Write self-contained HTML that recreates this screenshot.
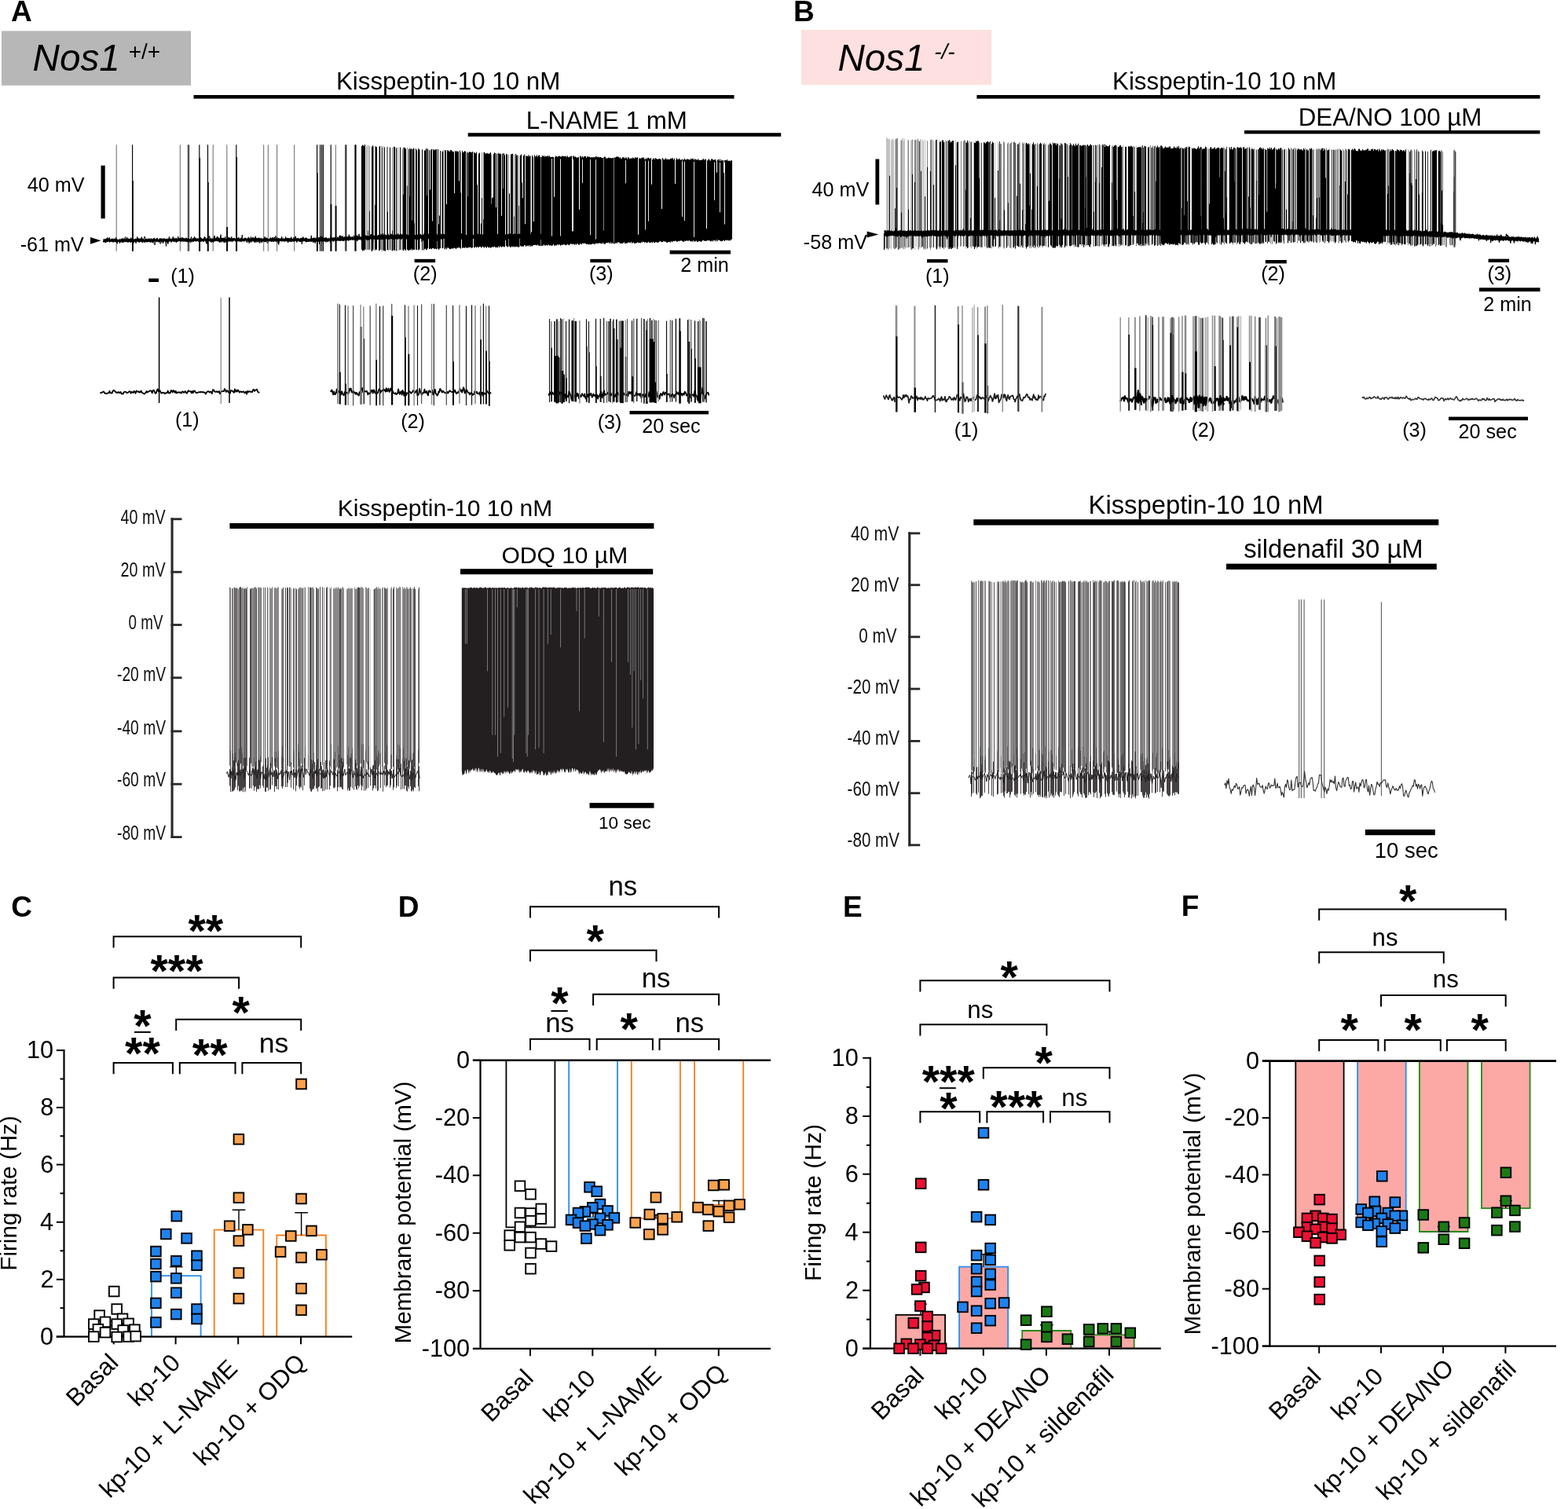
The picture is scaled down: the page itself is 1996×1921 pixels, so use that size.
<!DOCTYPE html>
<html lang="en"><head><meta charset="utf-8"><title>Figure</title>
<style>html,body{margin:0;padding:0;background:#fff}svg{display:block}text{font-family:"Liberation Sans",Arial,Helvetica,sans-serif}</style></head>
<body>
<svg width="1996" height="1921" viewBox="0 0 1996 1921">
<rect width="1996" height="1921" fill="#fff"/>
<g id="panelA">
<text x="14.03" y="27.20" font-size="37" font-weight="bold" >A</text>
<rect x="1.90" y="39.40" width="241.10" height="69.40" fill="#b7b7b7" />
<text x="41.60" y="90.00" font-size="47.6" font-style="italic" >Nos1</text>
<text x="163.72" y="75.30" font-size="28" >+/+</text>
<text x="427.95" y="113.90" font-size="31.3" >Kisspeptin-10 10 nM</text>
<rect x="246.50" y="121.00" width="688.00" height="4.60" fill="#000" />
<text x="669.76" y="164.30" font-size="31.3" >L-NAME 1 mM</text>
<rect x="595.70" y="169.20" width="398.50" height="4.60" fill="#000" />
<rect x="128.50" y="210.70" width="5.20" height="67.50" fill="#000" />
<text x="34.75" y="244.00" font-size="25.2" >40 mV</text>
<text x="25.67" y="320.00" font-size="25.2" >-61 mV</text>
<polygon points="115,302 128.5,306.3 115,310.8"/>
<path d="M465.5 303V318.4M466.5 186.4V317.8M468.5 184.8V317.9M470.5 186V317.8M472.5 302.7V319.1M475.5 186.2V317.6M477.5 186.1V318.5M482.5 186.8V318.9M484.5 302.2V317.7M485.5 185.9V318.2M486.5 187.9V319.7M487.5 186.2V318.2M492.5 186.9V318.7M493.5 186.6V318.1M494.5 301.8V319.1M498.5 301.6V319.3M499.5 187.5V318.9M500.5 301.5V319.8M506.5 187.5V319.2M508.5 301.5V318.6M511.5 301.5V318M512.5 189.7V318.3M513.5 187.4V319.3M518.5 188V317.7M521.5 187.8V318.1M524.5 188.9V318.6M527.5 189V317.8M534.5 191V318M543.5 189.5V317.9M547.5 301.4V316.6M550.5 301.4V315.9M556.5 301.4V317.2M558.5 301.4V317.9M559.5 301.4V316.4M562.5 192.5V316.3M564.5 191V315.5M565.5 301.3V316.7M568.5 301.3V317.3M586.5 194V316.6M595.5 192.7V315.5M613.5 194V314.3M615.5 194.1V314.6M625.5 196.6V315.1M627.5 301.2V314.5M631.5 301.2V314.5M638.5 301.2V314.8M640.5 195V313.4M647.5 196.7V313.6M654.5 196.7V314.5M655.5 301.1V313.7M660.5 197.8V314.6M661.5 301.1V314.4M675.5 199.1V314M688.5 199.2V313.3M768.5 199.9V310.2M781.5 200.6V310M868.5 202.4V307.1" stroke="#8a8a8a" stroke-width="1" fill="none" />
<path d="M460.5 185.9V317.8M461.5 184.4V319.5M462.5 184.9V318.2M463.5 186.2V319.3M464.5 184.1V317.5M468.5 293.8V317.9M470.5 268.7V317.8M473.5 187.1V319.9M474.5 185.3V318.2M477.5 260.7V318.5M478.5 186.4V317.5M479.5 187.2V317.9M482.5 304.3V318.9M483.5 186.1V318.8M488.5 302V319.1M489.5 187.3V319.2M490.5 301.9V319.8M493.5 269.6V318.1M496.5 187.6V318.3M499.5 293.6V318.9M501.5 186.8V318M502.5 186.9V319.1M504.5 188.3V319.6M509.5 187.6V318.1M513.5 247.6V319.3M514.5 187.8V317.3M515.5 187.9V317.7M516.5 189.4V318.9M518.5 236.4V317.7M519.5 301.5V318.9M520.5 189.8V318.9M521.5 250.1V318.1M522.5 189.6V318.4M523.5 189.6V316.8M524.5 280.5V318.6M525.5 190V317.4M526.5 188.4V318.3M527.5 284.2V317.8M529.5 189.2V317.8M530.5 190.9V317.9M532.5 188.9V318.6M533.5 190V317.6M537.5 190.2V318.5M539.5 301.4V318.5M540.5 191.5V316.7M541.5 191.5V316.8M542.5 189.1V317.8M543.5 248.8V317.9M544.5 189.6V316.1M546.5 191.3V316.9M547.5 241.5V316.6M548.5 190.7V316.5M549.5 189.7V317.2M550.5 281.4V315.9M551.5 190V316M552.5 191.3V316.4M553.5 190.5V316.9M554.5 190.4V316.4M555.5 190V317.3M557.5 190.1V316.3M558.5 285.6V317.9M559.5 274.6V316.4M560.5 192V316.1M563.5 192.7V315.9M566.5 190.9V317.5M567.5 191.7V315.6M568.5 260V317.3M569.5 190.9V315.6M570.5 192.5V315.3M571.5 191.4V315.9M572.5 193.2V317.3M573.5 191V317M574.5 191V316.8M575.5 192.8V316.1M576.5 192.4V316.7M577.5 193.4V316M578.5 246V315.5M579.5 191.9V315.9M580.5 193.3V317.1M581.5 192V315.4M582.5 192.9V315.7M583.5 192.7V315.3M584.5 301.3V314.9M584.5 230.6V314.9M585.5 191.6V315.8M586.5 245.2V316.6M588.5 191.9V315.5M589.5 194.1V315.8M590.5 193.4V315.1M591.5 192.2V316M592.5 192.8V314.4M593.5 301.3V315.6M594.5 194.2V315.4M595.5 250.1V315.5M596.5 194.4V314.7M597.5 193.5V315M598.5 193.1V314.8M599.5 194.1V314.8M600.5 194V316M601.5 193V315.1M603.5 194.1V315.3M604.5 194.6V315.3M605.5 195.2V314.1M606.5 193.6V315.4M607.5 301.2V314.1M607.5 235.2V314.1M608.5 301.2V314.9M609.5 195.4V315.1M610.5 194.4V314.1M611.5 301.2V314.1M612.5 284.6V315.6M613.5 251.9V314.3M614.5 301.2V313.8M615.5 279.2V314.6M616.5 193.7V315.6M617.5 194.8V314.1M618.5 196V314.8M619.5 194.7V315.7M620.5 195V313.8M621.5 195.9V314.7M622.5 195.3V315.5M623.5 195.4V314.6M624.5 194V315.7M625.5 259.8V315.1M626.5 301.2V314.3M626.5 252.2V314.3M627.5 251.1V314.5M628.5 196.1V314.5M629.5 194.3V313.5M630.5 195.1V314.9M631.5 264V314.5M632.5 195.4V314.9M633.5 301.2V315.2M634.5 194.7V313.2M635.5 195.9V315M636.5 195.3V313.6M637.5 196.2V313.7M638.5 274.8V314.8M639.5 195.7V314.1M640.5 240V313.4M641.5 195.3V314.6M642.5 197.5V314.3M644.5 195.7V312.9M645.5 196.7V314.2M646.5 301.1V314.5M648.5 246.5V313.7M649.5 301.1V314.7M650.5 196.5V314.7M651.5 196.1V313.6M652.5 195.8V314.5M653.5 301.1V313.4M654.5 275.6V314.5M655.5 301.2V313.7M656.5 195.9V314.6M657.5 197.7V313.8M658.5 197.4V314.2M659.5 301.1V314.6M660.5 261.7V314.6M662.5 197.7V313.2M663.5 196.6V313.2M664.5 232.6V313.9M665.5 301.1V313.6M665.5 252V313.6M666.5 198.2V313.8M667.5 196.6V312.2M668.5 301.1V311.9M668.5 285.3V311.9M669.5 198.3V313.9M670.5 198.7V312.8M671.5 198.9V313M672.5 197.2V312.2M673.5 199.5V313.7M674.5 197.9V312M675.5 298.3V314M676.5 301.1V312.7M676.5 295.3V312.7M677.5 197.7V313.6M678.5 199.7V312.6M679.5 301.1V311.7M679.5 282V311.7M680.5 197.5V311.9M681.5 199.3V311.7M682.5 199V311.9M683.5 197.3V312.5M684.5 199.8V311.5M685.5 197.9V312.4M686.5 197.5V312.9M687.5 199.8V313.1M689.5 200V312.9M690.5 197.9V313.1M691.5 199.3V311.3M692.5 198.1V312.7M693.5 199.8V311.4M694.5 198.7V312.7M695.5 198.9V312M696.5 199.2V312.2M697.5 198V312.4M698.5 199.5V311.3M699.5 198.3V312.7M700.5 200.1V312.2M701.5 200V312.4M702.5 199.8V313M703.5 199.8V312.3M704.5 200V311M705.5 250.5V312.5M706.5 200.2V313M707.5 198.5V311.9M708.5 199V312.4M709.5 200.1V311.1M710.5 198.6V312.2M711.5 199V310.8M712.5 198.4V311.8M713.5 199.5V312.7M714.5 199.4V311.9M715.5 198.4V311.4M716.5 198.8V312M717.5 198.7V310.8M718.5 199V311.4M719.5 199V311.7M720.5 198.6V312.3M721.5 199.9V311.5M722.5 198.3V310.9M723.5 200V311.6M724.5 200.3V312.2M725.5 199V311.2M726.5 199.1V310.3M727.5 198.6V310.6M728.5 294.3V311.2M729.5 198.4V310.3M730.5 198.6V311.2M731.5 199.7V311.4M732.5 199.2V310.6M733.5 200.4V311.7M734.5 200.6V310.3M735.5 200.4V310.4M736.5 200.1V311.7M737.5 266.5V311.4M738.5 198.6V310.4M739.5 198.9V310.2M740.5 200.5V311.2M741.5 198.7V309.7M742.5 200.5V309.7M743.5 199.4V310.1M744.5 198.8V309.5M745.5 199V310.3M746.5 201.1V310.9M747.5 199.3V310.9M748.5 199.4V310.5M749.5 199.6V311.5M750.5 199.7V311.1M751.5 200.4V311.2M752.5 200.4V311.2M753.5 199.9V310.7M754.5 200.5V310.3M755.5 200.3V310.3M756.5 199.9V311.2M757.5 200.6V310.3M758.5 199.1V310.2M759.5 199.4V309.4M760.5 200.1V310.2M761.5 199.6V309.5M762.5 200.4V309.9M763.5 200.1V309M764.5 200V310.3M765.5 200.5V310M766.5 201.3V310.4M767.5 200.9V308.7M768.5 293.5V310.2M769.5 199.5V310.7M770.5 199.8V310.6M771.5 201.4V309.3M772.5 201.5V308.9M773.5 201.5V309.3M774.5 200.4V308.7M775.5 200.9V309M776.5 201.1V310.3M777.5 200.9V308.3M778.5 201.8V310.5M779.5 201.1V309.1M780.5 200.9V310.3M782.5 200.5V310.4M783.5 200.5V309.6M784.5 199.6V309.2M785.5 199.6V309.8M786.5 199.5V308.2M787.5 199.8V308.4M788.5 200.9V308.9M789.5 200.3V310.3M790.5 202V309.5M791.5 201.7V309.9M792.5 200.3V309.9M793.5 200.3V309.2M794.5 200.6V308.2M795.5 201.8V310M796.5 200.6V309.9M797.5 200.7V309.4M798.5 202.4V309.6M799.5 200V308.8M800.5 200.8V308.4M801.5 202V308.8M802.5 201.7V309.2M803.5 201.3V307.8M804.5 201.7V309.8M805.5 200.4V309.2M806.5 201.2V308.4M807.5 201.8V309.9M808.5 200.1V309.7M809.5 201V309.5M810.5 200.5V309.2M811.5 200.3V308.3M812.5 298.4V309M813.5 201.9V309.2M814.5 201.1V309M815.5 201.9V309.6M816.5 201.3V308.3M817.5 200.5V308.5M818.5 200.9V307.6M819.5 200.3V308.3M820.5 202.4V308.8M821.5 202.7V308.3M822.5 201.3V308.4M823.5 202.5V309.4M824.5 200.8V308.4M825.5 200.7V307.7M826.5 201.6V309.1M827.5 202.3V309M828.5 201V308.7M829.5 234.6V308.3M830.5 203V309.2M831.5 202.2V307.8M832.5 201.2V308.8M833.5 203V309.2M834.5 201V308.3M835.5 201.9V307.9M836.5 202.7V309.1M837.5 202.5V308.5M838.5 202.5V308.4M839.5 202.1V307.4M840.5 202.7V307.1M841.5 202.4V307.7M842.5 265.8V308.3M843.5 200.9V308M844.5 202.8V306.7M845.5 203.1V307.8M846.5 202.7V307M847.5 201.2V308M848.5 203V308.4M849.5 202.6V308.9M850.5 203V307.9M851.5 202.8V308.2M852.5 203.1V307.7M853.5 201.7V308.7M854.5 201.7V307.1M855.5 201.5V308.2M856.5 201.3V307.3M857.5 203.5V307M858.5 201.8V307.3M859.5 233.7V306.4M860.5 203.6V306.8M861.5 201.3V307.7M862.5 202.8V307.6M863.5 203.1V306.8M864.5 201.6V307.3M865.5 203.1V306.4M866.5 203.7V306.5M867.5 203V306.2M868.5 271.3V307.1M869.5 203.1V307.4M870.5 203.8V308.1M871.5 201.7V306.5M872.5 203.3V307M873.5 203.4V306.4M874.5 202.2V306.3M875.5 202.7V306.7M876.5 202.8V306.6M877.5 203.3V306M878.5 203.6V307.4M879.5 201.8V306.7M880.5 202.7V307.3M881.5 201.7V307.7M882.5 202V306.1M883.5 204V307.7M884.5 202V306.8M885.5 203.2V307.5M886.5 203V306.6M887.5 204.1V308M888.5 202.3V307.9M889.5 203.5V306.9M890.5 203.9V307M891.5 203.7V307.3M892.5 203.9V307.9M893.5 203.3V307.1M894.5 203.3V306.1M895.5 202V305.9M896.5 203.7V306.8M897.5 202.5V306.4M898.5 202.7V307M899.5 291V306.6M900.5 204.2V305.7M901.5 203.5V306.4M902.5 202.2V305.8M903.5 204.2V306.6M904.5 204.5V307.4M905.5 202.4V306.9M906.5 202.2V306.2M907.5 203.3V307.5M908.5 203.7V305.6M909.5 203.5V306.4M910.5 202.7V306M911.5 204.5V307.5M912.5 219.4V305.2M913.5 203.5V307.1M914.5 202.8V305.4M915.5 204.7V305.7M916.5 202.5V306.2M917.5 205V307M918.5 203.4V307.3M919.5 204.5V306.9M920.5 204.1V305.8M921.5 220V306M922.5 203.9V307M923.5 203.7V305.8M924.5 204.1V305.6M925.5 202.9V306.2M926.5 204.8V305.4M927.5 204.8V306.6M928.5 204.6V305.7M929.5 205.2V306.6M930.5 204.2V304.9M931.5 204.2V304.7" stroke="#000" stroke-width="1.08" fill="none" />
<path d="M705.5 201.8V250.5M728.5 200.5V294.3M737.5 201.2V266.5M812.5 204.6V298.4M829.5 205V234.6M842.5 204.2V265.8M859.5 204.6V233.7M899.5 205V291M912.5 206.3V219.4M921.5 206.8V220" stroke="#fff" stroke-width="1.0" fill="none" />
<path d="M148.2 184.3V319.8M229.3 184.3V319.8M239 184.3V319.8M271.2 184.3V319.8M288.8 184.3V319.8M335.7 184.3V319.8M341.3 184.3V319.8M352.6 184.3V319.8M374.7 184.3V319.8M427.3 184.3V319.8M439.3 184.3V319.8" stroke="#666" stroke-width="1.0" fill="none" />
<path d="M168.6 184.3V319.8M240.3 184.3V319.8M253.8 184.3V319.8M264.5 184.3V319.8M300.8 184.3V319.8M403.6 184.3V319.8M407.6 184.3V319.8M409.6 184.3V319.8M411.4 184.3V319.8M421.2 184.3V319.8M440.6 184.3V319.8M452 184.3V319.8M453 184.3V319.8" stroke="#000" stroke-width="1.15" fill="none" />
<path d="M168.9 230V319.8M254.1 201V319.8M264.8 232V319.8M289.1 289V319.8M301.1 200V319.8M403.9 220V319.8M421.5 260V319.8M427.6 262V319.8" stroke="#000" stroke-width="1.9" fill="none" />
<path d="M131.5 307.9 L132.3 305.2 L133.1 304.5 L133.9 308.2 L134.7 304.5 L135.5 304.2 L136.3 303.3 L137.1 306.5 L137.9 307.6 L138.7 304.4 L139.5 302.4 L140.3 306.2 L141.1 307.5 L141.9 306.3 L142.7 305.6 L143.5 307.5 L144.3 307.2 L145.1 305.5 L145.9 307.6 L146.7 307.4 L147.5 302.3 L148.3 306 L149.1 310.3 L149.9 306.1 L150.7 305.7 L151.5 305.8 L152.3 308.9 L153.1 307.3 L153.9 306.9 L154.7 304.7 L155.5 308.8 L156.3 305.6 L157.1 303.5 L157.9 304.8 L158.7 307.3 L159.5 306.7 L160.3 307.7 L161.1 305.5 L161.9 307.6 L162.7 307 L163.5 305.9 L164.3 304.5 L165.1 306.5 L165.9 307.7 L166.7 302.7 L167.5 306.5 L168.3 304.7 L169.1 310.1 L169.9 309.9 L170.7 305.5 L171.5 307.7 L172.3 306.9 L173.1 309.8 L173.9 304.2 L174.7 307.6 L175.5 307.7 L176.3 303.7 L177.1 308.7 L177.9 307.8 L178.7 306.3 L179.5 306 L180.3 301.6 L181.1 308.7 L181.9 306.7 L182.7 303.8 L183.5 302.3 L184.3 301 L185.1 308.6 L185.9 306.3 L186.7 307 L187.5 307.9 L188.3 308 L189.1 307.1 L189.9 307.1 L190.7 306.2 L191.5 306.6 L192.3 307.8 L193.1 305.5 L193.9 309.2 L194.7 305.2 L195.5 306.8 L196.3 310.7 L197.1 311.8 L197.9 306.3 L198.7 307.5 L199.5 306.2 L200.3 305.6 L201.1 305.8 L201.9 306 L202.7 305 L203.5 306.1 L204.3 305.4 L205.1 304.4 L205.9 305.6 L206.7 305.3 L207.5 308.2 L208.3 304.4 L209.1 307.4 L209.9 305 L210.7 304.7 L211.5 307.2 L212.3 308.7 L213.1 304.4 L213.9 310.5 L214.7 303.7 L215.5 306.9 L216.3 306.2 L217.1 305.9 L217.9 308.1 L218.7 307.6 L219.5 303.1 L220.3 301.3 L221.1 302.8 L221.9 307.1 L222.7 305.3 L223.5 306.4 L224.3 302.9 L225.1 307.3 L225.9 307.5 L226.7 300.9 L227.5 307.1 L228.3 303.4 L229.1 303.4 L229.9 304.9 L230.7 302.6 L231.5 306.2 L232.3 302 L233.1 303.8 L233.9 303.4 L234.7 306.4 L235.5 307.2 L236.3 302.9 L237.1 303 L237.9 305.3 L238.7 306.6 L239.5 303 L240.3 305.5 L241.1 307.5 L241.9 305.1 L242.7 305.2 L243.5 301.4 L244.3 306.8 L245.1 305.9 L245.9 307.9 L246.7 304.1 L247.5 301.1 L248.3 304.6 L249.1 302.8 L249.9 303.9 L250.7 307.1 L251.5 304.3 L252.3 304 L253.1 305.6 L253.9 305.3 L254.7 305.6 L255.5 302.1 L256.3 305.4 L257.1 305.9 L257.9 304.1 L258.7 307.9 L259.5 306.5 L260.3 301.4 L261.1 305.8 L261.9 306.4 L262.7 310.1 L263.5 309.8 L264.3 304.8 L265.1 304.6 L265.9 303.6 L266.7 300.5 L267.5 304.3 L268.3 304.5 L269.1 308.7 L269.9 304.7 L270.7 306.9 L271.5 308.7 L272.3 302.7 L273.1 305.4 L273.9 304.3 L274.7 306.8 L275.5 303.2 L276.3 306.7 L277.1 301.3 L277.9 306.4 L278.7 306.7 L279.5 306.1 L280.3 308.1 L281.1 304.3 L281.9 303.2 L282.7 303.4 L283.5 305.5 L284.3 307.5 L285.1 305.7 L285.9 306.6 L286.7 308.8 L287.5 305.1 L288.3 305.5 L289.1 305.3 L289.9 304.9 L290.7 303.6 L291.5 302.2 L292.3 305.4 L293.1 307.3 L293.9 305.7 L294.7 301.3 L295.5 303.9 L296.3 303.5 L297.1 305.2 L297.9 303.1 L298.7 303.6 L299.5 304.6 L300.3 307.9 L301.1 305.3 L301.9 305.6 L302.7 305 L303.5 306.1 L304.3 302.8 L305.1 305.4 L305.9 307.7 L306.7 302.8 L307.5 305.3 L308.3 299 L309.1 305.1 L309.9 307.3 L310.7 305.4 L311.5 306.3 L312.3 302.8 L313.1 305.1 L313.9 308.6 L314.7 308.8 L315.5 306.1 L316.3 305.2 L317.1 306.1 L317.9 305.4 L318.7 304.9 L319.5 301.3 L320.3 305.6 L321.1 305.5 L321.9 303.5 L322.7 304.9 L323.5 305.6 L324.3 305.4 L325.1 305.7 L325.9 306.7 L326.7 304.6 L327.5 307.9 L328.3 305.3 L329.1 306.9 L329.9 306.4 L330.7 309.6 L331.5 305.6 L332.3 308 L333.1 303.6 L333.9 305.9 L334.7 305.1 L335.5 305.6 L336.3 306.6 L337.1 308.1 L337.9 305.5 L338.7 303.9 L339.5 307.4 L340.3 309.5 L341.1 308.4 L341.9 307.5 L342.7 306.2 L343.5 304.6 L344.3 306 L345.1 304.4 L345.9 307.1 L346.7 305.9 L347.5 303.8 L348.3 307.7 L349.1 301.9 L349.9 306.7 L350.7 304.9 L351.5 304.5 L352.3 306.4 L353.1 308.7 L353.9 309.3 L354.7 308.9 L355.5 306 L356.3 304 L357.1 305.1 L357.9 307 L358.7 304 L359.5 306.2 L360.3 307 L361.1 305.7 L361.9 306.1 L362.7 307.3 L363.5 301.3 L364.3 306.6 L365.1 303.9 L365.9 303 L366.7 306.8 L367.5 303.9 L368.3 304 L369.1 306.1 L369.9 307.5 L370.7 301.7 L371.5 307.9 L372.3 303.9 L373.1 306.1 L373.9 306 L374.7 306.7 L375.5 301.3 L376.3 300.8 L377.1 304.5 L377.9 308.6 L378.7 304 L379.5 303.9 L380.3 307.1 L381.1 304.2 L381.9 307.2 L382.7 305.1 L383.5 305.5 L384.3 306.4 L385.1 306.4 L385.9 301.6 L386.7 303.7 L387.5 305.2 L388.3 304.3 L389.1 302.6 L389.9 306.3 L390.7 306 L391.5 306.1 L392.3 304.3 L393.1 304.5 L393.9 304.7 L394.7 304.5 L395.5 306.6 L396.3 304.1 L397.1 303.1 L397.9 306.7 L398.7 309 L399.5 302.4 L400.3 307.3 L401.1 302.8 L401.9 306.7 L402.7 306 L403.5 299.4 L404.3 304 L405.1 305.1 L405.9 303.9 L406.7 301.9 L407.5 309.4 L408.3 300.9 L409.1 304.9 L409.9 307.4 L410.7 302.2 L411.5 302.9 L412.3 302.8 L413.1 304.4 L413.9 305.9 L414.7 305.4 L415.5 304.7 L416.3 304.5 L417.1 307.7 L417.9 306.2 L418.7 304.5 L419.5 304.8 L420.3 308.8 L421.1 303.7 L421.9 306.5 L422.7 304.2 L423.5 305.1 L424.3 307.6 L425.1 303.4 L425.9 305.5 L426.7 304.5 L427.5 305.8 L428.3 305.9 L429.1 305.3 L429.9 303.6 L430.7 304.6 L431.5 306.1 L432.3 299.8 L433.1 303.9 L433.9 299.8 L434.7 303.1 L435.5 302 L436.3 303.5 L437.1 306 L437.9 302 L438.7 301.5 L439.5 304.4 L440.3 302.6 L441.1 305.7 L441.9 305.2 L442.7 304.5 L443.5 303.9 L444.3 302.7 L445.1 304.1 L445.9 304.9 L446.7 303.3 L447.5 304.2 L448.3 301.8 L449.1 305.8 L449.9 301.7 L450.7 299.8 L451.5 306.1 L452.3 305.1 L453.1 304.1 L453.9 305.2 L454.7 299.8 L455.5 301.5 L456.3 300.4 L457.1 297.9 L457.9 305.1 L458.7 303.4 L459.5 302.6 L460.3 303.2 L461.1 305 L461.9 303.7 L462.7 302 L463.5 302.6 L464.3 304.7 L465.1 303.7 L465.9 302.8 L466.7 300.2 L467.5 305.7 L468.3 302.8 L469.1 304.9 L469.9 301 L470.7 300.6 L471.5 302.9 L472.3 303.3 L473.1 302.9 L473.9 300.3 L474.7 299.1 L475.5 303.8 L476.3 302.6 L477.1 301.6 L477.9 304 L478.7 303.2 L479.5 301 L480.3 301.5 L481.1 304.6 L481.9 303.9 L482.7 301.7 L483.5 301.7 L484.3 301.7 L485.1 297.8 L485.9 304.1 L486.7 302.5 L487.5 304 L488.3 300.5 L489.1 299.7 L489.9 299.4 L490.7 300.6 L491.5 301 L492.3 300.2 L493.1 300.5 L493.9 303.4 L494.7 299 L495.5 301.3 L496.3 303.1 L497.1 300.1 L497.9 297.8 L498.7 302.8 L499.5 303.1 L500.3 301.2 L501.1 301.3 L501.9 299.9 L502.7 301.5 L503.5 300.9 L504.3 298.8 L505.1 301.4 L505.9 300 L506.7 297 L507.5 302.2 L508.3 298.9 L509.1 301.1 L509.9 301.5 L510.7 298.9 L511.5 300.6 L512.3 301.4 L513.1 300.2 L513.9 300.9 L514.7 301.1 L515.5 300.9 L516.3 297.6 L517.1 298.5 L517.9 302.7 L518.7 300.5 L519.5 299.9 L520.3 304.5 L521.1 303.3 L521.9 300.7 L522.7 302.4 L523.5 297.7 L524.3 302.9 L525.1 304 L525.9 300.7 L526.7 302.7 L527.5 301.2 L528.3 301.2 L529.1 301.4 L529.9 301.9 L530.7 305.7 L531.5 304.3 L532.3 302.5 L533.1 295.2 L533.9 301 L534.7 302.5 L535.5 301.4 L536.3 300.9 L537.1 307.9 L537.9 300.8 L538.7 302.6 L539.5 303.9 L540.3 299.9 L541.1 300.4 L541.9 303.9 L542.7 299.3 L543.5 302.4 L544.3 300.2 L545.1 301 L545.9 297.5 L546.7 297.9 L547.5 298.3 L548.3 299.4 L549.1 301.1 L549.9 302.6 L550.7 307.3 L551.5 301.6 L552.3 302.9 L553.1 302.8 L553.9 299.4 L554.7 298.5 L555.5 299.7 L556.3 299.8 L557.1 302.3 L557.9 299.3 L558.7 301.7 L559.5 300.7 L560.3 301.2 L561.1 300.4 L561.9 299.6 L562.7 302.8 L563.5 302.3 L564.3 303.4 L565.1 301.7 L565.9 300.9 L566.7 303.3 L567.5 306.7 L568.3 299.3 L569.1 302 L569.9 304.4 L570.7 299.4 L571.5 302.6 L572.3 303.8 L573.1 302.9 L573.9 304.6 L574.7 297.8 L575.5 300 L576.3 305.7 L577.1 303.2 L577.9 301.8 L578.7 305.4 L579.5 297.2 L580.3 302.9 L581.1 301.9 L581.9 301.7 L582.7 296.5 L583.5 302.3 L584.3 298.8 L585.1 301.8 L585.9 302.6 L586.7 303.5 L587.5 297.3 L588.3 303.2 L589.1 301.1 L589.9 298.9 L590.7 302 L591.5 302.2 L592.3 304.1 L593.1 300.7 L593.9 301.9 L594.7 305 L595.5 301.7 L596.3 303.5 L597.1 302 L597.9 300.6 L598.7 301.8 L599.5 301.7 L600.3 302.4 L601.1 302.9 L601.9 300.5 L602.7 302.8 L603.5 303.7 L604.3 301.5 L605.1 298 L605.9 302.4 L606.7 300.3 L607.5 303.8 L608.3 299.9 L609.1 304.5 L609.9 302.3 L610.7 303.4 L611.5 299 L612.3 302 L613.1 298.7 L613.9 300.6 L614.7 299.6 L615.5 304.8 L616.3 303.8 L617.1 300.4 L617.9 299 L618.7 298.7 L619.5 300 L620.3 303.7 L621.1 298.8 L621.9 301.8 L622.7 299.1 L623.5 302.8 L624.3 301.5 L625.1 302.7 L625.9 302.1 L626.7 303.9 L627.5 301.3 L628.3 304.8 L629.1 304.1 L629.9 299.2 L630.7 298.8 L631.5 305.6 L632.3 300.1 L633.1 302.8 L633.9 298.6 L634.7 299.4 L635.5 298.1 L636.3 303.2 L637.1 302.2 L637.9 299.8 L638.7 301.5 L639.5 303.2 L640.3 300.2 L641.1 298.2 L641.9 302.1 L642.7 303 L643.5 305.5 L644.3 298.1 L645.1 298.2 L645.9 298.9 L646.7 301.9 L647.5 299.9 L648.3 303.8 L649.1 302.3 L649.9 298.6 L650.7 303.3 L651.5 300.5 L652.3 303.3 L653.1 301.5 L653.9 300.2 L654.7 300.1 L655.5 301.8 L656.3 297.8 L657.1 300.4 L657.9 304.6 L658.7 300.8 L659.5 302.5 L660.3 302.9 L661.1 298.2 L661.9 300.3 L662.7 299.4 L663.5 295.7 L664.3 302.4 L665.1 300.6 L665.9 304.1 L666.7 305.7 L667.5 304 L668.3 305.7 L669.1 303.1 L669.9 303 L670.7 301.8 L671.5 301.9 L672.3 299.2 L673.1 304.3 L673.9 300.5 L674.7 299.3 L675.5 302.4 L676.3 302.6 L677.1 301.8 L677.9 302.4 L678.7 298.6 L679.5 301.1 L680.3 301.9 L681.1 300.6 L681.9 298.4 L682.7 300.5 L683.5 302.3 L684.3 302.6 L685.1 303.9 L685.9 304.4 L686.7 300.6 L687.5 301.7 L688.3 298.5 L689.1 301.4 L689.9 303.6 L690.7 298.8 L691.5 302.3 L692.3 305.4 L693.1 304.3 L693.9 301.1 L694.7 304.8 L695.5 302 L696.3 302.4 L697.1 304.5 L697.9 302.4 L698.7 297.7 L699.5 302.6 L700.3 302.4 L701.1 303.6 L701.9 303 L702.7 303.6 L703.5 300.9 L704.3 299.2 L705.1 298.5 L705.9 302.3 L706.7 302.6 L707.5 299 L708.3 303.8 L709.1 299.3 L709.9 302.1 L710.7 299.6 L711.5 300.6 L712.3 302.4 L713.1 301.6 L713.9 304.1 L714.7 301.4 L715.5 298.2 L716.3 301.8 L717.1 300.4 L717.9 300.7 L718.7 302.5 L719.5 297.4" stroke="#000" stroke-width="1.0" fill="none" stroke-linejoin="round"/>
<path d="M131.5 308.5 L132.3 306.4 L133.1 306.8 L133.9 304.2 L134.7 308.3 L135.5 303.8 L136.3 303.8 L137.1 302.4 L137.9 306.8 L138.7 303.5 L139.5 308.5 L140.3 306.9 L141.1 305.3 L141.9 303.9 L142.7 304.6 L143.5 305.2 L144.3 307.1 L145.1 304.9 L145.9 304.8 L146.7 304.5 L147.5 306.4 L148.3 306.5 L149.1 307.4 L149.9 307.4 L150.7 305.7 L151.5 306.3 L152.3 309.6 L153.1 307.7 L153.9 308.4 L154.7 305.9 L155.5 303.4 L156.3 306.7 L157.1 308.3 L157.9 307.6 L158.7 303.8 L159.5 301.6 L160.3 304.5 L161.1 304.1 L161.9 302.2 L162.7 308.6 L163.5 303.7 L164.3 305.8 L165.1 305.9 L165.9 303.9 L166.7 308.7 L167.5 307.2 L168.3 307.4 L169.1 304.6 L169.9 306.9 L170.7 306.6 L171.5 306.9 L172.3 305.5 L173.1 305.5 L173.9 305.3 L174.7 301.4 L175.5 305.7 L176.3 306.2 L177.1 307.8 L177.9 303.9 L178.7 304.3 L179.5 304.1 L180.3 305.2 L181.1 308.7 L181.9 306.7 L182.7 305.5 L183.5 308.9 L184.3 304.4 L185.1 306.6 L185.9 307.8 L186.7 305.9 L187.5 308.3 L188.3 305.5 L189.1 304.3 L189.9 305.6 L190.7 307.5 L191.5 308.9 L192.3 303.3 L193.1 306.7 L193.9 307 L194.7 308.2 L195.5 304 L196.3 302.9 L197.1 304.8 L197.9 304 L198.7 304.8 L199.5 303.3 L200.3 303 L201.1 306.3 L201.9 305.6 L202.7 306.6 L203.5 309.2 L204.3 310.4 L205.1 308.9 L205.9 303.4 L206.7 305.6 L207.5 309.9 L208.3 306.5 L209.1 303.3 L209.9 305.5 L210.7 306.8 L211.5 313.5 L212.3 305.7 L213.1 307.2 L213.9 304 L214.7 305.2 L215.5 301.2 L216.3 304.7 L217.1 305.5 L217.9 308.4 L218.7 305.4 L219.5 306.1 L220.3 302.9 L221.1 307.9 L221.9 306.7 L222.7 307.4 L223.5 305.9 L224.3 308.9 L225.1 305 L225.9 304.8 L226.7 305.3 L227.5 304.6 L228.3 303.1 L229.1 303.6 L229.9 303.3 L230.7 307.8 L231.5 304.7 L232.3 303.7 L233.1 304 L233.9 303 L234.7 304 L235.5 306 L236.3 306.3 L237.1 306.1 L237.9 306.1 L238.7 304 L239.5 305.1 L240.3 305.9 L241.1 304.4 L241.9 308.1 L242.7 309 L243.5 307.3 L244.3 306.7 L245.1 304.6 L245.9 303.1 L246.7 305.5 L247.5 306.7 L248.3 304.2 L249.1 304.9 L249.9 306.6 L250.7 304.3 L251.5 306 L252.3 305.4 L253.1 304.3 L253.9 304.5 L254.7 303.3 L255.5 305.9 L256.3 306 L257.1 304.3 L257.9 305.6 L258.7 305 L259.5 303 L260.3 302.6 L261.1 301.8 L261.9 307.3 L262.7 304.3 L263.5 307.1 L264.3 310.9 L265.1 302.1 L265.9 305.9 L266.7 304 L267.5 307.4 L268.3 304.8 L269.1 306.7 L269.9 304.1 L270.7 305.8 L271.5 307.1 L272.3 303.3 L273.1 300 L273.9 304.5 L274.7 305.3 L275.5 303.7 L276.3 301.3 L277.1 305.5 L277.9 305.3 L278.7 304 L279.5 308.8 L280.3 303.3 L281.1 298.7 L281.9 308.4 L282.7 303.2 L283.5 304.6 L284.3 303.5 L285.1 308.9 L285.9 306.2 L286.7 301.3 L287.5 306.5 L288.3 308.2 L289.1 308.4 L289.9 302.7 L290.7 301.9 L291.5 304.7 L292.3 303.2 L293.1 304.4 L293.9 305.2 L294.7 305.5 L295.5 308.1 L296.3 306.2 L297.1 307.1 L297.9 303.6 L298.7 303.1 L299.5 307.1 L300.3 303.9 L301.1 303.2 L301.9 304.6 L302.7 305.4 L303.5 302.4 L304.3 306.4 L305.1 304.9 L305.9 306.5 L306.7 306.6 L307.5 303.1 L308.3 303.3 L309.1 305.8 L309.9 306.9 L310.7 304 L311.5 304.4 L312.3 305.8 L313.1 304.5 L313.9 305.6 L314.7 304.1 L315.5 304.5 L316.3 301.8 L317.1 309.6 L317.9 303.8 L318.7 308.4 L319.5 305.8 L320.3 308.4 L321.1 303.4 L321.9 302 L322.7 306.3 L323.5 304.5 L324.3 309 L325.1 300.7 L325.9 308.5 L326.7 308.1 L327.5 305.8 L328.3 307.8 L329.1 308 L329.9 307.8 L330.7 304.9 L331.5 306.2 L332.3 304.1 L333.1 309.1 L333.9 306 L334.7 304.6 L335.5 305.8 L336.3 303.3 L337.1 301.4 L337.9 307.9 L338.7 306.8 L339.5 305 L340.3 305.9 L341.1 306 L341.9 305.7 L342.7 304.8 L343.5 307.1 L344.3 302.5 L345.1 304.7 L345.9 307.8 L346.7 302.1 L347.5 306.8 L348.3 308 L349.1 306.5 L349.9 304.3 L350.7 300.4 L351.5 301.6 L352.3 303.2 L353.1 303 L353.9 303 L354.7 311.5 L355.5 306.3 L356.3 303.8 L357.1 305.3 L357.9 305.6 L358.7 301.2 L359.5 305.9 L360.3 305.7 L361.1 304.3 L361.9 305.5 L362.7 306.7 L363.5 305.3 L364.3 306.8 L365.1 306.8 L365.9 307.7 L366.7 309 L367.5 303.3 L368.3 304.1 L369.1 304.2 L369.9 306.7 L370.7 304.7 L371.5 306.9 L372.3 305.8 L373.1 306.3 L373.9 302.3 L374.7 304.9 L375.5 306.8 L376.3 303.8 L377.1 303.5 L377.9 306.1 L378.7 303.3 L379.5 306.2 L380.3 305.9 L381.1 305.8 L381.9 308 L382.7 304.9 L383.5 302.9 L384.3 310.7 L385.1 305.8 L385.9 302.9 L386.7 306.2 L387.5 306 L388.3 306.9 L389.1 306.1 L389.9 308.3 L390.7 306.9 L391.5 304.6 L392.3 304.5 L393.1 306.9 L393.9 305.8 L394.7 305.5 L395.5 306.6 L396.3 299.8 L397.1 306.3 L397.9 305.7 L398.7 303.8 L399.5 306 L400.3 305.6 L401.1 309.7 L401.9 305.9 L402.7 306.7 L403.5 307.8 L404.3 303.7 L405.1 304.1 L405.9 302.4 L406.7 311 L407.5 306.1 L408.3 306.7 L409.1 305.4 L409.9 301.2 L410.7 305.7 L411.5 305.3 L412.3 304.9 L413.1 305.2 L413.9 305.3 L414.7 308 L415.5 308.4 L416.3 307.1 L417.1 306.2 L417.9 304.9 L418.7 305 L419.5 304.4 L420.3 306.3 L421.1 300.6 L421.9 303.5 L422.7 302.1 L423.5 304.1 L424.3 304.3 L425.1 305.8 L425.9 302.4 L426.7 304.7 L427.5 305.6 L428.3 303.6 L429.1 305.1 L429.9 304.5 L430.7 303.7 L431.5 305.6 L432.3 300.8 L433.1 306.8 L433.9 303.8 L434.7 301.4 L435.5 306.3 L436.3 300.3 L437.1 307 L437.9 305.3 L438.7 305.5 L439.5 305.6 L440.3 302.7 L441.1 305 L441.9 305.2 L442.7 304.2 L443.5 302.4 L444.3 298.7 L445.1 304.1 L445.9 303.5 L446.7 302.5 L447.5 303.1 L448.3 301.1 L449.1 303.3 L449.9 304.1 L450.7 304.3 L451.5 302.8 L452.3 303.6 L453.1 305.8 L453.9 299.7 L454.7 307.1 L455.5 303.7 L456.3 303.6 L457.1 302.8 L457.9 301.2 L458.7 302 L459.5 304.9 L460.3 306.6 L461.1 299.6 L461.9 301.5 L462.7 308.2 L463.5 300.8 L464.3 300.8 L465.1 299.3 L465.9 304.7 L466.7 303.6 L467.5 300.4 L468.3 303.2 L469.1 300.2 L469.9 305.6 L470.7 299.2 L471.5 300.7 L472.3 298 L473.1 304.4 L473.9 298.5 L474.7 307.8 L475.5 300.7 L476.3 301.7 L477.1 301.7 L477.9 301.7 L478.7 301.3 L479.5 299.7 L480.3 302.6 L481.1 301.5 L481.9 299.8 L482.7 303.6 L483.5 305.5 L484.3 303.5 L485.1 304.5 L485.9 300.4 L486.7 302.5 L487.5 297 L488.3 299.6 L489.1 302.7 L489.9 304.3 L490.7 299.8 L491.5 301.4 L492.3 304.6 L493.1 302.2 L493.9 297.7 L494.7 302.6 L495.5 302.6 L496.3 300.4 L497.1 298.5 L497.9 301.3 L498.7 299.1 L499.5 297.5 L500.3 305.1 L501.1 301.4 L501.9 303.2 L502.7 302.4 L503.5 301.6 L504.3 299.3 L505.1 299.3 L505.9 302.2 L506.7 304.9 L507.5 302.5 L508.3 303.3 L509.1 299.1 L509.9 298.7 L510.7 297.8 L511.5 302.6 L512.3 298.4 L513.1 302 L513.9 302.8 L514.7 299.1 L515.5 297 L516.3 299.6 L517.1 301.9 L517.9 301.5 L518.7 303.2 L519.5 301.9 L520.3 298.6 L521.1 300.8 L521.9 301.3 L522.7 301.1 L523.5 302.5 L524.3 300.3 L525.1 303.3 L525.9 301 L526.7 303.3 L527.5 298.7 L528.3 303.9 L529.1 301.8 L529.9 296.2 L530.7 305.5 L531.5 301.7 L532.3 303.5 L533.1 301.5 L533.9 301.6 L534.7 298.6 L535.5 300.7 L536.3 303.5 L537.1 304.8 L537.9 302.3 L538.7 306.3 L539.5 298.8 L540.3 296.4 L541.1 297.7 L541.9 302.9 L542.7 298.8 L543.5 299.3 L544.3 299.3 L545.1 302.7 L545.9 301.1 L546.7 303.3 L547.5 302.1 L548.3 301 L549.1 303.1 L549.9 298.3 L550.7 302.5 L551.5 303.3 L552.3 302.6 L553.1 299.2 L553.9 298.9 L554.7 301.2 L555.5 304.4 L556.3 307 L557.1 301.3 L557.9 299.6 L558.7 299.5 L559.5 304 L560.3 303.2 L561.1 299.4 L561.9 300.9 L562.7 303.3 L563.5 297.1 L564.3 300.1 L565.1 300.9 L565.9 299.9 L566.7 304.4 L567.5 301.7 L568.3 301 L569.1 305.6 L569.9 305.1 L570.7 307.3 L571.5 301.8 L572.3 299.8 L573.1 305.2 L573.9 301.7 L574.7 302.2 L575.5 302.1 L576.3 300.3 L577.1 302.2 L577.9 303.5 L578.7 302.8 L579.5 299.2 L580.3 298.3 L581.1 301.9 L581.9 301.5 L582.7 297.9 L583.5 301.9 L584.3 302 L585.1 304 L585.9 304.7 L586.7 304.2 L587.5 304.7 L588.3 297.8 L589.1 300.6 L589.9 301.8 L590.7 302.2 L591.5 299.2 L592.3 300 L593.1 303.1 L593.9 300.4 L594.7 298 L595.5 299.7 L596.3 301.9 L597.1 301.7 L597.9 301.8 L598.7 306.6 L599.5 300 L600.3 303.8 L601.1 302.4 L601.9 304 L602.7 300.8 L603.5 302.4 L604.3 301 L605.1 300.5 L605.9 297.3 L606.7 302.3 L607.5 302.2 L608.3 302.7 L609.1 300.7 L609.9 297.8 L610.7 298.1 L611.5 300.4 L612.3 297.7 L613.1 300 L613.9 305.1 L614.7 302.6 L615.5 302.8 L616.3 297.9 L617.1 301.4 L617.9 302 L618.7 301.4 L619.5 300.4 L620.3 302.1 L621.1 303.1 L621.9 300 L622.7 299.3 L623.5 300 L624.3 304.2 L625.1 297.5 L625.9 301.9 L626.7 300.7 L627.5 298.4 L628.3 298.8 L629.1 303.5 L629.9 299.8 L630.7 299.9 L631.5 301.4 L632.3 301.6 L633.1 301.2 L633.9 300.6 L634.7 304.5 L635.5 299 L636.3 302.7 L637.1 300.4 L637.9 306.8 L638.7 302.6 L639.5 300.4 L640.3 300.4 L641.1 301.8 L641.9 299.9 L642.7 302.1 L643.5 300.9 L644.3 299.3 L645.1 300.9 L645.9 300.7 L646.7 300.3 L647.5 298.2 L648.3 300.2 L649.1 304.6 L649.9 304.1 L650.7 297.7 L651.5 300.3 L652.3 299 L653.1 298.1 L653.9 299.3 L654.7 299.4 L655.5 305.1 L656.3 301.8 L657.1 298 L657.9 301.1 L658.7 300.4 L659.5 302 L660.3 299 L661.1 299.9 L661.9 298.3 L662.7 298.1 L663.5 302.7 L664.3 305.3 L665.1 295.8 L665.9 305.7 L666.7 301.6 L667.5 301.5 L668.3 298.3 L669.1 301.2 L669.9 299.1 L670.7 300.6 L671.5 301.4 L672.3 304.5 L673.1 299.4 L673.9 298.2 L674.7 300.8 L675.5 301.6 L676.3 299.9 L677.1 298 L677.9 299.6 L678.7 296.1 L679.5 298.2 L680.3 300.9 L681.1 304.2 L681.9 301.4 L682.7 299 L683.5 303.1 L684.3 300.2 L685.1 301.8 L685.9 302.1 L686.7 296.2 L687.5 304.9 L688.3 304.9 L689.1 298.7 L689.9 299.7 L690.7 298.9 L691.5 299.2 L692.3 298.8 L693.1 303 L693.9 300.4 L694.7 298.4 L695.5 303.1 L696.3 302.2 L697.1 297.8 L697.9 302.6 L698.7 303.5 L699.5 300.8 L700.3 302.7 L701.1 301 L701.9 301.3 L702.7 303.3 L703.5 303.1 L704.3 301.3 L705.1 300 L705.9 303.2 L706.7 300.2 L707.5 301.1 L708.3 300.4 L709.1 304.4 L709.9 302.9 L710.7 301.5 L711.5 301.3 L712.3 300.7 L713.1 300.5 L713.9 297.7 L714.7 303 L715.5 304 L716.3 303.7 L717.1 305.8 L717.9 297.9 L718.7 298.1 L719.5 298.4" stroke="#000" stroke-width="1.0" fill="none" stroke-linejoin="round"/>
<path d="M131.5 303.7 L132.3 304.5 L133.1 305.1 L133.9 305.1 L134.7 303.7 L135.5 305 L136.3 304.2 L137.1 304.4 L137.9 305 L138.7 304.7 L139.5 304 L140.3 305.1 L141.1 305.2 L141.9 304.9 L142.7 303.4 L143.5 303.4 L144.3 304.5 L145.1 303.5 L145.9 303.5 L146.7 305 L147.5 303.4 L148.3 303.9 L149.1 303.9 L149.9 305.1 L150.7 305.2 L151.5 304.8 L152.3 304.2 L153.1 303.5 L153.9 305.2 L154.7 303.7 L155.5 304.5 L156.3 304.8 L157.1 304.3 L157.9 305 L158.7 305.1 L159.5 304 L160.3 304.6 L161.1 303.4 L161.9 304.1 L162.7 304.5 L163.5 303.7 L164.3 303.9 L165.1 304.7 L165.9 303.6 L166.7 305 L167.5 303.5 L168.3 303.6 L169.1 304.4 L169.9 303.6 L170.7 304.8 L171.5 303.9 L172.3 303.4 L173.1 304.5 L173.9 304 L174.7 304.4 L175.5 303.3 L176.3 303.2 L177.1 303.7 L177.9 304.1 L178.7 303.5 L179.5 303.5 L180.3 304.8 L181.1 303.6 L181.9 303.8 L182.7 304.8 L183.5 305.1 L184.3 304.6 L185.1 303.3 L185.9 304.6 L186.7 303.2 L187.5 304.6 L188.3 303.6 L189.1 303.5 L189.9 303.9 L190.7 303.3 L191.5 304.4 L192.3 304.7 L193.1 304.3 L193.9 304.6 L194.7 303.3 L195.5 303.5 L196.3 304.7 L197.1 303.6 L197.9 304.5 L198.7 304.1 L199.5 303.3 L200.3 303.4 L201.1 304.8 L201.9 304.8 L202.7 304.1 L203.5 303 L204.3 303 L205.1 304.8 L205.9 304.5 L206.7 304.3 L207.5 303.4 L208.3 304.7 L209.1 303.1 L209.9 304.3 L210.7 304.3 L211.5 303.6 L212.3 304.5 L213.1 303.3 L213.9 304.8 L214.7 304.7 L215.5 303.5 L216.3 303.5 L217.1 304.4 L217.9 303.5 L218.7 304 L219.5 304.2 L220.3 304.7 L221.1 304.3 L221.9 303.4 L222.7 303.5 L223.5 303 L224.3 304.4 L225.1 304.5 L225.9 303.2 L226.7 303.7 L227.5 303.5 L228.3 303.4 L229.1 302.8 L229.9 304 L230.7 304.7 L231.5 303.1 L232.3 304.3 L233.1 304.3 L233.9 303.8 L234.7 304.4 L235.5 303.6 L236.3 304 L237.1 302.9 L237.9 303 L238.7 303.9 L239.5 304.4 L240.3 303.7 L241.1 304.6 L241.9 303.7 L242.7 303.5 L243.5 304.3 L244.3 304.5 L245.1 304.5 L245.9 304 L246.7 303.1 L247.5 303.3 L248.3 303.8 L249.1 302.7 L249.9 303.2 L250.7 304.2 L251.5 303.1 L252.3 303.9 L253.1 303.2 L253.9 302.9 L254.7 303.3 L255.5 303.3 L256.3 303.2 L257.1 303.2 L257.9 304.4 L258.7 303.7 L259.5 303.6 L260.3 303.1 L261.1 303.2 L261.9 304.2 L262.7 303.2 L263.5 302.9 L264.3 303.3 L265.1 303.9 L265.9 304.4 L266.7 304.2 L267.5 303.5 L268.3 302.9 L269.1 304.3 L269.9 302.6 L270.7 303.7 L271.5 304.5 L272.3 303.1 L273.1 303.6 L273.9 303.1 L274.7 303.3 L275.5 302.7 L276.3 303.7 L277.1 303.9 L277.9 302.7 L278.7 302.5 L279.5 302.9 L280.3 303.2 L281.1 303.3 L281.9 303.9 L282.7 303.5 L283.5 302.5 L284.3 302.5 L285.1 303.3 L285.9 302.8 L286.7 304 L287.5 303.9 L288.3 304 L289.1 303.6 L289.9 302.8 L290.7 304 L291.5 303 L292.3 302.7 L293.1 302.5 L293.9 303.2 L294.7 304.3 L295.5 303.7 L296.3 303.7 L297.1 303.1 L297.9 303.2 L298.7 304.2 L299.5 304.3 L300.3 303 L301.1 303.5 L301.9 303.3 L302.7 302.7 L303.5 303.4 L304.3 302.5 L305.1 303.9 L305.9 303.2 L306.7 303.7 L307.5 303.9 L308.3 302.8 L309.1 304.2 L309.9 304.3 L310.7 303.3 L311.5 302.5 L312.3 303.6 L313.1 303.7 L313.9 302.8 L314.7 303.9 L315.5 302.9 L316.3 302.9 L317.1 302.5 L317.9 303.6 L318.7 303.9 L319.5 303.8 L320.3 303 L321.1 303 L321.9 302.5 L322.7 302.7 L323.5 302.9 L324.3 302.8 L325.1 302.5 L325.9 303.2 L326.7 302.4 L327.5 303.4 L328.3 302.4 L329.1 303.1 L329.9 302.6 L330.7 302.7 L331.5 303.8 L332.3 302.5 L333.1 304 L333.9 303.8 L334.7 303.7 L335.5 303.5 L336.3 303.8 L337.1 302.8 L337.9 303.2 L338.7 302.4 L339.5 302.4 L340.3 303.2 L341.1 303.6 L341.9 304.3 L342.7 304.1 L343.5 302.5 L344.3 304.2 L345.1 303.2 L345.9 303.2 L346.7 302.7 L347.5 302.6 L348.3 303.3 L349.1 303.5 L349.9 304.1 L350.7 303.7 L351.5 302.8 L352.3 303.6 L353.1 304.1 L353.9 302.9 L354.7 303 L355.5 302.9 L356.3 304.4 L357.1 302.7 L357.9 303.7 L358.7 303.2 L359.5 303.9 L360.3 303.4 L361.1 302.9 L361.9 304.2 L362.7 303.5 L363.5 302.5 L364.3 302.9 L365.1 302.8 L365.9 303.1 L366.7 302.8 L367.5 303.7 L368.3 303.7 L369.1 303.2 L369.9 303 L370.7 303.7 L371.5 303.2 L372.3 304 L373.1 304.2 L373.9 303.9 L374.7 304.3 L375.5 303.1 L376.3 304.2 L377.1 303.3 L377.9 304.2 L378.7 303.7 L379.5 303 L380.3 303 L381.1 304.2 L381.9 303.4 L382.7 302.8 L383.5 303.6 L384.3 302.8 L385.1 302.6 L385.9 303 L386.7 304 L387.5 302.9 L388.3 304.2 L389.1 302.6 L389.9 303.2 L390.7 302.5 L391.5 303.9 L392.3 303.7 L393.1 304.1 L393.9 304.1 L394.7 304.3 L395.5 303.3 L396.3 303.2 L397.1 303.7 L397.9 303.5 L398.7 302.9 L399.5 303.4 L400.3 303.3 L401.1 304.2 L401.9 302.6 L402.7 303.8 L403.5 303.8 L404.3 304.1 L405.1 303.4 L405.9 303.6 L406.7 302.4 L407.5 303.9 L408.3 302.2 L409.1 303.3 L409.9 302.3 L410.7 302.5 L411.5 303.4 L412.3 302.7 L413.1 303.3 L413.9 302.3 L414.7 302 L415.5 302.5 L416.3 302.8 L417.1 303.4 L417.9 303.4 L418.7 302.4 L419.5 303.5 L420.3 302.7 L421.1 301.9 L421.9 302.5 L422.7 302.9 L423.5 303 L424.3 301.7 L425.1 303.3 L425.9 302.5 L426.7 301.3 L427.5 301.9 L428.3 302.9 L429.1 301.3 L429.9 301.8 L430.7 302.5 L431.5 301.4 L432.3 302.5 L433.1 302.2 L433.9 301.5 L434.7 302.6 L435.5 301.1 L436.3 301.3 L437.1 302.4 L437.9 302 L438.7 301.2 L439.5 301.5 L440.3 302.4 L441.1 301 L441.9 300.8 L442.7 301.6 L443.5 301 L444.3 301.9 L445.1 301 L445.9 300.8 L446.7 301.7 L447.5 302.3 L448.3 301.5 L449.1 302.3 L449.9 302.3 L450.7 301.8 L451.5 301.4 L452.3 300.9 L453.1 300.3 L453.9 301.2 L454.7 300.4 L455.5 301.2 L456.3 300.8 L457.1 301.1 L457.9 301.1 L458.7 301 L459.5 301.7 L460.3 300.9 L461.1 300 L461.9 301.5 L462.7 301.1 L463.5 300.4 L464.3 300.5 L465.1 300.7 L465.9 300.3 L466.7 300.8 L467.5 301.4 L468.3 299.5 L469.1 301.2 L469.9 301.3 L470.7 301 L471.5 300.1 L472.3 300.5 L473.1 300.1 L473.9 299.8 L474.7 299.4 L475.5 299.4 L476.3 299.9 L477.1 299.5 L477.9 299.3 L478.7 300.1 L479.5 299.4 L480.3 300.4 L481.1 298.9 L481.9 299.1 L482.7 299.5 L483.5 299 L484.3 300.2 L485.1 299.5 L485.9 298.6 L486.7 298.9 L487.5 299.8 L488.3 299 L489.1 298.9 L489.9 298.7 L490.7 298.3 L491.5 299.7 L492.3 298.8 L493.1 298.6 L493.9 298.3 L494.7 299.1 L495.5 299.5 L496.3 299.9 L497.1 299.8 L497.9 297.9 L498.7 298.8 L499.5 298.8 L500.3 298.9 L501.1 298.6 L501.9 299.6 L502.7 298.9 L503.5 298.6 L504.3 299.7 L505.1 298.8 L505.9 297.7 L506.7 299 L507.5 299.6 L508.3 299 L509.1 298.1 L509.9 299.3 L510.7 297.7 L511.5 299.3 L512.3 297.9 L513.1 299.3 L513.9 298 L514.7 297.9 L515.5 298.1 L516.3 298.6 L517.1 299 L517.9 298.6 L518.7 297.7 L519.5 299.4 L520.3 299.2 L521.1 298.3 L521.9 297.6 L522.7 298.4 L523.5 299.5 L524.3 299.4 L525.1 297.9 L525.9 297.9 L526.7 299.5 L527.5 298.2 L528.3 298.9 L529.1 299.4 L529.9 299.2 L530.7 299.1 L531.5 298.7 L532.3 299.1 L533.1 298 L533.9 299.3 L534.7 297.9 L535.5 297.7 L536.3 299 L537.1 299.5 L537.9 299 L538.7 298.7 L539.5 297.7 L540.3 298.5 L541.1 297.8 L541.9 298.6 L542.7 298.3 L543.5 297.7 L544.3 298.6 L545.1 299 L545.9 298.9 L546.7 297.7 L547.5 299.3 L548.3 299.3 L549.1 298.2 L549.9 299.4 L550.7 297.8 L551.5 298.2 L552.3 299.1 L553.1 297.6 L553.9 298.2 L554.7 297.4 L555.5 297.8 L556.3 298.1 L557.1 299.1 L557.9 298.7 L558.7 297.6 L559.5 299 L560.3 298.9 L561.1 298 L561.9 297.7 L562.7 298.9 L563.5 299.3 L564.3 297.8 L565.1 298 L565.9 298 L566.7 299.3 L567.5 297.5 L568.3 297.4 L569.1 297.7 L569.9 298.3 L570.7 299.3 L571.5 297.4 L572.3 299 L573.1 298.4 L573.9 299.1 L574.7 299.3 L575.5 298.8 L576.3 297.8 L577.1 299.2 L577.9 297.4 L578.7 299.3 L579.5 298.2 L580.3 297.9 L581.1 299.1 L581.9 298.3 L582.7 298.1 L583.5 297.9 L584.3 298.2 L585.1 297.8 L585.9 298.3 L586.7 298.2 L587.5 297.8 L588.3 297.3 L589.1 297.6 L589.9 298.9 L590.7 298.7 L591.5 299.1 L592.3 297.6 L593.1 299.1 L593.9 299.1 L594.7 298 L595.5 299.2 L596.3 299.2 L597.1 299 L597.9 298.4 L598.7 299 L599.5 297.6 L600.3 297.5 L601.1 297.5 L601.9 298.6 L602.7 299.2 L603.5 297.6 L604.3 297.5 L605.1 299 L605.9 299 L606.7 297.5 L607.5 297.3 L608.3 297.8 L609.1 297.8 L609.9 297.2 L610.7 297.5 L611.5 298.9 L612.3 297.3 L613.1 298.1 L613.9 298.6 L614.7 298.6 L615.5 297.8 L616.3 297.5 L617.1 298.1 L617.9 297.9 L618.7 298.1 L619.5 297.8 L620.3 298.1 L621.1 299.1 L621.9 297.2 L622.7 297.6 L623.5 298.9 L624.3 298.2 L625.1 298.7 L625.9 297.3 L626.7 299.1 L627.5 297.2 L628.3 298.7 L629.1 297.6 L629.9 298.6 L630.7 298.8 L631.5 298.6 L632.3 299.1 L633.1 297.6 L633.9 298.8 L634.7 298.4 L635.5 297.5 L636.3 297.6 L637.1 297.3 L637.9 298.9 L638.7 297.8 L639.5 297.8 L640.3 297.4 L641.1 298.7 L641.9 298.2 L642.7 297.5 L643.5 298.7 L644.3 298.2 L645.1 298.7 L645.9 298.5 L646.7 298 L647.5 297.8 L648.3 298.9 L649.1 297.4 L649.9 297.3 L650.7 298.8 L651.5 298.4 L652.3 298.9 L653.1 298.3 L653.9 299.1 L654.7 297.9 L655.5 297.2 L656.3 298.4 L657.1 297.6 L657.9 297.8 L658.7 297.8 L659.5 297.7 L660.3 298.1 L661.1 298.2 L661.9 297.2 L662.7 298.8 L663.5 297.7 L664.3 298.5 L665.1 297.7 L665.9 297.3 L666.7 297.7 L667.5 297.5 L668.3 297.6 L669.1 298.3 L669.9 298.4 L670.7 297.4 L671.5 298.4 L672.3 298.2 L673.1 297.3 L673.9 298.2 L674.7 297.1 L675.5 298.3 L676.3 297.5 L677.1 298.2 L677.9 298.9 L678.7 298.4 L679.5 298.1 L680.3 298.1 L681.1 297.5 L681.9 297.9 L682.7 297.1 L683.5 297.9 L684.3 298.9 L685.1 298 L685.9 298.4 L686.7 298.8 L687.5 298.1 L688.3 297.2 L689.1 298.9 L689.9 298 L690.7 297.8 L691.5 297.1 L692.3 298.4 L693.1 298.6 L693.9 298 L694.7 297.3 L695.5 298.3 L696.3 297.3 L697.1 297.6 L697.9 297.4 L698.7 298 L699.5 298.2 L700.3 298 L701.1 297.2 L701.9 297.4 L702.7 297.3 L703.5 297.9 L704.3 298.8 L705.1 298.2 L705.9 298.6 L706.7 297.1 L707.5 297 L708.3 298 L709.1 297.4 L709.9 297.6 L710.7 298.4 L711.5 297.1 L712.3 298.7 L713.1 297.7 L713.9 298.1 L714.7 297 L715.5 297 L716.3 298.3 L717.1 297 L717.9 298.2 L718.7 297.5 L719.5 297.5 L720.3 298.8 L721.1 298.6 L721.9 297.5 L722.7 297.7 L723.5 297.5 L724.3 297.2 L725.1 298.8 L725.9 298.2 L726.7 298.4 L727.5 297.8 L728.3 297.3 L729.1 298.2 L729.9 297.4 L730.7 298.8 L731.5 298.8 L732.3 298.9 L733.1 297.4 L733.9 297.5 L734.7 298.7 L735.5 297.9 L736.3 298 L737.1 298.4 L737.9 297.4 L738.7 297.9 L739.5 297.1 L740.3 297 L741.1 298.9 L741.9 298.4 L742.7 298.2 L743.5 297.3 L744.3 297.5 L745.1 298.8 L745.9 298.9 L746.7 298.2 L747.5 298.8 L748.3 297.7 L749.1 298.6 L749.9 298.4 L750.7 297.4 L751.5 298.8 L752.3 297 L753.1 297.5 L753.9 297.9 L754.7 298.8 L755.5 297.7 L756.3 297.2 L757.1 298.4 L757.9 298.3 L758.7 297.2 L759.5 298.3 L759.5 304.7 L758.7 304.8 L757.9 304.8 L757.1 304.1 L756.3 304.3 L755.5 304 L754.7 303.9 L753.9 303.6 L753.1 303.8 L752.3 303.3 L751.5 303.1 L750.7 303.4 L749.9 303.4 L749.1 303.3 L748.3 303.2 L747.5 303.3 L746.7 304.7 L745.9 304 L745.1 303.6 L744.3 304.6 L743.5 304.2 L742.7 304.7 L741.9 303.1 L741.1 304.2 L740.3 303.5 L739.5 303.3 L738.7 303.1 L737.9 303.5 L737.1 303.7 L736.3 304.9 L735.5 304.7 L734.7 304.8 L733.9 304.2 L733.1 303.4 L732.3 304.2 L731.5 304.6 L730.7 303.1 L729.9 303.7 L729.1 303.7 L728.3 304.8 L727.5 304.7 L726.7 304.3 L725.9 304.8 L725.1 303.9 L724.3 304.5 L723.5 303.6 L722.7 304.5 L721.9 304.5 L721.1 304.5 L720.3 303.8 L719.5 304.8 L718.7 303.2 L717.9 303.4 L717.1 303.4 L716.3 303.9 L715.5 303.1 L714.7 304.6 L713.9 304.2 L713.1 304.7 L712.3 304.1 L711.5 304.3 L710.7 303.2 L709.9 303.4 L709.1 304.9 L708.3 304.7 L707.5 304.5 L706.7 304.2 L705.9 303.2 L705.1 304.4 L704.3 303.9 L703.5 303.5 L702.7 304 L701.9 303.4 L701.1 303.2 L700.3 303.1 L699.5 303.5 L698.7 303.7 L697.9 304 L697.1 303.2 L696.3 303.2 L695.5 303.8 L694.7 303.9 L693.9 304.3 L693.1 303.9 L692.3 303.9 L691.5 303.7 L690.7 303.3 L689.9 304.9 L689.1 304.5 L688.3 304.5 L687.5 304.7 L686.7 304.7 L685.9 303.8 L685.1 304.5 L684.3 304.1 L683.5 304.1 L682.7 303.4 L681.9 303.9 L681.1 304.6 L680.3 304.5 L679.5 304.6 L678.7 304.1 L677.9 303.3 L677.1 304.7 L676.3 304.5 L675.5 304.8 L674.7 304.2 L673.9 304.7 L673.1 303.8 L672.3 303.6 L671.5 303.9 L670.7 303.1 L669.9 303.9 L669.1 304 L668.3 304.6 L667.5 304.9 L666.7 304 L665.9 304.9 L665.1 303.2 L664.3 303.5 L663.5 304.8 L662.7 303.6 L661.9 303.4 L661.1 303.4 L660.3 303.4 L659.5 304.2 L658.7 303.4 L657.9 303.7 L657.1 303.7 L656.3 303.9 L655.5 304 L654.7 304.7 L653.9 303.6 L653.1 303.2 L652.3 303.9 L651.5 304.7 L650.7 303.9 L649.9 304.2 L649.1 303.2 L648.3 304.3 L647.5 303.9 L646.7 303.2 L645.9 303.8 L645.1 303.2 L644.3 304.4 L643.5 303.5 L642.7 304.6 L641.9 303.3 L641.1 304.9 L640.3 303.4 L639.5 304.3 L638.7 303.8 L637.9 304.7 L637.1 304 L636.3 304 L635.5 304.3 L634.7 304.3 L633.9 304 L633.1 304 L632.3 304.5 L631.5 304 L630.7 304.7 L629.9 304.7 L629.1 303.9 L628.3 303.9 L627.5 304 L626.7 304.4 L625.9 304.3 L625.1 303.4 L624.3 304.4 L623.5 303.4 L622.7 304.9 L621.9 304.3 L621.1 304.2 L620.3 303.5 L619.5 303.6 L618.7 304.5 L617.9 304 L617.1 303.9 L616.3 304.8 L615.5 303.5 L614.7 303.4 L613.9 304.8 L613.1 304.7 L612.3 304.3 L611.5 303.4 L610.7 304.7 L609.9 304.5 L609.1 304.3 L608.3 303.4 L607.5 304.1 L606.7 304.1 L605.9 304.8 L605.1 303.7 L604.3 303.4 L603.5 304.9 L602.7 303.8 L601.9 304.1 L601.1 304.5 L600.3 303.9 L599.5 303.4 L598.7 303.3 L597.9 303.9 L597.1 304.9 L596.3 303.4 L595.5 304 L594.7 304.1 L593.9 304.1 L593.1 304.5 L592.3 304.7 L591.5 304.3 L590.7 305 L589.9 303.6 L589.1 304.5 L588.3 304.6 L587.5 303.7 L586.7 303.8 L585.9 303.6 L585.1 304.1 L584.3 303.5 L583.5 303.5 L582.7 304.4 L581.9 304.8 L581.1 304.9 L580.3 303.3 L579.5 303.8 L578.7 304.1 L577.9 304 L577.1 303.4 L576.3 303.5 L575.5 303.8 L574.7 303.8 L573.9 304.9 L573.1 303.5 L572.3 305 L571.5 303.7 L570.7 303.7 L569.9 304.7 L569.1 303.5 L568.3 304.6 L567.5 303.6 L566.7 304.8 L565.9 304 L565.1 303.5 L564.3 304.6 L563.5 304.8 L562.7 304.9 L561.9 304.8 L561.1 304.1 L560.3 303.8 L559.5 303.8 L558.7 304 L557.9 304.3 L557.1 303.3 L556.3 303.4 L555.5 303.4 L554.7 304.2 L553.9 304.6 L553.1 303.9 L552.3 304.6 L551.5 303.4 L550.7 303.6 L549.9 304.2 L549.1 303.6 L548.3 305 L547.5 304.1 L546.7 304.3 L545.9 304.2 L545.1 303.9 L544.3 304.9 L543.5 303.5 L542.7 304 L541.9 303.7 L541.1 303.9 L540.3 304.3 L539.5 303.8 L538.7 303.4 L537.9 304.2 L537.1 304.6 L536.3 303.8 L535.5 303.5 L534.7 304.2 L533.9 304.9 L533.1 304.4 L532.3 303.8 L531.5 304.1 L530.7 304.1 L529.9 303.6 L529.1 305.1 L528.3 304.4 L527.5 304.6 L526.7 304.7 L525.9 303.8 L525.1 304.9 L524.3 304.9 L523.5 304.2 L522.7 304.5 L521.9 303.6 L521.1 303.6 L520.3 304 L519.5 304.8 L518.7 303.9 L517.9 304.4 L517.1 304.4 L516.3 304.1 L515.5 304.6 L514.7 304.5 L513.9 304.2 L513.1 303.5 L512.3 303.6 L511.5 304.6 L510.7 304.9 L509.9 303.9 L509.1 304.1 L508.3 304 L507.5 303.8 L506.7 303.9 L505.9 304.6 L505.1 304.5 L504.3 304.7 L503.5 304.6 L502.7 303.9 L501.9 303.3 L501.1 304 L500.3 304.5 L499.5 303.6 L498.7 304.7 L497.9 304.2 L497.1 304 L496.3 304.9 L495.5 304.5 L494.7 305.2 L493.9 305 L493.1 304.6 L492.3 303.7 L491.5 303.6 L490.7 305.3 L489.9 304.1 L489.1 304.2 L488.3 304.3 L487.5 305 L486.7 305.2 L485.9 305.3 L485.1 304.5 L484.3 304.7 L483.5 305.4 L482.7 304.7 L481.9 304 L481.1 305.6 L480.3 304.8 L479.5 305.2 L478.7 304.2 L477.9 305.3 L477.1 304.4 L476.3 305 L475.5 304.1 L474.7 305.8 L473.9 304.5 L473.1 304.2 L472.3 304.6 L471.5 304.2 L470.7 305.7 L469.9 305 L469.1 305.4 L468.3 305.1 L467.5 304.8 L466.7 305.8 L465.9 304.5 L465.1 304.5 L464.3 306.1 L463.5 306 L462.7 305.3 L461.9 306.1 L461.1 305.3 L460.3 305.3 L459.5 304.8 L458.7 305.1 L457.9 304.6 L457.1 306.1 L456.3 305 L455.5 305.7 L454.7 306.4 L453.9 305.2 L453.1 304.9 L452.3 306.1 L451.5 305.3 L450.7 305.6 L449.9 305.2 L449.1 305.1 L448.3 305.3 L447.5 305.3 L446.7 305.7 L445.9 305.9 L445.1 305.4 L444.3 306.6 L443.5 306.7 L442.7 305.9 L441.9 305.9 L441.1 306.7 L440.3 306.1 L439.5 305.7 L438.7 306.2 L437.9 306.8 L437.1 305.4 L436.3 307 L435.5 306 L434.7 306.9 L433.9 305.4 L433.1 307 L432.3 307.1 L431.5 306.1 L430.7 306.8 L429.9 306.8 L429.1 306.2 L428.3 307.1 L427.5 307 L426.7 306.6 L425.9 307.4 L425.1 305.8 L424.3 307.5 L423.5 306.8 L422.7 306.4 L421.9 306 L421.1 306.2 L420.3 306.3 L419.5 306 L418.7 307 L417.9 307.7 L417.1 307.5 L416.3 307.5 L415.5 306.8 L414.7 307.5 L413.9 307.4 L413.1 307.3 L412.3 307.8 L411.5 306.8 L410.7 307.7 L409.9 307.4 L409.1 307.6 L408.3 306.8 L407.5 307.3 L406.7 307.8 L405.9 307.5 L405.1 308.1 L404.3 308 L403.5 307.1 L402.7 307.6 L401.9 307.9 L401.1 307 L400.3 307.2 L399.5 307.9 L398.7 308.3 L397.9 306.9 L397.1 307.6 L396.3 308.1 L395.5 308 L394.7 307.1 L393.9 308 L393.1 308.1 L392.3 307.9 L391.5 307.8 L390.7 307.4 L389.9 308 L389.1 306.9 L388.3 308.1 L387.5 306.8 L386.7 307.1 L385.9 307.6 L385.1 307.6 L384.3 307.5 L383.5 308 L382.7 307.9 L381.9 307.3 L381.1 307.8 L380.3 307.2 L379.5 306.5 L378.7 306.6 L377.9 308.2 L377.1 307.9 L376.3 306.5 L375.5 307.3 L374.7 307.7 L373.9 307.8 L373.1 307.7 L372.3 306.7 L371.5 307.6 L370.7 307.8 L369.9 307.4 L369.1 308.1 L368.3 307.4 L367.5 308.2 L366.7 306.8 L365.9 307.1 L365.1 307.3 L364.3 306.9 L363.5 306.4 L362.7 308.1 L361.9 307.1 L361.1 308.1 L360.3 306.6 L359.5 307.6 L358.7 307.2 L357.9 307.8 L357.1 306.6 L356.3 306.9 L355.5 308.2 L354.7 308.2 L353.9 307.9 L353.1 306.6 L352.3 308 L351.5 307.4 L350.7 307.8 L349.9 307.1 L349.1 306.9 L348.3 306.5 L347.5 306.9 L346.7 307.5 L345.9 307 L345.1 306.7 L344.3 308.1 L343.5 306.6 L342.7 307.2 L341.9 307.4 L341.1 306.7 L340.3 307.7 L339.5 306.8 L338.7 307.5 L337.9 308 L337.1 306.6 L336.3 308 L335.5 307.2 L334.7 307.4 L333.9 308 L333.1 307.5 L332.3 306.8 L331.5 306.5 L330.7 306.6 L329.9 306.4 L329.1 307.5 L328.3 308.1 L327.5 306.6 L326.7 306.4 L325.9 307.1 L325.1 307.7 L324.3 307.5 L323.5 307.4 L322.7 307.8 L321.9 306.9 L321.1 307.2 L320.3 308.1 L319.5 306.6 L318.7 307.5 L317.9 306.4 L317.1 306.7 L316.3 307.4 L315.5 307.7 L314.7 306.6 L313.9 307.5 L313.1 306.3 L312.3 306.5 L311.5 307.2 L310.7 307.8 L309.9 307 L309.1 306.9 L308.3 307 L307.5 308 L306.7 307.8 L305.9 306.9 L305.1 307.5 L304.3 307.5 L303.5 307 L302.7 308.1 L301.9 306.4 L301.1 307.3 L300.3 307.8 L299.5 306.4 L298.7 306.4 L297.9 306.3 L297.1 306.3 L296.3 306.4 L295.5 307.5 L294.7 307 L293.9 307.8 L293.1 306.4 L292.3 307.6 L291.5 307.5 L290.7 307.8 L289.9 306.9 L289.1 307.2 L288.3 307.9 L287.5 307.6 L286.7 307.4 L285.9 306.6 L285.1 306.8 L284.3 307 L283.5 307.6 L282.7 307.5 L281.9 307.1 L281.1 306.6 L280.3 307.2 L279.5 307.8 L278.7 306.9 L277.9 308.1 L277.1 307.1 L276.3 307.6 L275.5 306.6 L274.7 306.9 L273.9 307.2 L273.1 307.6 L272.3 307.6 L271.5 307.4 L270.7 307.8 L269.9 307.5 L269.1 307.1 L268.3 307.4 L267.5 308.1 L266.7 306.7 L265.9 307.3 L265.1 306.9 L264.3 306.7 L263.5 308 L262.7 306.7 L261.9 307.6 L261.1 307 L260.3 306.5 L259.5 308 L258.7 307.7 L257.9 306.8 L257.1 307.4 L256.3 307.5 L255.5 307.9 L254.7 307.2 L253.9 307.3 L253.1 308 L252.3 307.5 L251.5 306.7 L250.7 307.6 L249.9 307.1 L249.1 307.9 L248.3 306.7 L247.5 307.1 L246.7 308.1 L245.9 307.1 L245.1 306.9 L244.3 308.1 L243.5 307.8 L242.7 307.2 L241.9 307.7 L241.1 307.2 L240.3 306.7 L239.5 308.3 L238.7 308.2 L237.9 308.1 L237.1 308.3 L236.3 306.9 L235.5 308.2 L234.7 306.7 L233.9 308 L233.1 307.6 L232.3 307.5 L231.5 306.8 L230.7 307.8 L229.9 307.1 L229.1 307.5 L228.3 306.7 L227.5 307 L226.7 307.6 L225.9 307.5 L225.1 308.2 L224.3 307.7 L223.5 307.1 L222.7 307.6 L221.9 307.4 L221.1 306.7 L220.3 307.7 L219.5 306.9 L218.7 307.4 L217.9 308.3 L217.1 307.8 L216.3 306.8 L215.5 308.2 L214.7 308.2 L213.9 307.5 L213.1 307.8 L212.3 307.9 L211.5 306.8 L210.7 308.5 L209.9 306.8 L209.1 307.1 L208.3 308.2 L207.5 307.4 L206.7 307.5 L205.9 308.5 L205.1 306.9 L204.3 308.4 L203.5 308.3 L202.7 307.4 L201.9 308.6 L201.1 308.5 L200.3 307.3 L199.5 308.5 L198.7 307.2 L197.9 307.8 L197.1 307.5 L196.3 307.7 L195.5 307.4 L194.7 308.6 L193.9 307.4 L193.1 308 L192.3 307 L191.5 307.1 L190.7 308.3 L189.9 307.8 L189.1 308.3 L188.3 307.1 L187.5 308.1 L186.7 308.1 L185.9 307.9 L185.1 308.1 L184.3 308.1 L183.5 307.4 L182.7 308.2 L181.9 307.2 L181.1 307.4 L180.3 307.4 L179.5 308 L178.7 307.3 L177.9 308.4 L177.1 307.6 L176.3 308 L175.5 307.3 L174.7 307.1 L173.9 307.4 L173.1 307.7 L172.3 307 L171.5 307.7 L170.7 308.5 L169.9 308.3 L169.1 307.3 L168.3 307.4 L167.5 308.6 L166.7 307.9 L165.9 308.5 L165.1 308.5 L164.3 307.9 L163.5 308.6 L162.7 308.3 L161.9 307.8 L161.1 308.7 L160.3 307.2 L159.5 308.6 L158.7 307.6 L157.9 308.2 L157.1 308.8 L156.3 308.5 L155.5 308.7 L154.7 307.9 L153.9 307.4 L153.1 308.9 L152.3 307.5 L151.5 307.7 L150.7 307.9 L149.9 308.1 L149.1 308.3 L148.3 307.9 L147.5 308.4 L146.7 307.4 L145.9 307.7 L145.1 308.8 L144.3 308 L143.5 308.7 L142.7 308 L141.9 307.5 L141.1 308.2 L140.3 307.4 L139.5 308.1 L138.7 307.3 L137.9 307.4 L137.1 307.8 L136.3 307.9 L135.5 308.4 L134.7 308.9 L133.9 308.7 L133.1 308.9 L132.3 308 L131.5 307.9Z" stroke="none" stroke-width="0" fill="#000" />
<path d="M702.5 202V300.7M713.5 202.3V300.4M729.5 202.6V294.4M741.5 202.9V233.1M751.5 203.1V299.3M758.5 203.2V304.6M796.5 204.1V233.4M821.5 204.6V292.4M825.5 204.7V281.7M868.5 205.6V275.9M871.5 205.7V281.1M883.5 205.9V301.8M909.5 206.5V254.9M916.5 206.7V270.3M922.5 206.8V285.6" stroke="#e2e2e2" stroke-width="1.0" fill="none" />
<rect x="189.30" y="354.50" width="12.80" height="4.50" fill="#000" />
<text x="217.13" y="360.20" font-size="25.2" >(1)</text>
<rect x="527.60" y="329.80" width="26.50" height="4.40" fill="#000" />
<text x="525.83" y="357.40" font-size="25.2" >(2)</text>
<rect x="751.30" y="329.80" width="26.70" height="4.40" fill="#000" />
<text x="749.93" y="357.40" font-size="25.2" >(3)</text>
<rect x="852.60" y="318.70" width="77.40" height="4.80" fill="#000" />
<text x="866.28" y="345.60" font-size="25.2" >2 min</text>
<path d="M127.5 499.5 L128.5 500.3 L129.5 499.7 L130.5 499.3 L131.5 498.5 L132.5 499 L133.5 500.9 L134.5 500.7 L135.5 501.3 L136.5 500.6 L137.5 500.5 L138.5 500.2 L139.5 497.8 L140.5 500.1 L141.5 500.4 L142.5 500.6 L143.5 497.9 L144.5 496.8 L145.5 497.5 L146.5 498.3 L147.5 499.5 L148.6 499.5 L149.6 500.2 L150.6 499 L151.6 499.8 L152.6 500.1 L153.6 498.9 L154.6 501.5 L155.6 500.9 L156.6 501.5 L157.6 499.4 L158.6 498.6 L159.6 498.8 L160.6 499.1 L161.6 500.1 L162.6 500 L163.6 499.1 L164.6 498.1 L165.6 498.3 L166.6 500.6 L167.6 498.8 L168.6 499.5 L169.6 500 L170.6 497.8 L171.6 498.9 L172.6 500.8 L173.6 497.4 L174.6 498.3 L175.6 498.9 L176.6 498.2 L177.6 499.6 L178.6 499.3 L179.6 497.5 L180.6 499.7 L181.6 500.3 L182.6 500.8 L183.6 501.6 L184.6 500.6 L185.6 499.9 L186.6 497.9 L187.6 499.5 L188.7 498.6 L189.7 498.4 L190.7 497.4 L191.7 497.4 L192.7 497.9 L193.7 500.4 L194.7 497.1 L195.7 496.6 L196.7 498.6 L197.7 500.8 L198.7 500.4 L199.7 497.2 L200.7 495.3 L201.7 498.3 L202.7 497.9 L203.7 497.3 L204.7 499.7 L205.7 500.7 L206.7 499.8 L207.7 499.7 L208.7 499.8 L209.7 501.3 L210.7 500.6 L211.7 500.2 L212.7 500.1 L213.7 497.5 L214.7 500.1 L215.7 500.6 L216.7 500.2 L217.7 497 L218.7 497.5 L219.7 499.5 L220.7 496.9 L221.7 498 L222.7 499.9 L223.7 497.6 L224.7 500.5 L225.7 500.2 L226.7 499.2 L227.7 499.4 L228.8 499.9 L229.8 499.4 L230.8 500.5 L231.8 498.6 L232.8 498.3 L233.8 499.9 L234.8 499.3 L235.8 497.9 L236.8 499.7 L237.8 500.9 L238.8 499 L239.8 497.1 L240.8 498 L241.8 498.3 L242.8 498.2 L243.8 500.3 L244.8 498 L245.8 500.1 L246.8 497.6 L247.8 497.4 L248.8 499 L249.8 500.2 L250.8 500.3 L251.8 499.7 L252.8 499.2 L253.8 499.1 L254.8 499.5 L255.8 498.7 L256.8 499 L257.8 499.5 L258.8 498.9 L259.8 499.7 L260.8 499.7 L261.8 501.5 L262.8 500 L263.8 498.5 L264.8 498.1 L265.8 498.4 L266.8 499.6 L267.8 498.5 L268.8 499 L269.9 501 L270.9 496.2 L271.9 496.3 L272.9 498 L273.9 498.8 L274.9 498.9 L275.9 498.1 L276.9 499.2 L277.9 499.1 L278.9 498 L279.9 501.3 L280.9 499.9 L281.9 498.2 L282.9 498.2 L283.9 498.1 L284.9 498.2 L285.9 494.9 L286.9 496.6 L287.9 499 L288.9 497.1 L289.9 497.8 L290.9 499.4 L291.9 499.8 L292.9 500.7 L293.9 497 L294.9 497.4 L295.9 497.6 L296.9 498.8 L297.9 499.8 L298.9 495.5 L299.9 498.6 L300.9 496.6 L301.9 498.5 L302.9 496.5 L303.9 497.8 L304.9 499.6 L305.9 498.5 L306.9 498.5 L307.9 499.3 L308.9 498.8 L310 498.3 L311 500.1 L312 500.1 L313 498.5 L314 501.7 L315 497.9 L316 499.2 L317 498.2 L318 498.3 L319 499 L320 498.7 L321 499.1 L322 496.5 L323 495.6 L324 498 L325 496.8 L326 496.3 L327 495.6 L328 498.7 L329 499.2 L330 500.3" stroke="#000" stroke-width="1.8" fill="none" stroke-linejoin="round"/>
<path d="M202.6 378.5V513M292 378.5V513" stroke="#000" stroke-width="1.5" fill="none" />
<path d="M281.2 379V514" stroke="#777" stroke-width="1.1" fill="none" />
<path d="M420.7 497.1 L421.6 498.4 L422.5 496.5 L423.4 499.6 L424.3 502.4 L425.2 498.4 L426.1 501.9 L427 502 L427.9 499.7 L428.8 495.3 L429.7 500.5 L430.6 499.3 L431.5 497.9 L432.4 499.4 L433.3 500 L434.2 502.3 L435.1 498.1 L436 500.9 L436.9 502.6 L437.8 503.1 L438.7 500.1 L439.6 497.9 L440.5 500.6 L441.4 499.8 L442.3 499.5 L443.2 502 L444.1 499.5 L445 494.6 L445.9 496.7 L446.8 494.5 L447.7 499.1 L448.6 499.6 L449.5 498 L450.4 498.6 L451.3 500.5 L452.2 499.7 L453.1 501.9 L454 499.9 L454.9 501.4 L455.8 502.8 L456.7 503.5 L457.6 499.2 L458.5 500.8 L459.4 495.9 L460.3 495.8 L461.2 494 L462.1 499.4 L463 496.7 L463.9 498.2 L464.8 498.3 L465.7 498.7 L466.6 497.7 L467.5 499 L468.4 502.5 L469.3 500.3 L470.2 500.5 L471.1 501.5 L472 499.5 L472.9 496.7 L473.8 497.1 L474.7 500.5 L475.6 496.3 L476.5 496.9 L477.4 500.2 L478.3 501 L479.2 499.7 L480.1 500.8 L481 500 L481.9 497 L482.8 495.2 L483.7 496.4 L484.6 499.9 L485.5 498.2 L486.4 496.9 L487.3 496.8 L488.2 495.2 L489.1 497.4 L490 496.1 L490.9 498.7 L491.8 494.2 L492.7 498 L493.6 497.4 L494.5 494.6 L495.4 498.9 L496.3 498.4 L497.2 494.4 L498.1 495.7 L499 498.4 L499.9 497.9 L500.8 500.2 L501.7 500.9 L502.6 501 L503.5 500.3 L504.4 502.1 L505.3 501.4 L506.2 500.7 L507.1 495.5 L508 499.5 L508.9 501.8 L509.8 499.4 L510.7 498.2 L511.6 502.6 L512.5 496.8 L513.4 499.1 L514.3 503.8 L515.2 498.9 L516.1 500.3 L517 503.2 L517.9 500.2 L518.8 500.5 L519.7 501.3 L520.6 498 L521.5 498.5 L522.4 499.4 L523.3 500.8 L524.2 499.6 L525.1 498.8 L526 496.9 L526.9 497.6 L527.8 500.3 L528.7 499.6 L529.6 497.5 L530.5 496.8 L531.4 503.5 L532.3 502.8 L533.2 501.6 L534.1 494.8 L535 498.8 L535.9 499.9 L536.8 502.6 L537.7 501.1 L538.6 499.6 L539.5 500.2 L540.4 495.6 L541.3 499.8 L542.2 499.9 L543.1 497.9 L544 501.2 L544.9 503.4 L545.8 497.8 L546.7 497.2 L547.6 499 L548.5 499.3 L549.4 498.3 L550.3 496.8 L551.2 502.4 L552.1 502.3 L553 497.8 L553.9 495.9 L554.8 501.3 L555.7 501.8 L556.6 503.6 L557.5 502.2 L558.4 498.4 L559.3 499.3 L560.2 494.8 L561.1 496.1 L562 497.9 L562.9 499.6 L563.8 497.8 L564.7 498.3 L565.6 499.7 L566.5 500 L567.4 500.6 L568.3 500 L569.2 498.7 L570.1 500.5 L571 499.6 L571.9 497.6 L572.8 497.3 L573.7 498.4 L574.6 498.6 L575.5 499.2 L576.4 499.1 L577.3 499.4 L578.2 498.9 L579.1 496.5 L580 498.9 L580.9 501.1 L581.8 500.6 L582.7 499.2 L583.6 499.9 L584.5 497.4 L585.4 494.7 L586.3 497.6 L587.2 496.7 L588.1 499.6 L589 497.1 L589.9 493.1 L590.8 494.9 L591.7 500.7 L592.6 498.8 L593.5 496.2 L594.4 496.5 L595.3 499.2 L596.2 500 L597.1 499.7 L598 502.2 L598.9 501.5 L599.8 499.8 L600.7 500.5 L601.6 502.8 L602.5 502.2 L603.4 502.2 L604.3 498 L605.2 498.3 L606.1 500.2 L607 498.8 L607.9 501.1 L608.8 500.9 L609.7 501.5 L610.6 499.4 L611.5 504.2 L612.4 503.3 L613.3 500.1 L614.2 499.6 L615.1 504.3 L616 500.2 L616.9 501.1 L617.8 501.7 L618.7 500 L619.6 497 L620.5 498.7 L621.4 499.6 L622.3 501.4 L623.2 501.4 L624.1 499.9 L625 501" stroke="#000" stroke-width="1.8" fill="none" stroke-linejoin="round"/>
<path d="M430 386.5V513.9" stroke="#8c8c8c" stroke-width="1.8" fill="none" />
<path d="M432.4 387.5V514.5M515.5 388.3V516.3M531.5 389V515.9M552.3 386.7V516.3M576.6 388.8V515.8" stroke="#111" stroke-width="1.1" fill="none" />
<path d="M432.8 473.8V514.5M439.9 488.4V515.4M459.5 416V514.8M463.2 431.1V514.3M577 460.3V515.8" stroke="#000" stroke-width="2.0" fill="none" />
<path d="M439.5 388.6V515.4M593.5 389.5V516.1M600.5 388.3V515.4M615.4 386.6V514.6M622.5 389.2V516.7" stroke="#111" stroke-width="1.2" fill="none" />
<path d="M443.1 389.3V515.8M478.8 386.5V516.3M520 389.5V516.3M527.1 388.6V516.5M549.5 386.8V514.9" stroke="#8c8c8c" stroke-width="1.5" fill="none" />
<path d="M449.6 389.1V516.4M471.2 389.2V515.7M498.7 386.8V515.4M536.6 387.2V513.9M568.3 388.5V515.7" stroke="#555" stroke-width="1.3" fill="none" />
<path d="M459.1 387.8V514.8M462.8 390.2V514.3M611.7 389.2V514.6M618.6 389.2V514.4" stroke="#8c8c8c" stroke-width="1.4" fill="none" />
<path d="M479.2 458.1V516.3M612.1 432.2V514.6M622.9 459.7V516.7" stroke="#000" stroke-width="1.6" fill="none" />
<path d="M483.5 389.9V515.7" stroke="#111" stroke-width="1.3" fill="none" />
<path d="M487.7 389.2V516.2" stroke="#555" stroke-width="1.4" fill="none" />
<path d="M499.1 401.9V515.4" stroke="#000" stroke-width="2.2" fill="none" />
<path d="M515.9 429.4V516.3M520.4 450.8V516.3M619 446.8V514.4" stroke="#000" stroke-width="1.8" fill="none" />
<path d="M584.9 388.2V513.8M605 388.9V514" stroke="#8c8c8c" stroke-width="1.6" fill="none" />
<path d="M698.5 503.8 L699.3 500.8 L700.1 502 L700.9 499 L701.7 501.8 L702.5 502.6 L703.3 499.5 L704.1 500.9 L704.9 501.3 L705.7 503.2 L706.5 504.2 L707.3 503.1 L708.1 500.8 L708.9 501.6 L709.7 502.1 L710.5 504.1 L711.3 503.8 L712.1 501.3 L712.9 499 L713.7 500.5 L714.5 500.1 L715.3 499.2 L716.1 501.1 L716.9 500.9 L717.7 502.2 L718.5 503.6 L719.4 502 L720.2 507.7 L721 503.6 L721.8 505.4 L722.6 503.8 L723.4 505.5 L724.2 498.1 L725 499.3 L725.8 501.9 L726.6 503.7 L727.4 508.3 L728.2 505.3 L729 506.4 L729.8 505.6 L730.6 505.8 L731.4 504.8 L732.2 503 L733 503.8 L733.8 500.5 L734.6 504.5 L735.4 500.9 L736.2 502.5 L737 507.3 L737.8 503.7 L738.6 502.9 L739.4 505.3 L740.2 503.5 L741 501 L741.8 502.5 L742.6 503.8 L743.4 504.6 L744.2 501.4 L745 506.1 L745.8 507.6 L746.6 504.3 L747.4 503.7 L748.2 501.9 L749 505.5 L749.8 501.9 L750.6 503.8 L751.4 501.8 L752.2 500.6 L753 503.5 L753.8 505.8 L754.6 503.6 L755.4 501.3 L756.2 503.9 L757 502.8 L757.8 503.3 L758.6 506.2 L759.4 506.3 L760.3 502.6 L761.1 507.7 L761.9 504.3 L762.7 504.9 L763.5 501.8 L764.3 502.1 L765.1 498.3 L765.9 505 L766.7 506.5 L767.5 501 L768.3 498.5 L769.1 497.3 L769.9 503.3 L770.7 501.7 L771.5 502 L772.3 501.5 L773.1 501.8 L773.9 499.7 L774.7 501.5 L775.5 498.8 L776.3 500.9 L777.1 502.6 L777.9 503.5 L778.7 502.2 L779.5 500.2 L780.3 502 L781.1 501.1 L781.9 505.5 L782.7 505.2 L783.5 503.1 L784.3 501.5 L785.1 500.5 L785.9 499.5 L786.7 500.6 L787.5 502.4 L788.3 503.5 L789.1 504.1 L789.9 507.7 L790.7 502.6 L791.5 502.5 L792.3 508.8 L793.1 500.3 L793.9 500.4 L794.7 502 L795.5 502.6 L796.3 503.3 L797.1 502.1 L797.9 503.1 L798.7 502.7 L799.5 504.2 L800.3 498.6 L801.2 499 L802 501.1 L802.8 499.5 L803.6 498.9 L804.4 502.6 L805.2 500.9 L806 503.2 L806.8 504.3 L807.6 503.7 L808.4 503.9 L809.2 502.6 L810 499.2 L810.8 501.1 L811.6 502.9 L812.4 501.3 L813.2 501.7 L814 503.8 L814.8 500.8 L815.6 503.2 L816.4 506.8 L817.2 502.6 L818 502.7 L818.8 502.1 L819.6 505.7 L820.4 504.2 L821.2 505 L822 501.6 L822.8 502 L823.6 502.1 L824.4 498.1 L825.2 504.1 L826 504.9 L826.8 499.2 L827.6 502.9 L828.4 502.1 L829.2 503.2 L830 503.4 L830.8 499.2 L831.6 500.7 L832.4 505.1 L833.2 501.9 L834 499.8 L834.8 498.2 L835.6 498 L836.4 501.5 L837.2 505.8 L838 504.4 L838.8 503.5 L839.6 507.8 L840.4 502.9 L841.2 500.9 L842.1 502.9 L842.9 503.7 L843.7 500.4 L844.5 498.9 L845.3 501.7 L846.1 502.6 L846.9 499.3 L847.7 500.7 L848.5 500.4 L849.3 502.6 L850.1 502 L850.9 501.9 L851.7 501.3 L852.5 504.2 L853.3 506.1 L854.1 502.7 L854.9 504.3 L855.7 501.1 L856.5 502 L857.3 503.8 L858.1 506.2 L858.9 502.7 L859.7 502.1 L860.5 502.6 L861.3 498.9 L862.1 501 L862.9 500.2 L863.7 502.3 L864.5 499.6 L865.3 496.7 L866.1 500.3 L866.9 502.1 L867.7 500.8 L868.5 503.7 L869.3 502 L870.1 500.7 L870.9 502.7 L871.7 498.7 L872.5 499.4 L873.3 501.1 L874.1 503.7 L874.9 502.3 L875.7 502.9 L876.5 500.8 L877.3 502.3 L878.1 506 L878.9 501.9 L879.7 507.4 L880.5 502.5 L881.3 502.2 L882.1 502.5 L883 504.6 L883.8 500.1 L884.6 496.6 L885.4 501.5 L886.2 503.7 L887 504 L887.8 508.8 L888.6 504.9 L889.4 503.6 L890.2 504.7 L891 503.8 L891.8 506.5 L892.6 500.7 L893.4 500.7 L894.2 493.7 L895 501 L895.8 500.8 L896.6 503.7 L897.4 507.5 L898.2 503.9 L899 502.1 L899.8 500.9 L900.6 499.7 L901.4 499.8 L902.2 502.7 L903 502.3" stroke="#000" stroke-width="1.7" fill="none" stroke-linejoin="round"/>
<path d="M699.5 405.9V511.9M749.5 409V512.7M789.9 408.3V513.1" stroke="#111" stroke-width="1.1" fill="none" />
<path d="M701.8 409V511.2" stroke="#555" stroke-width="1.1" fill="none" />
<path d="M702.2 442.8V511.2" stroke="#000" stroke-width="1.3" fill="none" />
<path d="M706.1 409V511.5M777 405.7V512.3M784.8 406.6V512.3M819.9 406.1V513.8" stroke="#111" stroke-width="1.6" fill="none" />
<path d="M706.5 452.9V511.5M834.1 486.5V512.9" stroke="#000" stroke-width="3.0" fill="none" />
<path d="M708.9 406.3V513.3M865.3 405.3V513.5" stroke="#111" stroke-width="1.8" fill="none" />
<path d="M709.3 452.9V513.3" stroke="#000" stroke-width="4.0" fill="none" />
<path d="M711.3 408.4V512.1M730.6 404.8V511M779.8 409V513.7M831.7 405.7V512.1M890.4 406.8V513.3M892 408.4V513.6" stroke="#8c8c8c" stroke-width="1.2" fill="none" />
<path d="M711.7 455.1V512.1M746.9 441.1V511.7M749.9 448.4V512.7" stroke="#000" stroke-width="1.5" fill="none" />
<path d="M713.6 404.9V512.3M720.5 408.7V510.9M746.5 406.2V511.7M758.5 405.8V513M764.3 406.1V511.7M768.6 404.7V513.1M804.5 408.2V511.1M833.7 407.4V512.9M848.5 408.4V511.7M855.6 408V511.4M875.4 407.3V511.8" stroke="#111" stroke-width="1.2" fill="none" />
<path d="M715.3 406.3V513.6M724.5 406.5V513.3M884.5 408.3V512.8M888.7 409.1V511.2" stroke="#111" stroke-width="1.3" fill="none" />
<path d="M715.7 471.9V513.6M781.3 418.1V511.6M804.9 479.2V511.1" stroke="#000" stroke-width="2.4" fill="none" />
<path d="M717.5 405.5V511.9" stroke="#8c8c8c" stroke-width="1.1" fill="none" />
<path d="M717.9 476.4V511.9M720.9 480.9V510.9M790.3 442.8V513.1M832.1 434.9V512.1" stroke="#000" stroke-width="2.0" fill="none" />
<path d="M728.7 408.1V511M732.7 408.8V511.6" stroke="#111" stroke-width="2.6" fill="none" />
<path d="M737.9 408V513.5M788.2 408.8V511.4M876.9 406.4V513.8" stroke="#8c8c8c" stroke-width="1.6" fill="none" />
<path d="M758.9 466.3V513M764.7 478.7V511.7M796.5 454V511.8M848.9 475.9V511.7M880.1 443.9V511.5" stroke="#000" stroke-width="1.6" fill="none" />
<path d="M772.5 408.8V512.8M798.5 406.1V511.9M806.7 405.5V513.1M835.6 408V513.4M853.3 407.2V512M879.7 406.9V511.5M896.5 405.2V511.4" stroke="#555" stroke-width="1.2" fill="none" />
<path d="M775 408.9V510.9" stroke="#555" stroke-width="2.0" fill="none" />
<path d="M780.9 406.4V511.6M810.7 405.8V511M823 408.6V513.8M829.7 407.8V512.2M860.4 405.8V511.6" stroke="#111" stroke-width="1.4" fill="none" />
<path d="M785.2 432.1V512.3M823.4 420.3V513.8M889.1 467.4V511.2" stroke="#000" stroke-width="2.6" fill="none" />
<path d="M792.4 408.4V513.2" stroke="#111" stroke-width="3.0" fill="none" />
<path d="M796.1 407.4V511.8" stroke="#8c8c8c" stroke-width="1.3" fill="none" />
<path d="M816.6 404.8V512.5" stroke="#555" stroke-width="1.4" fill="none" />
<path d="M824.4 405.8V511.1" stroke="#8c8c8c" stroke-width="1.4" fill="none" />
<path d="M827.5 405.1V512.3M894.8 404.8V511.7M899 409V512.6" stroke="#111" stroke-width="1.5" fill="none" />
<path d="M827.9 431.5V512.3" stroke="#000" stroke-width="2.5" fill="none" />
<path d="M830.1 431.5V512.2" stroke="#000" stroke-width="3.5" fill="none" />
<path d="M838.2 407.6V511.2" stroke="#8c8c8c" stroke-width="1.5" fill="none" />
<path d="M865.7 421.4V513.5" stroke="#000" stroke-width="2.2" fill="none" />
<path d="M877.3 434.9V513.8M884.9 456.2V512.8" stroke="#000" stroke-width="1.8" fill="none" />
<path d="M890.8 467.4V513.3" stroke="#000" stroke-width="3.4" fill="none" />
<text x="222.88" y="543.40" font-size="25.2" >(1)</text>
<text x="510.23" y="545.00" font-size="25.2" >(2)</text>
<text x="760.73" y="546.00" font-size="25.2" >(3)</text>
<rect x="801.50" y="523.00" width="100.50" height="4.40" fill="#000" />
<text x="817.33" y="550.60" font-size="25.2" >20 sec</text>
</g>
<g id="panelB">
<text x="1009.96" y="27.20" font-size="37" font-weight="bold" >B</text>
<rect x="1020.00" y="38.00" width="242.00" height="70.00" fill="#fde0df" />
<text x="1066.40" y="89.80" font-size="47.6" font-style="italic" >Nos1</text>
<text x="1189.17" y="74.50" font-size="28" font-style="italic" >-/-</text>
<text x="1416.05" y="113.60" font-size="31.3" >Kisspeptin-10 10 nM</text>
<rect x="1243.40" y="121.00" width="717.00" height="4.60" fill="#000" />
<text x="1652.67" y="159.80" font-size="31.3" >DEA/NO 100 µM</text>
<rect x="1584.00" y="166.00" width="376.30" height="4.40" fill="#000" />
<rect x="1114.40" y="202.50" width="4.80" height="58.00" fill="#000" />
<text x="1033.60" y="250.00" font-size="25.2" >40 mV</text>
<text x="1022.82" y="317.40" font-size="25.2" >-58 mV</text>
<polygon points="1103.6,294.4 1118.5,298.6 1103.6,302.6"/>
<g filter="url(#blurB)">
<defs><filter id="blurB" x="-2%" y="-10%" width="104%" height="120%"><feGaussianBlur stdDeviation="0.45 0.3"/></filter></defs>
<path d="M1128.5 175.8V297.2M1129.5 175.4V297.2M1130.5 177.1V297.2M1131.5 177.3V297.2M1132.5 176.4V297.2M1134.5 178.7V297.2M1134.5 297.2V316.8M1135.5 176.8V297.2M1136.5 177.1V297.2M1137.5 178.6V297.2M1139.5 177.3V297.2M1146.5 178.7V297.1M1148.5 176.2V297.1M1149.5 176V297.1M1149.5 297.1V315M1150.5 179.2V297.1M1151.5 176.5V297.1M1155.5 177.5V297.1M1159.5 178.4V297.1M1159.5 297.1V317.7M1160.5 178.5V297.1M1164.5 297.1V317.9M1166.5 178.5V297.1M1166.5 297.1V314.2M1167.5 178.1V297.1M1168.5 297.1V316.7M1169.5 179.6V297M1171.5 177.6V297M1172.5 177.7V297M1174.5 177.3V297M1175.5 179.6V297M1177.5 177.6V297M1186.5 177.7V297M1187.5 177.9V297M1187.5 297V315.2M1188.5 179.5V297M1190.5 179V297M1195.5 177.7V297M1202.5 180.4V296.9M1203.5 178V296.9M1204.5 296.9V314.7M1206.5 179.5V296.9M1216.5 178.3V296.9M1216.5 296.9V314.7M1217.5 181.2V296.9M1229.5 296.8V316.6M1233.5 296.8V315.1M1239.5 179.8V296.8M1247.5 181V296.8M1266.5 181.5V296.7M1270.5 180.4V296.7M1270.5 296.7V314.9M1271.5 182.9V296.7M1274.5 296.7V313.5M1282.5 296.7V313.7M1287.5 296.6V316.6M1294.5 182.8V296.6M1298.5 181.2V296.6M1298.5 296.6V314.2M1303.5 296.6V312.7M1311.5 182.4V296.6M1313.5 184.2V296.6M1313.5 296.6V313M1327.5 181.4V296.5M1330.5 296.5V312.3M1331.5 182.7V296.5M1335.5 184.2V296.5M1391.5 296.3V313.2M1400.5 296.3V312.5M1402.5 184.6V296.3M1421.5 296.2V312M1422.5 187.2V296.2M1428.5 296.2V312.6M1446.5 185.8V296.2M1456.5 296.1V309.6M1476.5 296.1V309.4M1511.5 187.2V295.9M1536.5 189.5V295.8M1537.5 188.3V295.8M1539.5 189.7V295.8M1564.5 187V295.6M1564.5 295.6V308.6M1573.5 295.6V307.6M1588.5 187.8V295.5M1589.5 188.4V295.5M1589.5 295.5V308.6M1592.5 187.6V295.4M1597.5 190.2V295.4M1623.5 188.5V295.2M1623.5 295.2V307.8M1637.5 190V295.3M1638.5 190.8V295.3M1648.5 191.3V295.4M1678.5 295.6V306.8M1679.5 295.6V309.7M1687.5 189.5V295.7M1692.5 188.5V295.8M1703.5 295.8V309.4M1708.5 191V295.9M1709.5 189.3V295.9M1711.5 192.1V295.9M1712.5 189.2V295.9M1714.5 192.1V295.9M1715.5 191V296M1765.5 296.6V311.7M1767.5 296.6V309.1M1792.5 191V296.9M1793.5 190.6V296.9M1801.5 191V297M1802.5 193.3V297.1M1820.5 192V297.9M1830.5 190.7V298.4M1830.5 298.4V312.5M1835.5 191V298.6M1835.5 298.6V313.5M1853.5 193V299.4" stroke="#c2c2c2" stroke-width="1.1" fill="none" />
<path d="M1126.5 297.2V316.3M1129.5 297.2V315.8M1132.5 297.2V316.1M1137.5 297.2V315.5M1138.5 297.2V317.2M1139.5 297.2V316.9M1140.5 177V297.1M1141.5 176.5V297.1M1141.5 297.1V314.7M1142.5 176.1V297.1M1147.5 178.5V297.1M1147.5 297.1V315.4M1148.5 297.1V316.4M1150.5 297.1V317.4M1151.5 297.1V314.3M1152.5 297.1V316.4M1154.5 297.1V315.2M1156.5 178.8V297.1M1158.5 297.1V314.8M1161.5 177.6V297.1M1164.5 177.9V297.1M1165.5 177.8V297.1M1168.5 176.8V297.1M1169.5 297V317.8M1170.5 297V314.7M1172.5 297V315.5M1173.5 297V314.3M1175.5 297V316.5M1176.5 297V317.8M1177.5 297V315.8M1178.5 297V317.7M1180.5 179.2V297M1183.5 297V315.4M1184.5 178.3V297M1184.5 297V317.8M1185.5 177.4V297M1185.5 297V315.2M1191.5 297V316.1M1193.5 297V314.5M1201.5 296.9V317.4M1202.5 296.9V314.8M1203.5 296.9V315.6M1204.5 179.8V296.9M1205.5 179.3V296.9M1206.5 296.9V315.3M1207.5 296.9V317M1213.5 296.9V316.1M1214.5 296.9V314.1M1215.5 296.9V315.9M1219.5 296.9V313.9M1222.5 296.9V313.7M1223.5 179.4V296.9M1223.5 296.9V313.4M1226.5 179.8V296.9M1227.5 178.6V296.9M1228.5 178.6V296.8M1228.5 296.8V313.4M1229.5 181.5V296.8M1232.5 181.8V296.8M1232.5 296.8V315.4M1233.5 179.4V296.8M1235.5 180.5V296.8M1235.5 296.8V314.1M1236.5 296.8V315.7M1239.5 296.8V314M1243.5 296.8V316.6M1246.5 181.4V296.8M1246.5 296.8V314.5M1247.5 296.8V314.1M1248.5 296.8V315.5M1250.5 296.8V314.8M1253.5 296.8V313.9M1255.5 296.8V313.7M1257.5 296.7V315.1M1262.5 296.7V316.3M1266.5 296.7V314.4M1271.5 296.7V316.3M1273.5 183.1V296.7M1273.5 296.7V314.7M1274.5 183.1V296.7M1277.5 180.2V296.7M1277.5 296.7V315.6M1278.5 181.5V296.7M1278.5 296.7V316.6M1282.5 182.8V296.7M1283.5 181.4V296.7M1283.5 296.7V312.9M1285.5 183V296.7M1285.5 296.7V315.6M1286.5 182V296.6M1286.5 296.6V315.6M1287.5 180.7V296.6M1289.5 296.6V315M1291.5 180.3V296.6M1291.5 296.6V312.9M1293.5 296.6V312.6M1294.5 296.6V313.3M1297.5 181.2V296.6M1297.5 296.6V314.3M1299.5 296.6V314.9M1301.5 181.2V296.6M1302.5 182.9V296.6M1302.5 296.6V315.4M1303.5 181.6V296.6M1305.5 182.8V296.6M1305.5 296.6V314.2M1309.5 296.6V312.3M1310.5 183.8V296.6M1310.5 296.6V315.9M1312.5 296.6V316.1M1317.5 183.3V296.5M1318.5 182.9V296.5M1320.5 181.9V296.5M1321.5 183.7V296.5M1321.5 296.5V315.9M1322.5 296.5V312.3M1327.5 296.5V314.9M1329.5 182.1V296.5M1330.5 183.9V296.5M1331.5 296.5V313.9M1339.5 296.5V315.4M1357.5 183.2V296.4M1357.5 296.4V313.5M1358.5 183.1V296.4M1358.5 296.4V313.3M1359.5 184.8V296.4M1364.5 184.8V296.4M1364.5 296.4V312M1365.5 296.4V311.9M1367.5 296.4V314.5M1373.5 296.4V314.4M1376.5 296.4V311.8M1377.5 296.4V313.4M1381.5 296.4V313.6M1383.5 184.3V296.4M1384.5 296.3V312.2M1391.5 185.1V296.3M1392.5 184.7V296.3M1392.5 296.3V314M1397.5 184.2V296.3M1400.5 185.3V296.3M1402.5 296.3V312.6M1403.5 296.3V310.8M1404.5 185.4V296.3M1407.5 296.3V313.8M1415.5 186.1V296.3M1415.5 296.3V313.6M1416.5 185.2V296.3M1418.5 296.2V313.1M1421.5 186.1V296.2M1423.5 296.2V310.7M1424.5 296.2V314M1428.5 187.2V296.2M1429.5 185.6V296.2M1429.5 296.2V312.5M1435.5 296.2V313.7M1441.5 296.2V311.6M1442.5 185.7V296.2M1443.5 187.1V296.2M1443.5 296.2V310M1444.5 186.4V296.2M1446.5 296.2V313.2M1453.5 185.4V296.1M1453.5 296.1V310.3M1456.5 185.6V296.1M1459.5 296.1V311.3M1460.5 296.1V311.9M1461.5 296.1V309.5M1464.5 185.1V296.1M1465.5 188V296.1M1467.5 185.4V296.1M1467.5 296.1V310.2M1468.5 188.5V296.1M1470.5 185.6V296.1M1471.5 186.6V296.1M1471.5 296.1V311.5M1476.5 188.3V296.1M1503.5 187.4V296M1504.5 187.9V296M1507.5 187.7V296M1509.5 295.9V310.4M1511.5 295.9V311.5M1512.5 186.3V295.9M1513.5 295.9V312M1515.5 295.9V308.7M1521.5 295.9V309M1523.5 295.9V308.5M1527.5 295.8V308.7M1537.5 295.8V310M1538.5 189.4V295.8M1538.5 295.8V311.6M1547.5 295.7V311.3M1552.5 188.4V295.7M1552.5 295.7V310.5M1557.5 187.5V295.6M1557.5 295.6V309M1558.5 188.2V295.6M1558.5 295.6V311.1M1559.5 190.2V295.6M1559.5 295.6V308.1M1569.5 295.6V311.4M1571.5 295.6V308.9M1573.5 189.3V295.6M1574.5 188.1V295.5M1574.5 295.5V311.3M1581.5 295.5V308M1588.5 295.5V308.4M1591.5 190.6V295.4M1591.5 295.4V311M1594.5 295.4V309.8M1596.5 189.1V295.4M1598.5 295.4V310.4M1600.5 295.4V309.9M1601.5 295.4V308.8M1605.5 295.4V309.4M1610.5 295.3V307.8M1612.5 190.7V295.3M1617.5 295.3V310.5M1619.5 295.3V310.8M1631.5 189V295.2M1633.5 295.2V306.8M1640.5 295.3V306.6M1645.5 295.3V308.1M1647.5 188.1V295.4M1647.5 295.4V308.7M1651.5 295.4V309.7M1660.5 295.5V309.6M1661.5 188.2V295.5M1662.5 191.1V295.5M1665.5 295.5V309M1666.5 295.5V308.3M1670.5 189.8V295.6M1670.5 295.6V306.8M1671.5 191.1V295.6M1671.5 295.6V307.9M1672.5 190V295.6M1674.5 295.6V307.6M1675.5 189.2V295.6M1675.5 295.6V309.1M1676.5 190.7V295.6M1677.5 189.2V295.6M1678.5 189.3V295.6M1679.5 190V295.6M1680.5 189V295.6M1680.5 295.6V307.9M1687.5 295.7V306.7M1688.5 188.6V295.7M1692.5 295.8V307.5M1693.5 295.8V306.4M1695.5 295.8V307.4M1697.5 295.8V308.2M1698.5 295.8V306.9M1702.5 190.1V295.8M1703.5 189.4V295.8M1704.5 295.9V309.2M1705.5 189.6V295.9M1705.5 295.9V306.9M1706.5 295.9V307.1M1708.5 295.9V308.6M1709.5 295.9V308.7M1710.5 191V295.9M1712.5 295.9V308M1713.5 295.9V309M1715.5 296V306.9M1718.5 191.3V296M1761.5 296.5V307.8M1765.5 190.2V296.6M1766.5 189.4V296.6M1766.5 296.6V309.2M1767.5 190.3V296.6M1768.5 189.9V296.6M1772.5 296.6V311.3M1775.5 296.7V311.5M1776.5 296.7V312.2M1782.5 296.8V309.7M1789.5 296.9V310.8M1791.5 296.9V309.1M1792.5 296.9V311.9M1793.5 296.9V309.9M1796.5 190V296.9M1796.5 296.9V313M1797.5 191.8V297M1797.5 297V312M1798.5 297V312.2M1800.5 190.3V297M1802.5 297.1V312.9M1805.5 297.2V311.4M1806.5 192.9V297.3M1807.5 297.3V312.1M1809.5 297.4V310.2M1810.5 297.5V311.7M1812.5 297.5V311.7M1815.5 297.7V310.8M1816.5 297.7V311M1818.5 297.8V311.2M1819.5 297.9V313.8M1820.5 297.9V313.8M1821.5 298V310.4M1822.5 298V312.9M1827.5 298.2V314M1828.5 298.3V312.3M1832.5 298.4V311.1M1836.5 193.2V298.6M1836.5 298.6V312.1M1838.5 298.7V311.9M1840.5 298.8V313.9M1841.5 298.9V314.7M1845.5 299V311.4M1846.5 299.1V312.6M1850.5 191.3V299.3M1850.5 299.3V313.5M1851.5 190.5V299.3M1851.5 299.3V315.2" stroke="#858585" stroke-width="1.1" fill="none" />
<path d="M1128.5 297.2V316.6M1130.5 297.2V317.4M1140.5 297.1V315.7M1156.5 297.1V315.1M1160.5 297.1V317.8M1161.5 297.1V316.2M1170.5 179.7V297M1174.5 297V314.3M1180.5 297V316.5M1188.5 297V315M1191.5 177.9V297M1192.5 177.8V297M1195.5 297V313.8M1196.5 297V316.4M1197.5 297V314M1200.5 296.9V315.1M1226.5 296.9V313.7M1236.5 180.5V296.8M1249.5 181.7V296.8M1249.5 296.8V314.7M1256.5 296.8V315.9M1258.5 181V296.7M1259.5 181.1V296.7M1260.5 179.7V296.7M1263.5 296.7V313M1272.5 179.9V296.7M1290.5 180.7V296.6M1292.5 181.9V296.6M1295.5 183.7V296.6M1296.5 183.2V296.6M1301.5 296.6V314.8M1311.5 296.6V313.5M1314.5 296.6V314.3M1315.5 296.6V314.9M1317.5 296.5V315.9M1318.5 296.5V313.7M1320.5 296.5V314M1329.5 296.5V312.7M1334.5 184.2V296.5M1345.5 296.5V313.8M1348.5 184.7V296.5M1349.5 185.2V296.5M1349.5 296.5V315.1M1350.5 182.3V296.5M1351.5 182.9V296.4M1352.5 184.2V296.4M1361.5 185.1V296.4M1366.5 296.4V311.5M1371.5 296.4V314.6M1375.5 296.4V311.2M1380.5 184.7V296.4M1381.5 184.5V296.4M1382.5 185.8V296.4M1383.5 296.4V312.4M1386.5 296.3V313.7M1394.5 184.6V296.3M1395.5 185.1V296.3M1397.5 296.3V313.2M1399.5 183.4V296.3M1399.5 296.3V313.7M1404.5 296.3V311.4M1410.5 296.3V314M1416.5 296.3V312.9M1419.5 296.2V311.5M1425.5 296.2V310.8M1426.5 296.2V313M1436.5 296.2V313.6M1438.5 296.2V312.2M1442.5 296.2V311.8M1448.5 296.2V310M1450.5 296.1V312.8M1454.5 185.3V296.1M1455.5 187.9V296.1M1466.5 187.5V296.1M1469.5 185.9V296.1M1470.5 296.1V312.3M1504.5 296V311.6M1507.5 296V308.8M1510.5 295.9V311.3M1512.5 295.9V310.2M1517.5 295.9V309.7M1518.5 295.9V311.4M1519.5 295.9V309.5M1524.5 295.9V308.5M1528.5 186.7V295.8M1529.5 187.5V295.8M1536.5 295.8V308.5M1548.5 295.7V308.6M1549.5 295.7V309.8M1556.5 295.7V309.2M1560.5 189.8V295.6M1561.5 186.8V295.6M1570.5 295.6V308.9M1571.5 187.8V295.6M1572.5 189V295.6M1572.5 295.6V309.3M1576.5 295.5V307.9M1577.5 295.5V310.5M1582.5 295.5V308.9M1586.5 189.3V295.5M1586.5 295.5V307.5M1587.5 187.7V295.5M1592.5 295.4V310.7M1593.5 295.4V311.1M1597.5 295.4V309.9M1599.5 190.4V295.4M1599.5 295.4V309.7M1601.5 190.3V295.4M1602.5 189.4V295.4M1607.5 295.3V308.3M1613.5 188.4V295.3M1613.5 295.3V310.1M1614.5 295.3V307.4M1622.5 295.2V307.9M1624.5 189.6V295.2M1625.5 295.2V309.3M1630.5 295.2V308.1M1631.5 295.2V309.1M1632.5 190.5V295.2M1634.5 190.4V295.2M1634.5 295.2V310.1M1635.5 189.6V295.2M1643.5 188.5V295.3M1645.5 190.2V295.3M1646.5 189.8V295.3M1648.5 295.4V308M1649.5 188.8V295.4M1657.5 295.4V307.4M1661.5 295.5V309.1M1667.5 295.5V306.9M1668.5 295.5V306.5M1672.5 295.6V308.7M1676.5 295.6V308.9M1686.5 295.7V309.6M1689.5 191.3V295.7M1689.5 295.7V307.3M1690.5 295.7V307.1M1695.5 190.5V295.8M1697.5 190.6V295.8M1698.5 190.9V295.8M1700.5 190.5V295.8M1711.5 295.9V306.1M1713.5 189.7V295.9M1716.5 296V308.3M1762.5 296.5V308.2M1768.5 296.6V310.1M1769.5 296.6V308.4M1777.5 296.7V310.1M1778.5 296.7V311.6M1783.5 296.8V309.9M1784.5 296.8V312.2M1794.5 193.2V296.9M1795.5 191.6V296.9M1795.5 296.9V312.4M1800.5 297V313.5M1801.5 297V313.4M1803.5 190.3V297.1M1805.5 192.4V297.2M1810.5 191.4V297.5M1811.5 193.1V297.5M1817.5 192.8V297.8M1821.5 190.6V298M1823.5 298V311.9M1824.5 298.1V310.7M1833.5 193.6V298.5M1834.5 191.8V298.5M1852.5 192.6V299.4M1852.5 299.4V311.6" stroke="#3d3d3d" stroke-width="1.1" fill="none" />
<path d="M1125.5 297.2V318M1132.5 223.7V297.2M1139.5 265.3V297.2M1141.5 238.9V297.1M1143.5 297.1V317.8M1145.5 297.1V316.4M1147.5 270.4V297.1M1156.5 266.7V297.1M1161.5 221.7V297.1M1162.5 297.1V316.3M1164.5 232.1V297.1M1172.5 217.7V297M1177.5 249.9V297M1180.5 212.8V297M1184.5 218.1V297M1188.5 235.3V297M1192.5 297V317.6M1196.5 180.8V297M1197.5 180V297M1199.5 178.6V296.9M1199.5 296.9V315.7M1200.5 178.6V296.9M1201.5 180.9V296.9M1207.5 179.2V296.9M1208.5 177.9V296.9M1208.5 296.9V317M1209.5 181.2V296.9M1209.5 296.9V315M1210.5 179.7V296.9M1210.5 296.9V317.1M1211.5 180.9V296.9M1211.5 296.9V316.4M1212.5 178.9V296.9M1212.5 296.9V315.5M1213.5 179.2V296.9M1216.5 210.2V296.9M1218.5 181V296.9M1218.5 296.9V317.1M1219.5 180.5V296.9M1229.5 241.8V296.8M1230.5 181.5V296.8M1230.5 296.8V314.1M1231.5 178.8V296.8M1231.5 296.8V315.9M1235.5 277.6V296.8M1238.5 296.8V313.4M1240.5 181.7V296.8M1240.5 296.8V316.9M1241.5 182V296.8M1241.5 296.8V314.8M1242.5 179.5V296.8M1242.5 296.8V313.3M1243.5 180.2V296.8M1244.5 179.1V296.8M1244.5 296.8V314.7M1245.5 179.6V296.8M1245.5 296.8V314.1M1246.5 226.8V296.8M1252.5 181.2V296.8M1253.5 181.6V296.8M1254.5 182.7V296.8M1255.5 180.9V296.8M1256.5 180.5V296.8M1257.5 179.7V296.7M1258.5 296.7V315.1M1259.5 296.7V315.3M1260.5 296.7V316M1262.5 182.9V296.7M1263.5 180.5V296.7M1264.5 182.1V296.7M1264.5 296.7V314.3M1266.5 251.8V296.7M1267.5 296.7V313.6M1270.5 217.1V296.7M1272.5 280.6V296.7M1272.5 296.7V313.9M1278.5 267.4V296.7M1281.5 296.7V315.5M1283.5 258.2V296.7M1290.5 296.6V315.1M1292.5 296.6V316.6M1294.5 249.6V296.6M1295.5 296.6V313M1296.5 296.6V314.3M1298.5 233.8V296.6M1300.5 296.6V312.6M1301.5 267.2V296.6M1305.5 285.2V296.6M1306.5 181.9V296.6M1306.5 296.6V316.4M1307.5 182.4V296.6M1307.5 296.6V314.3M1308.5 183.9V296.6M1308.5 296.6V314M1309.5 182.4V296.6M1310.5 261.5V296.6M1311.5 220.8V296.6M1313.5 266.7V296.6M1314.5 183.6V296.6M1315.5 181.2V296.6M1316.5 184.3V296.6M1316.5 296.6V312.2M1320.5 237.2V296.5M1323.5 183.2V296.5M1323.5 296.5V314.5M1324.5 181.8V296.5M1324.5 296.5V312.4M1325.5 182.9V296.5M1326.5 296.5V313.3M1328.5 183.8V296.5M1328.5 296.5V313M1334.5 296.5V314.7M1335.5 255.7V296.5M1336.5 182.5V296.5M1337.5 183V296.5M1337.5 296.5V312.3M1338.5 184.4V296.5M1338.5 296.5V313.4M1340.5 181.6V296.5M1340.5 296.5V315.5M1341.5 183V296.5M1341.5 296.5V315.6M1342.5 181.9V296.5M1342.5 296.5V315.2M1343.5 182.4V296.5M1343.5 296.5V315.4M1344.5 184.8V296.5M1344.5 296.5V313M1345.5 182.5V296.5M1346.5 183.1V296.5M1346.5 296.5V313.6M1348.5 227.4V296.5M1348.5 296.5V311.8M1350.5 278V296.5M1350.5 296.5V313.2M1351.5 279.4V296.4M1351.5 296.4V315.3M1352.5 296.4V311.9M1355.5 182.1V296.4M1355.5 296.4V314.9M1356.5 182.6V296.4M1356.5 296.4V312.7M1359.5 225.1V296.4M1361.5 296.4V312.8M1362.5 182.2V296.4M1362.5 296.4V313.4M1363.5 184V296.4M1363.5 296.4V313M1365.5 185.3V296.4M1366.5 183.2V296.4M1367.5 185.3V296.4M1368.5 185.8V296.4M1368.5 296.4V311.4M1369.5 182.8V296.4M1369.5 296.4V314.1M1370.5 185V296.4M1371.5 184.8V296.4M1372.5 182.7V296.4M1372.5 296.4V314.6M1374.5 184.8V296.4M1374.5 296.4V311.1M1375.5 185.1V296.4M1376.5 185.9V296.4M1377.5 185.2V296.4M1378.5 185.1V296.4M1378.5 296.4V311M1379.5 184.5V296.4M1379.5 296.4V314.8M1380.5 296.4V311.4M1381.5 265.5V296.4M1382.5 225.3V296.4M1384.5 183.9V296.3M1385.5 185.5V296.3M1385.5 296.3V312M1386.5 186.1V296.3M1387.5 184.3V296.3M1387.5 296.3V314.6M1388.5 183.7V296.3M1388.5 296.3V311.1M1389.5 185V296.3M1392.5 269.6V296.3M1394.5 231.6V296.3M1394.5 296.3V313.5M1395.5 225.7V296.3M1395.5 296.3V312.9M1399.5 233.1V296.3M1402.5 213V296.3M1403.5 183.9V296.3M1405.5 183.6V296.3M1405.5 296.3V313.4M1406.5 186.9V296.3M1406.5 296.3V310.9M1407.5 184.3V296.3M1408.5 185.5V296.3M1408.5 296.3V310.9M1409.5 185.9V296.3M1410.5 186.5V296.3M1411.5 185.7V296.3M1411.5 296.3V314.2M1412.5 184.6V296.3M1412.5 296.3V310.8M1415.5 232.6V296.3M1417.5 187V296.2M1417.5 296.2V312.9M1418.5 185.5V296.2M1419.5 185.1V296.2M1420.5 184.6V296.2M1420.5 296.2V313.6M1421.5 254.4V296.2M1423.5 187V296.2M1424.5 186.8V296.2M1425.5 185.3V296.2M1426.5 184.7V296.2M1427.5 186.9V296.2M1427.5 296.2V311.4M1432.5 187V296.2M1432.5 296.2V312.5M1433.5 186.7V296.2M1433.5 296.2V311.9M1436.5 186.2V296.2M1437.5 186.3V296.2M1437.5 296.2V313.2M1438.5 187.1V296.2M1439.5 185.4V296.2M1439.5 296.2V312.2M1440.5 186.2V296.2M1441.5 187.2V296.2M1442.5 274.9V296.2M1444.5 243.9V296.2M1447.5 187.9V296.2M1447.5 296.2V309.8M1448.5 187.3V296.2M1449.5 187.6V296.2M1449.5 296.2V311.9M1450.5 187.3V296.1M1451.5 186.8V296.1M1451.5 296.1V310.8M1452.5 188.1V296.1M1452.5 296.1V313.3M1454.5 283.4V296.1M1454.5 296.1V312.5M1455.5 270.2V296.1M1455.5 296.1V312.7M1457.5 185.9V296.1M1457.5 296.1V312.7M1458.5 186.4V296.1M1458.5 296.1V309.7M1461.5 188V296.1M1462.5 187.1V296.1M1462.5 296.1V312.5M1466.5 296.1V311.4M1469.5 296.1V312.7M1471.5 230.7V296.1M1472.5 187.8V296.1M1473.5 185.4V296.1M1473.5 296.1V312.9M1474.5 188.1V296.1M1475.5 187V296.1M1475.5 296.1V311.8M1477.5 185.6V296.1M1477.5 296.1V312.7M1478.5 185.6V296.1M1478.5 296.1V310M1479.5 186.4V311.8M1480.5 188.9V311.4M1481.5 188.5V312.2M1482.5 188V310.4M1483.5 186.4V309.5M1484.5 187.5V309.6M1485.5 188.2V310.1M1486.5 187.6V311M1487.5 187.8V309.4M1488.5 186.6V311.5M1489.5 186.4V311.4M1490.5 189.1V310.3M1491.5 189.1V311.1M1492.5 189.1V310.8M1493.5 188.4V311.4M1494.5 186.5V310.7M1495.5 187.9V310.5M1496.5 188.2V312.2M1497.5 188.7V311.8M1498.5 186.4V311.4M1499.5 188.2V312.3M1500.5 186V309.2M1501.5 189.4V310M1502.5 188.5V310.8M1504.5 264.9V296M1505.5 188.7V296M1505.5 296V311.9M1506.5 189.5V296M1506.5 296V310.9M1507.5 273.7V296M1508.5 189.1V296M1508.5 296V309M1509.5 187.4V295.9M1510.5 187.2V295.9M1511.5 256.2V295.9M1513.5 187.5V295.9M1514.5 186.7V295.9M1516.5 295.9V309M1517.5 188.6V295.9M1518.5 189.5V295.9M1519.5 188.4V295.9M1520.5 188.5V295.9M1520.5 295.9V310.6M1521.5 188.9V295.9M1522.5 189.7V295.9M1522.5 295.9V308.3M1523.5 189.7V295.9M1524.5 188.3V295.9M1525.5 186.3V295.8M1525.5 295.8V311.6M1526.5 189.6V295.8M1526.5 295.8V311.7M1527.5 187.8V295.8M1528.5 274.9V295.8M1528.5 295.8V308.4M1529.5 295.8V309.9M1530.5 189.7V295.8M1530.5 295.8V309.5M1531.5 189.4V295.8M1531.5 295.8V309.1M1532.5 189.3V295.8M1533.5 189.3V295.8M1533.5 295.8V309.5M1534.5 186.8V295.8M1534.5 295.8V311.5M1535.5 187.6V295.8M1535.5 295.8V308.7M1539.5 259.4V295.8M1540.5 188.5V295.8M1541.5 187.1V295.7M1542.5 189.3V295.7M1542.5 295.7V311M1543.5 189.5V295.7M1543.5 295.7V309.5M1544.5 189.3V295.7M1544.5 295.7V311.6M1545.5 188.2V295.7M1545.5 295.7V311.5M1546.5 187.6V295.7M1546.5 295.7V311M1547.5 190.1V295.7M1548.5 189.1V295.7M1549.5 188.6V295.7M1550.5 187.7V295.7M1551.5 187.9V295.7M1552.5 225.6V295.7M1553.5 189.6V295.7M1554.5 187.8V295.7M1554.5 295.7V311.4M1555.5 188.3V295.7M1555.5 295.7V308.3M1556.5 188.5V295.7M1557.5 277.7V295.6M1559.5 217.8V295.6M1560.5 271.2V295.6M1560.5 295.6V308.8M1561.5 251.3V295.6M1561.5 295.6V310.3M1565.5 187.8V295.6M1565.5 295.6V310.2M1566.5 190V295.6M1566.5 295.6V309M1567.5 187.1V295.6M1567.5 295.6V308.1M1568.5 190V295.6M1568.5 295.6V309.2M1569.5 190.2V295.6M1570.5 187.7V295.6M1571.5 231.6V295.6M1575.5 187V295.5M1575.5 295.5V309.2M1576.5 188.3V295.5M1577.5 187.9V295.5M1578.5 188V295.5M1578.5 295.5V310.7M1579.5 187.3V295.5M1579.5 295.5V308.5M1580.5 188.5V295.5M1582.5 187.8V295.5M1583.5 187.1V295.5M1583.5 295.5V309.3M1584.5 189.4V295.5M1584.5 295.5V310.7M1585.5 189.2V295.5M1585.5 295.5V308.4M1587.5 295.5V308.3M1589.5 250.3V295.5M1590.5 187.5V295.4M1590.5 295.4V309.6M1591.5 264.3V295.4M1593.5 189.4V295.4M1594.5 189.6V295.4M1595.5 190.2V295.4M1595.5 295.4V308.4M1599.5 229.7V295.4M1602.5 248V295.4M1602.5 295.4V308.9M1603.5 188.2V295.4M1603.5 295.4V310.4M1604.5 187.6V295.4M1604.5 295.4V310.5M1605.5 189.2V295.4M1606.5 188.5V295.3M1606.5 295.3V310.1M1607.5 190.3V295.3M1608.5 188.4V295.3M1608.5 295.3V310M1610.5 190.1V295.3M1611.5 190.7V295.3M1611.5 295.3V307.9M1612.5 269.6V295.3M1613.5 269.8V295.3M1614.5 189.1V295.3M1615.5 189.9V295.3M1615.5 295.3V308.1M1616.5 187.8V295.3M1617.5 190.1V295.3M1618.5 188V295.3M1619.5 190.5V295.3M1620.5 190V295.3M1621.5 189V295.3M1621.5 295.3V307M1622.5 187.6V295.2M1623.5 240.1V295.2M1624.5 233.6V295.2M1624.5 295.2V310.6M1625.5 190.8V295.2M1626.5 190.5V295.2M1627.5 188.8V295.2M1627.5 295.2V309.3M1628.5 190.2V295.2M1628.5 295.2V308M1629.5 188.5V295.2M1629.5 295.2V309.6M1630.5 188.2V295.2M1637.5 266.5V295.3M1639.5 295.3V309.6M1640.5 188.5V295.3M1641.5 190.4V295.3M1641.5 295.3V306.7M1643.5 295.3V308.9M1645.5 281.6V295.3M1646.5 295.3V308.5M1651.5 190.7V295.4M1652.5 188.9V295.4M1653.5 190V295.4M1653.5 295.4V306.5M1654.5 190.2V295.4M1655.5 190.2V295.4M1655.5 295.4V309.2M1656.5 189.8V295.4M1657.5 191.2V295.4M1658.5 191.4V295.4M1658.5 295.4V306.7M1659.5 188.7V295.5M1659.5 295.5V309.3M1660.5 190.5V295.5M1663.5 190V295.5M1663.5 295.5V306.7M1664.5 191.4V295.5M1664.5 295.5V307.6M1665.5 191.2V295.5M1667.5 188.8V295.5M1668.5 190V295.5M1669.5 188.5V295.5M1669.5 295.5V307.7M1671.5 274.2V295.6M1675.5 277.5V295.6M1676.5 252.3V295.6M1679.5 251.3V295.6M1681.5 191V295.7M1682.5 189.1V295.7M1683.5 188.6V295.7M1683.5 295.7V306.4M1684.5 191.7V295.7M1684.5 295.7V308M1685.5 188.7V295.7M1686.5 190.8V295.7M1687.5 226.4V295.7M1690.5 191.2V295.7M1691.5 190.4V295.7M1691.5 295.7V309.3M1699.5 295.8V309.4M1700.5 295.8V308M1705.5 236.1V295.9M1706.5 190.5V295.9M1707.5 191.9V295.9M1707.5 295.9V309.4M1712.5 231V295.9M1715.5 247.2V296M1716.5 189.7V296M1717.5 189.7V296M1717.5 296V306.2M1720.5 191.1V306.9M1721.5 189.4V307.1M1722.5 191.3V308.6M1723.5 189.9V307.8M1724.5 189.1V308.1M1725.5 190.4V308.8M1726.5 191.9V306M1727.5 192.3V306.5M1728.5 192.3V309.8M1729.5 189.7V307.1M1730.5 189.4V309.6M1731.5 191.6V309.9M1732.5 191.8V307.5M1733.5 191.7V307.6M1734.5 190.1V307.9M1735.5 191.4V307.5M1736.5 191V308.6M1737.5 191.8V308.2M1738.5 190.5V308.6M1739.5 190.7V309.4M1740.5 189.4V307.2M1741.5 189.2V308.2M1742.5 192.1V309M1743.5 191.3V310.4M1744.5 192V307.9M1745.5 189.9V308.9M1746.5 189.9V309.2M1747.5 189.4V308.4M1748.5 191.7V307.9M1749.5 189.7V309.9M1750.5 189.9V310.6M1751.5 191.3V310.6M1752.5 191.1V309.1M1753.5 190.1V307.4M1754.5 192.6V308.1M1755.5 189.5V311M1756.5 191.1V309.6M1757.5 192.5V310.3M1758.5 190.2V308.5M1759.5 191.6V310.2M1760.5 190.1V308.5M1761.5 191.1V296.5M1762.5 191.6V296.5M1763.5 191.4V296.5M1763.5 296.5V308M1766.5 246.8V296.6M1767.5 236.4V296.6M1769.5 192.8V296.6M1770.5 190.3V296.6M1770.5 296.6V311.7M1771.5 192V296.6M1771.5 296.6V311.2M1772.5 189.8V296.6M1773.5 191V296.7M1773.5 296.7V308.2M1774.5 192.3V296.7M1774.5 296.7V311M1776.5 192.1V296.7M1777.5 192.6V296.7M1778.5 189.9V296.7M1779.5 191V296.7M1779.5 296.7V308.6M1780.5 191V296.8M1780.5 296.8V312.2M1781.5 192.6V296.8M1781.5 296.8V309.3M1782.5 190.4V296.8M1783.5 190.9V296.8M1784.5 191.2V296.8M1785.5 192.5V296.8M1785.5 296.8V310.5M1786.5 191.2V296.8M1787.5 191.6V296.8M1787.5 296.8V310.8M1788.5 192.7V296.9M1788.5 296.9V311.3M1789.5 190.3V296.9M1794.5 220.4V296.9M1794.5 296.9V310.4M1796.5 233V296.9M1797.5 235.7V297M1802.5 228V297.1M1803.5 297.1V313.2M1804.5 297.2V311.6M1806.5 247.6V297.3M1808.5 297.4V311.1M1810.5 245V297.5M1811.5 297.5V313.6M1814.5 192.4V297.6M1814.5 297.6V311.1M1817.5 297.8V313.1M1823.5 192.7V298M1824.5 192V298.1M1825.5 192.4V298.1M1825.5 298.1V310.6M1826.5 191.1V298.2M1827.5 191.7V298.2M1828.5 191.1V298.3M1831.5 192.6V298.4M1831.5 298.4V311.8M1832.5 191.8V298.4M1833.5 298.5V313M1834.5 284.3V298.5M1834.5 298.5V312.3M1835.5 242.6V298.6M1836.5 285.9V298.6M1848.5 299.2V312M1850.5 243.7V299.3" stroke="#000" stroke-width="1.1" fill="none" />
<path d="M1851 225V314.5M1852 225V314.5" stroke="#555" stroke-width="1.2" fill="none" />
<path d="M1125.5 293.4 L1126.4 292.9 L1127.3 293 L1128.2 294.4 L1129.1 293.3 L1130 292.9 L1130.9 293.8 L1131.8 293 L1132.7 293.5 L1133.6 294.2 L1134.5 293.2 L1135.4 293.5 L1136.3 294.4 L1137.2 294.3 L1138.1 294.3 L1139 292.8 L1139.9 294.5 L1140.8 293.8 L1141.7 293 L1142.6 294.5 L1143.5 293 L1144.4 294.5 L1145.3 292.8 L1146.2 292.9 L1147.1 293.6 L1148 293.8 L1148.9 293.8 L1149.8 294.2 L1150.7 292.9 L1151.6 294 L1152.5 293.3 L1153.4 294.4 L1154.3 293.8 L1155.2 293.9 L1156.1 292.9 L1157 294.3 L1157.9 293.2 L1158.8 293.1 L1159.7 293.4 L1160.6 294.1 L1161.5 293.3 L1162.4 293.5 L1163.3 293.8 L1164.2 293.1 L1165.1 292.9 L1166 293.4 L1166.9 293.9 L1167.8 293.9 L1168.7 293 L1169.6 293.8 L1170.5 294.1 L1171.4 293.9 L1172.3 293 L1173.2 292.7 L1174.1 294.4 L1175 293.9 L1175.9 293.1 L1176.8 293.9 L1177.7 293.7 L1178.6 293.7 L1179.5 293.3 L1180.4 293.8 L1181.3 293.3 L1182.2 293.3 L1183.1 293.2 L1184 293.9 L1184.9 294.1 L1185.8 293.1 L1186.7 292.7 L1187.6 293 L1188.5 293.9 L1189.4 293.2 L1190.3 292.6 L1191.2 294.1 L1192.1 293.3 L1193 292.7 L1193.9 293.9 L1194.8 293.5 L1195.7 294.1 L1196.6 294 L1197.5 294 L1198.4 294.1 L1199.3 293.2 L1200.2 294 L1201.1 293.4 L1202 293.7 L1202.9 292.9 L1203.8 293.6 L1204.7 292.6 L1205.6 294.1 L1206.5 292.8 L1207.4 293.5 L1208.3 294 L1209.2 294 L1210.1 294 L1211 293.3 L1211.9 292.6 L1212.8 294.3 L1213.7 293 L1214.6 294 L1215.5 293.2 L1216.4 293.3 L1217.3 293.4 L1218.2 293.4 L1219.1 293.9 L1220 293.5 L1220.9 292.8 L1221.8 293.4 L1222.7 292.6 L1223.6 294 L1224.5 292.8 L1225.4 293.1 L1226.3 293.5 L1227.2 293 L1228.1 294 L1229 293.9 L1229.9 293 L1230.8 293.2 L1231.7 293.7 L1232.6 293.3 L1233.5 293.6 L1234.4 293 L1235.3 293.4 L1236.2 293.5 L1237.1 294 L1238 293 L1238.9 293.8 L1239.8 292.8 L1240.7 292.9 L1241.6 292.8 L1242.5 294.1 L1243.4 292.5 L1244.3 292.9 L1245.2 293.2 L1246.1 293.6 L1247 293.6 L1247.9 292.6 L1248.8 293.1 L1249.7 293.7 L1250.6 292.6 L1251.5 292.6 L1252.4 293.8 L1253.3 292.3 L1254.2 292.5 L1255.1 292.7 L1256 293.8 L1256.9 293 L1257.8 293.1 L1258.7 293.3 L1259.6 293.9 L1260.5 292.4 L1261.4 292.7 L1262.3 293 L1263.2 293.5 L1264.1 292.5 L1265 293.1 L1265.9 293.3 L1266.8 292.4 L1267.7 292.9 L1268.6 292.4 L1269.5 293.9 L1270.4 292.3 L1271.3 292.6 L1272.2 293.4 L1273.1 292.7 L1274 293.3 L1274.9 292.9 L1275.8 294 L1276.7 293.3 L1277.6 292.9 L1278.5 292.6 L1279.4 293.1 L1280.3 293.6 L1281.2 293.5 L1282.1 293.5 L1283 293.2 L1283.9 293.9 L1284.8 292.9 L1285.7 293.2 L1286.6 293.9 L1287.5 293.6 L1288.4 293.1 L1289.3 293.6 L1290.2 293.6 L1291.1 292.7 L1292 292.9 L1292.9 293.6 L1293.8 292.9 L1294.7 292.8 L1295.6 293.2 L1296.5 292.3 L1297.4 292.7 L1298.3 294 L1299.2 292.6 L1300.1 293.6 L1301 292.2 L1301.9 292.7 L1302.8 293.1 L1303.7 292.7 L1304.6 293.9 L1305.5 293.9 L1306.4 292.7 L1307.3 292.4 L1308.2 293.8 L1309.1 293.6 L1310 293.1 L1310.9 292.2 L1311.8 292.2 L1312.7 293.4 L1313.6 293.4 L1314.5 293 L1315.4 292.7 L1316.3 292.6 L1317.2 292.8 L1318.1 292.9 L1319 293.2 L1319.9 292.9 L1320.8 292.7 L1321.7 292.5 L1322.6 293.3 L1323.5 293.8 L1324.4 292.4 L1325.3 293.5 L1326.2 293.3 L1327.1 292.5 L1328 292.3 L1328.9 293.6 L1329.8 292.3 L1330.7 292.3 L1331.6 292.2 L1332.5 293.5 L1333.4 292.8 L1334.3 292.1 L1335.2 292.6 L1336.1 293 L1337 292.9 L1337.9 292.3 L1338.8 293.6 L1339.7 293.3 L1340.6 292.5 L1341.5 292.6 L1342.4 292.5 L1343.3 292.1 L1344.2 293.1 L1345.1 292.5 L1346 293.2 L1346.9 293.5 L1347.8 292.6 L1348.7 292.5 L1349.6 292.7 L1350.5 292.9 L1351.4 292.1 L1352.3 292.7 L1353.2 292.6 L1354.1 292.2 L1355 293.5 L1355.9 293.3 L1356.8 292.9 L1357.7 292.1 L1358.6 293.3 L1359.5 292.7 L1360.4 293.6 L1361.3 293.1 L1362.2 292.4 L1363.1 293.3 L1364 293 L1364.9 292.6 L1365.8 293.4 L1366.7 292.6 L1367.6 292.2 L1368.5 292 L1369.4 293.1 L1370.3 292.4 L1371.2 292.2 L1372.1 292 L1373 293.3 L1373.9 292.4 L1374.8 293.5 L1375.7 293.5 L1376.6 293.4 L1377.5 292.3 L1378.4 293.6 L1379.3 293 L1380.2 293.4 L1381.1 293.6 L1382 292.5 L1382.9 292.6 L1383.8 293.5 L1384.7 292.4 L1385.6 292.1 L1386.5 292 L1387.4 292.9 L1388.3 292.4 L1389.2 293.6 L1390.1 291.9 L1391 292.6 L1391.9 293.2 L1392.8 293 L1393.7 293.4 L1394.6 293 L1395.5 293.4 L1396.4 293.6 L1397.3 293.4 L1398.2 292.9 L1399.1 292.6 L1400 292.8 L1400.9 292.3 L1401.8 292.3 L1402.7 292.8 L1403.6 292.6 L1404.5 292.5 L1405.4 292 L1406.3 293.6 L1407.2 292.4 L1408.1 292.7 L1409 292.5 L1409.9 292.8 L1410.8 293.2 L1411.7 293.5 L1412.6 292.9 L1413.5 293.5 L1414.4 292.5 L1415.3 292.7 L1416.2 292.4 L1417.1 293.5 L1418 292 L1418.9 292.2 L1419.8 293.2 L1420.7 292.2 L1421.6 291.9 L1422.5 292.5 L1423.4 292.6 L1424.3 292.6 L1425.2 292.2 L1426.1 292.4 L1427 292.3 L1427.9 292.1 L1428.8 292.7 L1429.7 292.2 L1430.6 292.1 L1431.5 293.4 L1432.4 293.4 L1433.3 292.4 L1434.2 292.7 L1435.1 291.9 L1436 291.8 L1436.9 292.7 L1437.8 293.4 L1438.7 291.9 L1439.6 292.6 L1440.5 293.2 L1441.4 291.7 L1442.3 292.8 L1443.2 292.2 L1444.1 293.1 L1445 293.2 L1445.9 293.3 L1446.8 293.1 L1447.7 291.9 L1448.6 292.9 L1449.5 292.7 L1450.4 292.2 L1451.3 292.1 L1452.2 292.5 L1453.1 292.5 L1454 292.4 L1454.9 293.4 L1455.8 292.1 L1456.7 293.2 L1457.6 291.9 L1458.5 292.9 L1459.4 292.5 L1460.3 292.4 L1461.2 292.5 L1462.1 291.9 L1463 292.1 L1463.9 292.4 L1464.8 292 L1465.7 293.2 L1466.6 292.9 L1467.5 292.8 L1468.4 292.9 L1469.3 291.9 L1470.2 291.7 L1471.1 291.8 L1472 293.2 L1472.9 292.5 L1473.8 293.4 L1474.7 292.2 L1475.6 292.3 L1476.5 292.8 L1477.4 293.1 L1478.3 292.4 L1479.2 292.5 L1480.1 292.2 L1481 292 L1481.9 293.2 L1482.8 293.2 L1483.7 292.4 L1484.6 291.8 L1485.5 293.2 L1486.4 292.4 L1487.3 292.9 L1488.2 292.3 L1489.1 291.7 L1490 292.9 L1490.9 291.8 L1491.8 293.3 L1492.7 291.9 L1493.6 292.2 L1494.5 291.6 L1495.4 292 L1496.3 292.7 L1497.2 291.7 L1498.1 291.8 L1499 291.7 L1499.9 291.6 L1500.8 292.5 L1501.7 291.9 L1502.6 292.9 L1503.5 292.7 L1504.4 292.4 L1505.3 293.2 L1506.2 293.3 L1507.1 292.1 L1508 292.9 L1508.9 292.7 L1509.8 291.8 L1510.7 292.9 L1511.6 291.5 L1512.5 292.7 L1513.4 293.1 L1514.3 292.6 L1515.2 292.7 L1516.1 292.6 L1517 292.2 L1517.9 291.6 L1518.8 292.1 L1519.7 292 L1520.6 292.9 L1521.5 293 L1522.4 293.1 L1523.3 292 L1524.2 293 L1525.1 293 L1526 291.4 L1526.9 292.4 L1527.8 291.5 L1528.7 291.5 L1529.6 292.2 L1530.5 292.6 L1531.4 291.7 L1532.3 291.9 L1533.2 292.2 L1534.1 292.3 L1535 291.5 L1535.9 291.6 L1536.8 291.3 L1537.7 291.9 L1538.6 293.1 L1539.5 291.6 L1540.4 292.6 L1541.3 292.5 L1542.2 292.8 L1543.1 292.7 L1544 291.4 L1544.9 291.9 L1545.8 292.8 L1546.7 292.4 L1547.6 292.8 L1548.5 291.3 L1549.4 292.7 L1550.3 291.9 L1551.2 292.6 L1552.1 292.3 L1553 291.9 L1553.9 292.2 L1554.8 291.2 L1555.7 292.9 L1556.6 292.8 L1557.5 292.3 L1558.4 292.3 L1559.3 292.5 L1560.2 292 L1561.1 291.6 L1562 292.3 L1562.9 292.9 L1563.8 292.7 L1564.7 292.6 L1565.6 291.4 L1566.5 291.7 L1567.4 291.6 L1568.3 292.1 L1569.2 292.7 L1570.1 292.2 L1571 292.1 L1571.9 291.9 L1572.8 291.4 L1573.7 291.6 L1574.6 292.8 L1575.5 292.7 L1576.4 292.2 L1577.3 292.3 L1578.2 291.5 L1579.1 291.1 L1580 291.1 L1580.9 291.1 L1581.8 291.4 L1582.7 292.8 L1583.6 292.1 L1584.5 291.4 L1585.4 291.2 L1586.3 291 L1587.2 291 L1588.1 291.2 L1589 291.6 L1589.9 291.3 L1590.8 291.4 L1591.7 292.1 L1592.6 291.2 L1593.5 291.2 L1594.4 292.3 L1595.3 291.4 L1596.2 292.1 L1597.1 291.4 L1598 292.2 L1598.9 290.9 L1599.8 291.4 L1600.7 292.5 L1601.6 291.4 L1602.5 292 L1603.4 291.3 L1604.3 291.1 L1605.2 291.6 L1606.1 291.7 L1607 290.9 L1607.9 291.8 L1608.8 291.6 L1609.7 291.5 L1610.6 292.2 L1611.5 292.4 L1612.4 291.6 L1613.3 291.4 L1614.2 292.2 L1615.1 292.2 L1616 291.7 L1616.9 291.9 L1617.8 291.4 L1618.7 292.1 L1619.6 291.8 L1620.5 292.3 L1621.4 291.3 L1622.3 290.9 L1623.2 292.3 L1624.1 291.8 L1625 292.2 L1625.9 292.1 L1626.8 292.1 L1627.7 291.4 L1628.6 292.3 L1629.5 291.8 L1630.4 291.5 L1631.3 291 L1632.2 290.9 L1633.1 291.2 L1634 291.3 L1634.9 291.4 L1635.8 291.9 L1636.7 292.5 L1637.6 291.8 L1638.5 292 L1639.4 290.8 L1640.3 292.1 L1641.2 291.8 L1642.1 292.2 L1643 291.5 L1643.9 292 L1644.8 291.8 L1645.7 292.3 L1646.6 291.7 L1647.5 292.4 L1648.4 292.5 L1649.3 291.8 L1650.2 291.8 L1651.1 292.2 L1652 291.9 L1652.9 292.7 L1653.8 292.6 L1654.7 291.8 L1655.6 292.2 L1656.5 291.1 L1657.4 292.6 L1658.3 292.1 L1659.2 291 L1660.1 291 L1661 292.5 L1661.9 292.4 L1662.8 292.1 L1663.7 291.7 L1664.6 291.5 L1665.5 291.9 L1666.4 292.7 L1667.3 292.2 L1668.2 291.1 L1669.1 291.4 L1670 291.2 L1670.9 292.6 L1671.8 292.6 L1672.7 292.8 L1673.6 291.9 L1674.5 291.7 L1675.4 291.2 L1676.3 291.6 L1677.2 291.8 L1678.1 291.8 L1679 291.8 L1679.9 292.5 L1680.8 292.7 L1681.7 291.9 L1682.6 292.7 L1683.5 291.7 L1684.4 291.7 L1685.3 292.6 L1686.2 291.4 L1687.1 291.4 L1688 293 L1688.9 292.1 L1689.8 292 L1690.7 292.6 L1691.6 292.9 L1692.5 291.9 L1693.4 292.7 L1694.3 291.5 L1695.2 292.9 L1696.1 292 L1697 292 L1697.9 291.3 L1698.8 291.5 L1699.7 292 L1700.6 291.5 L1701.5 292.5 L1702.4 293.2 L1703.3 291.9 L1704.2 292.7 L1705.1 292.4 L1706 292.5 L1706.9 292.8 L1707.8 292.3 L1708.7 292.9 L1709.6 291.7 L1710.5 292.7 L1711.4 292.4 L1712.3 291.8 L1713.2 291.9 L1714.1 293.2 L1715 292.6 L1715.9 292.4 L1716.8 292.4 L1717.7 293 L1718.6 292.6 L1719.5 291.9 L1720.4 293.2 L1721.3 293.1 L1722.2 292.9 L1723.1 292.8 L1724 292.8 L1724.9 292.2 L1725.8 293.3 L1726.7 292.9 L1727.6 291.9 L1728.5 293.1 L1729.4 292.4 L1730.3 291.7 L1731.2 293.2 L1732.1 292.1 L1733 292.4 L1733.9 291.9 L1734.8 292.6 L1735.7 292.7 L1736.6 293.2 L1737.5 293.4 L1738.4 293.3 L1739.3 293 L1740.2 292.5 L1741.1 293.5 L1742 292.2 L1742.9 292.4 L1743.8 292.8 L1744.7 292.5 L1745.6 292.8 L1746.5 292 L1747.4 292.3 L1748.3 291.9 L1749.2 292.6 L1750.1 292.3 L1751 293.4 L1751.9 292.4 L1752.8 292.3 L1753.7 293.2 L1754.6 292.3 L1755.5 293.5 L1756.4 292.9 L1757.3 292.2 L1758.2 293.2 L1759.1 293.8 L1760 292.6 L1760.9 293 L1761.8 293 L1762.7 293.7 L1763.6 293.8 L1764.5 292.2 L1765.4 292.8 L1766.3 293.5 L1767.2 292.8 L1768.1 293 L1769 293.1 L1769.9 292.2 L1770.8 292.2 L1771.7 293.8 L1772.6 292.9 L1773.5 293 L1774.4 293.2 L1775.3 293.5 L1776.2 293.8 L1777.1 292.4 L1778 293.4 L1778.9 292.2 L1779.8 293.2 L1780.7 293.7 L1781.6 293.1 L1782.5 292.9 L1783.4 293.8 L1784.3 293.6 L1785.2 294 L1786.1 293.3 L1787 292.9 L1787.9 293.6 L1788.8 293.2 L1789.7 292.4 L1790.6 292.6 L1791.5 294.1 L1792.4 293.6 L1793.3 292.5 L1794.2 293.8 L1795.1 293.8 L1796 292.5 L1796.9 294.2 L1797.8 292.8 L1798.7 293.4 L1799.6 293.8 L1800.5 293.4 L1801.4 293.2 L1802.3 293.5 L1803.2 293.8 L1804.1 294.4 L1805 294.4 L1805.9 294.6 L1806.8 294.3 L1807.7 293.8 L1808.6 293.6 L1809.5 294.7 L1810.4 294.7 L1811.3 293.7 L1812.2 294.6 L1813.1 293.8 L1814 293.4 L1814.9 294.2 L1815.8 295 L1816.7 294.4 L1817.6 294.9 L1818.5 295 L1819.4 295 L1820.3 294.1 L1821.2 295.3 L1822.1 293.9 L1823 294.7 L1823.9 294 L1824.8 294.5 L1825.7 295.5 L1826.6 295.4 L1827.5 295.8 L1828.4 295.1 L1829.3 295 L1830.2 294.4 L1831.1 295.1 L1832 295.9 L1832.9 294.9 L1833.8 295.9 L1834.7 294.9 L1835.6 295.9 L1836.5 294.8 L1837.4 296.3 L1838.3 294.8 L1839.2 294.8 L1840.1 295.7 L1841 296.1 L1841.9 296.1 L1842.8 295.6 L1843.7 296.2 L1844.6 295.3 L1845.5 295.6 L1846.4 295.6 L1847.3 295.5 L1848.2 295.2 L1849.1 295.6 L1850 296.2 L1850.9 296.4 L1851.8 295.9 L1852.7 296.5 L1853.6 296 L1854.5 297 L1855.4 295.6 L1856.3 297.1 L1857.2 297.4 L1858.1 296.9 L1859 297.1 L1859.9 297.8 L1860.8 296.3 L1861.7 296.3 L1862.6 297.1 L1863.5 297.6 L1864.4 297.4 L1865.3 297.3 L1866.2 297.3 L1867.1 297.5 L1868 298.3 L1868.9 296.9 L1869.8 298 L1870.7 297.1 L1871.6 298.5 L1872.5 297.6 L1873.4 298.6 L1874.3 297.8 L1875.2 298.5 L1876.1 298.3 L1877 299.2 L1877.9 298.4 L1878.8 298.6 L1879.7 298.6 L1880.6 298.2 L1881.5 299.6 L1882.4 298.5 L1883.3 298.3 L1884.2 298.4 L1885.1 299.4 L1886 299.8 L1886.9 299.3 L1887.8 300.1 L1888.7 298.8 L1889.6 300.1 L1890.5 299.9 L1891.4 299 L1892.3 298.8 L1893.2 299.5 L1894.1 299.6 L1895 299.8 L1895.9 300.2 L1896.8 299.4 L1897.7 299.5 L1898.6 299.7 L1899.5 299.5 L1900.4 300.1 L1901.3 300.4 L1902.2 299.8 L1903.1 299.6 L1904 300.8 L1904.9 299.6 L1905.8 301.1 L1906.7 300.7 L1907.6 300 L1908.5 299.7 L1909.4 301.2 L1910.3 299.8 L1911.2 301.2 L1912.1 300.8 L1913 301.1 L1913.9 300.3 L1914.8 301.3 L1915.7 300.5 L1916.6 301.1 L1917.5 301.8 L1918.4 301.2 L1919.3 300.5 L1920.2 300.7 L1921.1 301 L1922 301.8 L1922.9 301.8 L1923.8 301.1 L1924.7 301.5 L1925.6 301.1 L1926.5 301.4 L1927.4 301.2 L1928.3 302.3 L1929.2 301.4 L1930.1 301.3 L1931 301.9 L1931.9 301.2 L1932.8 301.1 L1933.7 301.7 L1934.6 302.4 L1935.5 301.7 L1936.4 301.5 L1937.3 301.6 L1938.2 302.2 L1939.1 301.7 L1940 302.2 L1940.9 302.2 L1941.8 301.4 L1942.7 301.9 L1943.6 302.9 L1944.5 301.8 L1945.4 302.8 L1946.3 301.7 L1947.2 302.5 L1948.1 302.4 L1949 302.8 L1949.9 301.7 L1950.8 302 L1951.7 302.5 L1952.6 303.5 L1953.5 302.8 L1954.4 303.5 L1955.3 302.9 L1956.2 303.8 L1957.1 302.2 L1958 303.7 L1958.9 302.6 L1958.9 308.9 L1958 307.5 L1957.1 308.1 L1956.2 307.9 L1955.3 307.4 L1954.4 307.2 L1953.5 307.5 L1952.6 306.9 L1951.7 307.4 L1950.8 308.5 L1949.9 306.8 L1949 308.2 L1948.1 307.3 L1947.2 307.2 L1946.3 308.2 L1945.4 307 L1944.5 307.8 L1943.6 306.6 L1942.7 306.8 L1941.8 307.7 L1940.9 307.1 L1940 307.8 L1939.1 307.6 L1938.2 307.5 L1937.3 306.8 L1936.4 306.6 L1935.5 307.7 L1934.6 306.9 L1933.7 306.3 L1932.8 306.9 L1931.9 307.4 L1931 307.5 L1930.1 306.2 L1929.2 307 L1928.3 307.1 L1927.4 306.7 L1926.5 306.7 L1925.6 306.3 L1924.7 306.3 L1923.8 306.9 L1922.9 307.2 L1922 306.4 L1921.1 306 L1920.2 307.1 L1919.3 306 L1918.4 305.6 L1917.5 306 L1916.6 306.7 L1915.7 305.3 L1914.8 306.4 L1913.9 306.7 L1913 306.8 L1912.1 305.5 L1911.2 306.6 L1910.3 306.2 L1909.4 306.4 L1908.5 305.1 L1907.6 305.4 L1906.7 306.6 L1905.8 305.2 L1904.9 305.8 L1904 306.4 L1903.1 305.8 L1902.2 306.1 L1901.3 305.5 L1900.4 306.2 L1899.5 306.3 L1898.6 304.9 L1897.7 305.4 L1896.8 304.5 L1895.9 304.7 L1895 305.8 L1894.1 305.4 L1893.2 305.3 L1892.3 305.3 L1891.4 304.2 L1890.5 305.5 L1889.6 305.1 L1888.7 305.5 L1887.8 304.4 L1886.9 305 L1886 304.6 L1885.1 305.1 L1884.2 304.9 L1883.3 304 L1882.4 304.1 L1881.5 303.4 L1880.6 304.2 L1879.7 304.2 L1878.8 303.8 L1877.9 303.1 L1877 304.1 L1876.1 303.2 L1875.2 303 L1874.3 303.5 L1873.4 303.1 L1872.5 303.8 L1871.6 302.8 L1870.7 304.3 L1869.8 303.1 L1868.9 303.2 L1868 303.3 L1867.1 303.2 L1866.2 303.1 L1865.3 303.3 L1864.4 303.5 L1863.5 302.3 L1862.6 302.3 L1861.7 303.2 L1860.8 302.3 L1859.9 303.5 L1859 303.4 L1858.1 302.3 L1857.2 302.2 L1856.3 302.2 L1855.4 302.8 L1854.5 303.2 L1853.6 302.3 L1852.7 302.8 L1851.8 302.8 L1850.9 302.4 L1850 302.2 L1849.1 302.6 L1848.2 301.5 L1847.3 303.2 L1846.4 302.5 L1845.5 302.2 L1844.6 301.6 L1843.7 303 L1842.8 302.5 L1841.9 301.7 L1841 301.8 L1840.1 301.3 L1839.2 301.7 L1838.3 301.3 L1837.4 301.9 L1836.5 301.3 L1835.6 302.6 L1834.7 301.2 L1833.8 301.2 L1832.9 301.1 L1832 301.1 L1831.1 301 L1830.2 302.6 L1829.3 301.2 L1828.4 301.9 L1827.5 302.5 L1826.6 301.6 L1825.7 302.1 L1824.8 300.7 L1823.9 301.4 L1823 301.4 L1822.1 301 L1821.2 301.4 L1820.3 302.1 L1819.4 301 L1818.5 300.7 L1817.6 300.7 L1816.7 300.6 L1815.8 301.1 L1814.9 300.5 L1814 300.7 L1813.1 300.9 L1812.2 301.4 L1811.3 300.9 L1810.4 301.1 L1809.5 300.9 L1808.6 300.8 L1807.7 300.9 L1806.8 301.5 L1805.9 300.6 L1805 300.5 L1804.1 300.7 L1803.2 301.2 L1802.3 300 L1801.4 301 L1800.5 299.8 L1799.6 299.8 L1798.7 300.5 L1797.8 301.4 L1796.9 300.5 L1796 300.9 L1795.1 300.3 L1794.2 300.8 L1793.3 300.1 L1792.4 300.9 L1791.5 300.7 L1790.6 299.9 L1789.7 300.6 L1788.8 300.3 L1787.9 300.4 L1787 299.8 L1786.1 300.8 L1785.2 301.3 L1784.3 300.7 L1783.4 300.8 L1782.5 301.1 L1781.6 300.8 L1780.7 299.6 L1779.8 299.9 L1778.9 300.7 L1778 301.2 L1777.1 299.9 L1776.2 300.1 L1775.3 300.4 L1774.4 300 L1773.5 299.6 L1772.6 299.7 L1771.7 300.5 L1770.8 299.9 L1769.9 300.6 L1769 300.5 L1768.1 299.6 L1767.2 300.3 L1766.3 300.2 L1765.4 300.7 L1764.5 300.3 L1763.6 300 L1762.7 300.8 L1761.8 300.4 L1760.9 300 L1760 299.2 L1759.1 299.4 L1758.2 299.3 L1757.3 300 L1756.4 300 L1755.5 299.6 L1754.6 299.5 L1753.7 299.7 L1752.8 299.7 L1751.9 299.8 L1751 299.8 L1750.1 300.7 L1749.2 299.3 L1748.3 299.1 L1747.4 299.5 L1746.5 300.1 L1745.6 300.6 L1744.7 300.4 L1743.8 300.3 L1742.9 299.7 L1742 299.4 L1741.1 299.7 L1740.2 299 L1739.3 300.3 L1738.4 299 L1737.5 299.5 L1736.6 299.6 L1735.7 299.7 L1734.8 299.4 L1733.9 300.1 L1733 299.8 L1732.1 299.4 L1731.2 299.4 L1730.3 298.9 L1729.4 300.5 L1728.5 299.6 L1727.6 300.1 L1726.7 299.8 L1725.8 299.1 L1724.9 299.1 L1724 299 L1723.1 298.9 L1722.2 299.7 L1721.3 298.8 L1720.4 299.5 L1719.5 300.2 L1718.6 299.8 L1717.7 299 L1716.8 300.2 L1715.9 298.8 L1715 299.5 L1714.1 299.9 L1713.2 299.8 L1712.3 299.3 L1711.4 299.5 L1710.5 299 L1709.6 299.9 L1708.7 300.2 L1707.8 299.3 L1706.9 300 L1706 299.2 L1705.1 298.6 L1704.2 300.1 L1703.3 299.3 L1702.4 299.1 L1701.5 300 L1700.6 298.8 L1699.7 299.9 L1698.8 299.4 L1697.9 299.7 L1697 300.2 L1696.1 300 L1695.2 299.9 L1694.3 300 L1693.4 298.6 L1692.5 299.3 L1691.6 299.9 L1690.7 300.1 L1689.8 298.6 L1688.9 298.9 L1688 298.6 L1687.1 299.9 L1686.2 299.2 L1685.3 299.5 L1684.4 299.5 L1683.5 298.7 L1682.6 300 L1681.7 300 L1680.8 298.7 L1679.9 298.4 L1679 298.5 L1678.1 299 L1677.2 298.6 L1676.3 300 L1675.4 300 L1674.5 299.1 L1673.6 298.8 L1672.7 298.5 L1671.8 299.8 L1670.9 299.6 L1670 298.3 L1669.1 299.5 L1668.2 299.4 L1667.3 298.8 L1666.4 299.8 L1665.5 299.5 L1664.6 299 L1663.7 298.3 L1662.8 299.7 L1661.9 298.6 L1661 299.7 L1660.1 299.5 L1659.2 299.3 L1658.3 299.2 L1657.4 298.6 L1656.5 299.7 L1655.6 299 L1654.7 298.7 L1653.8 298.6 L1652.9 299.1 L1652 298.2 L1651.1 298.5 L1650.2 298.7 L1649.3 299.1 L1648.4 298.1 L1647.5 299.4 L1646.6 299.7 L1645.7 299.2 L1644.8 298.5 L1643.9 298.5 L1643 299.1 L1642.1 299.4 L1641.2 298.1 L1640.3 299.5 L1639.4 299.1 L1638.5 299.6 L1637.6 299.7 L1636.7 298.4 L1635.8 298.5 L1634.9 299.4 L1634 298.7 L1633.1 298.7 L1632.2 299.1 L1631.3 299.4 L1630.4 299.3 L1629.5 299.4 L1628.6 298.7 L1627.7 299.2 L1626.8 299.1 L1625.9 298.1 L1625 298.3 L1624.1 298.2 L1623.2 299 L1622.3 298.2 L1621.4 299.4 L1620.5 298.6 L1619.6 298.9 L1618.7 298.1 L1617.8 298.4 L1616.9 298.4 L1616 299.2 L1615.1 298.9 L1614.2 298.3 L1613.3 298.7 L1612.4 299.7 L1611.5 298.5 L1610.6 298.9 L1609.7 299.6 L1608.8 299.1 L1607.9 299.1 L1607 299 L1606.1 298.1 L1605.2 298.8 L1604.3 298.5 L1603.4 299 L1602.5 298.6 L1601.6 299.6 L1600.7 299.1 L1599.8 298.9 L1598.9 298.6 L1598 298.8 L1597.1 298.6 L1596.2 299.8 L1595.3 299.6 L1594.4 299.8 L1593.5 299 L1592.6 299.7 L1591.7 299.9 L1590.8 298.4 L1589.9 299.7 L1589 298.6 L1588.1 299.4 L1587.2 298.8 L1586.3 298.8 L1585.4 299.5 L1584.5 298.2 L1583.6 298.3 L1582.7 298.5 L1581.8 298.4 L1580.9 299.6 L1580 298.5 L1579.1 299.8 L1578.2 299.2 L1577.3 299.9 L1576.4 299.4 L1575.5 298.5 L1574.6 299.9 L1573.7 299.4 L1572.8 298.7 L1571.9 298.6 L1571 299.1 L1570.1 298.9 L1569.2 299.5 L1568.3 298.6 L1567.4 298.4 L1566.5 298.6 L1565.6 298.7 L1564.7 298.7 L1563.8 299.6 L1562.9 298.8 L1562 299.1 L1561.1 299.4 L1560.2 299.3 L1559.3 299.3 L1558.4 298.4 L1557.5 298.9 L1556.6 299.9 L1555.7 299 L1554.8 299 L1553.9 298.9 L1553 299.7 L1552.1 299.1 L1551.2 300.1 L1550.3 299.4 L1549.4 298.4 L1548.5 299.4 L1547.6 298.8 L1546.7 300 L1545.8 299.1 L1544.9 299.2 L1544 299.6 L1543.1 299.4 L1542.2 298.9 L1541.3 300 L1540.4 299.8 L1539.5 298.7 L1538.6 300 L1537.7 298.5 L1536.8 299.5 L1535.9 298.6 L1535 298.9 L1534.1 299.4 L1533.2 300.1 L1532.3 298.8 L1531.4 299 L1530.5 298.9 L1529.6 300.2 L1528.7 299.2 L1527.8 299.8 L1526.9 298.7 L1526 298.5 L1525.1 299.6 L1524.2 299.5 L1523.3 299.8 L1522.4 300.3 L1521.5 299.4 L1520.6 300.1 L1519.7 299.9 L1518.8 298.8 L1517.9 298.7 L1517 299.5 L1516.1 298.6 L1515.2 299.8 L1514.3 298.9 L1513.4 299.3 L1512.5 299.2 L1511.6 299.6 L1510.7 299.4 L1509.8 299.8 L1508.9 300.2 L1508 299.5 L1507.1 299 L1506.2 299 L1505.3 299.8 L1504.4 300 L1503.5 298.7 L1502.6 299.2 L1501.7 300.3 L1500.8 299.7 L1499.9 300.3 L1499 299.7 L1498.1 300.3 L1497.2 299.4 L1496.3 299.5 L1495.4 298.8 L1494.5 298.8 L1493.6 299.7 L1492.7 299.5 L1491.8 300.4 L1490.9 299.5 L1490 299.3 L1489.1 299.7 L1488.2 299.1 L1487.3 300.1 L1486.4 300.4 L1485.5 298.8 L1484.6 300.2 L1483.7 299.2 L1482.8 299.9 L1481.9 300.2 L1481 299.6 L1480.1 300.3 L1479.2 299 L1478.3 299.6 L1477.4 299.2 L1476.5 300.5 L1475.6 299.5 L1474.7 300.3 L1473.8 299.5 L1472.9 298.8 L1472 300.2 L1471.1 299.9 L1470.2 299.4 L1469.3 299.6 L1468.4 299.3 L1467.5 300.3 L1466.6 299.5 L1465.7 298.8 L1464.8 300.3 L1463.9 299.3 L1463 299.3 L1462.1 300.1 L1461.2 300.3 L1460.3 300.4 L1459.4 300 L1458.5 300.1 L1457.6 300.5 L1456.7 300 L1455.8 300.6 L1454.9 299.9 L1454 299.9 L1453.1 299.5 L1452.2 298.9 L1451.3 299.3 L1450.4 299.7 L1449.5 299 L1448.6 300.3 L1447.7 299.8 L1446.8 299.2 L1445.9 299.5 L1445 299.5 L1444.1 300.4 L1443.2 299.1 L1442.3 299.7 L1441.4 299.5 L1440.5 298.9 L1439.6 300 L1438.7 300.4 L1437.8 300 L1436.9 299.6 L1436 299.7 L1435.1 298.9 L1434.2 300.2 L1433.3 299.8 L1432.4 299 L1431.5 299.7 L1430.6 299 L1429.7 300.5 L1428.8 299 L1427.9 299.6 L1427 300.4 L1426.1 300.3 L1425.2 299.9 L1424.3 300.3 L1423.4 300.4 L1422.5 299.6 L1421.6 299.4 L1420.7 300.1 L1419.8 299.5 L1418.9 300 L1418 300.6 L1417.1 299.3 L1416.2 300.5 L1415.3 300.1 L1414.4 300.2 L1413.5 300.3 L1412.6 299.8 L1411.7 299.5 L1410.8 300.2 L1409.9 300.2 L1409 298.9 L1408.1 299.1 L1407.2 299.4 L1406.3 299.8 L1405.4 300.5 L1404.5 300.2 L1403.6 299.3 L1402.7 299.5 L1401.8 300.7 L1400.9 299.2 L1400 300.6 L1399.1 299.4 L1398.2 299.4 L1397.3 300.5 L1396.4 299.8 L1395.5 299.1 L1394.6 299.6 L1393.7 300.2 L1392.8 299.7 L1391.9 299.7 L1391 300.2 L1390.1 299.5 L1389.2 299.7 L1388.3 299.4 L1387.4 300 L1386.5 300.4 L1385.6 299.2 L1384.7 300.7 L1383.8 299.6 L1382.9 300.8 L1382 300.6 L1381.1 299.5 L1380.2 299.7 L1379.3 300.5 L1378.4 299.4 L1377.5 299.9 L1376.6 300.4 L1375.7 299.3 L1374.8 300.5 L1373.9 299.1 L1373 299.3 L1372.1 300.4 L1371.2 300 L1370.3 299.3 L1369.4 300.4 L1368.5 299.5 L1367.6 300.3 L1366.7 300.8 L1365.8 299.7 L1364.9 300.6 L1364 299.1 L1363.1 300.8 L1362.2 300 L1361.3 300.8 L1360.4 300 L1359.5 299.4 L1358.6 300.5 L1357.7 299.7 L1356.8 300.2 L1355.9 299.5 L1355 299.9 L1354.1 299.2 L1353.2 300.7 L1352.3 299.1 L1351.4 299.1 L1350.5 299.7 L1349.6 300.4 L1348.7 299.8 L1347.8 300.7 L1346.9 299.1 L1346 299.2 L1345.1 300.8 L1344.2 299.4 L1343.3 299.7 L1342.4 299.4 L1341.5 299.5 L1340.6 299.4 L1339.7 299.6 L1338.8 299.1 L1337.9 299.4 L1337 299.5 L1336.1 300.7 L1335.2 300.6 L1334.3 299.7 L1333.4 300.2 L1332.5 300.6 L1331.6 300.4 L1330.7 300.7 L1329.8 300.3 L1328.9 299.9 L1328 300.5 L1327.1 300.2 L1326.2 300.8 L1325.3 300.5 L1324.4 300.9 L1323.5 300.8 L1322.6 299.5 L1321.7 299.7 L1320.8 300 L1319.9 299.9 L1319 299.6 L1318.1 299.8 L1317.2 299.2 L1316.3 299.6 L1315.4 300.3 L1314.5 301 L1313.6 300.4 L1312.7 299.7 L1311.8 299.5 L1310.9 300 L1310 300.1 L1309.1 299.3 L1308.2 300 L1307.3 300.7 L1306.4 299.4 L1305.5 300.1 L1304.6 299.6 L1303.7 299.8 L1302.8 299.8 L1301.9 301 L1301 300.4 L1300.1 300.7 L1299.2 299.9 L1298.3 299.5 L1297.4 299.6 L1296.5 299.8 L1295.6 299.8 L1294.7 299.5 L1293.8 300.6 L1292.9 299.9 L1292 300.8 L1291.1 299.9 L1290.2 299.8 L1289.3 299.8 L1288.4 300.5 L1287.5 300.1 L1286.6 299.7 L1285.7 300.9 L1284.8 300.5 L1283.9 300.1 L1283 299.4 L1282.1 299.8 L1281.2 299.4 L1280.3 299.5 L1279.4 300.3 L1278.5 299.7 L1277.6 300.6 L1276.7 300.5 L1275.8 299.6 L1274.9 301.1 L1274 299.7 L1273.1 300.3 L1272.2 299.5 L1271.3 300.9 L1270.4 300.8 L1269.5 300.8 L1268.6 299.8 L1267.7 300.2 L1266.8 299.4 L1265.9 300.2 L1265 300.9 L1264.1 300.2 L1263.2 300.6 L1262.3 299.6 L1261.4 299.6 L1260.5 301.2 L1259.6 300.7 L1258.7 300.9 L1257.8 300 L1256.9 300 L1256 300.9 L1255.1 300.1 L1254.2 300.5 L1253.3 299.7 L1252.4 301 L1251.5 299.7 L1250.6 300.3 L1249.7 301 L1248.8 301.2 L1247.9 301.1 L1247 300.2 L1246.1 299.8 L1245.2 300.9 L1244.3 301 L1243.4 300.1 L1242.5 300.5 L1241.6 301.2 L1240.7 301 L1239.8 300.3 L1238.9 300.1 L1238 300.9 L1237.1 299.5 L1236.2 300.3 L1235.3 299.6 L1234.4 300.7 L1233.5 300.9 L1232.6 300.8 L1231.7 300.5 L1230.8 300.8 L1229.9 299.5 L1229 299.8 L1228.1 299.5 L1227.2 301 L1226.3 299.9 L1225.4 301.2 L1224.5 300 L1223.6 299.5 L1222.7 300.7 L1221.8 299.7 L1220.9 299.7 L1220 300.2 L1219.1 300.8 L1218.2 299.7 L1217.3 299.8 L1216.4 300.8 L1215.5 301.1 L1214.6 300.5 L1213.7 299.6 L1212.8 301.2 L1211.9 299.8 L1211 300.7 L1210.1 300.1 L1209.2 299.8 L1208.3 300.5 L1207.4 300.8 L1206.5 300.4 L1205.6 300.8 L1204.7 300.4 L1203.8 301.2 L1202.9 299.7 L1202 299.6 L1201.1 300.4 L1200.2 300.2 L1199.3 301.2 L1198.4 300.3 L1197.5 301.2 L1196.6 300.2 L1195.7 301 L1194.8 301.2 L1193.9 301.1 L1193 300.5 L1192.1 301.3 L1191.2 301.1 L1190.3 300.8 L1189.4 300.2 L1188.5 301.1 L1187.6 299.7 L1186.7 299.8 L1185.8 301.3 L1184.9 301.1 L1184 299.8 L1183.1 301.1 L1182.2 299.9 L1181.3 301.1 L1180.4 301.4 L1179.5 301.2 L1178.6 300.8 L1177.7 301 L1176.8 300 L1175.9 301.1 L1175 300.1 L1174.1 300.7 L1173.2 300.4 L1172.3 301.2 L1171.4 300 L1170.5 301.3 L1169.6 300 L1168.7 301.2 L1167.8 300.3 L1166.9 300.6 L1166 300.4 L1165.1 301.5 L1164.2 300 L1163.3 300.5 L1162.4 300.3 L1161.5 300.5 L1160.6 299.7 L1159.7 299.7 L1158.8 300.9 L1157.9 300 L1157 301.1 L1156.1 300.5 L1155.2 300.9 L1154.3 299.9 L1153.4 301.3 L1152.5 301.1 L1151.6 300.2 L1150.7 301.1 L1149.8 301 L1148.9 299.8 L1148 301.5 L1147.1 300.7 L1146.2 300.3 L1145.3 299.8 L1144.4 299.9 L1143.5 301.4 L1142.6 301.5 L1141.7 300.9 L1140.8 301.3 L1139.9 301.5 L1139 300.3 L1138.1 300 L1137.2 300.3 L1136.3 300.2 L1135.4 300.1 L1134.5 300.2 L1133.6 300.3 L1132.7 300.6 L1131.8 300.2 L1130.9 300.2 L1130 301.1 L1129.1 301.5 L1128.2 301.6 L1127.3 300.5 L1126.4 300.7 L1125.5 300.2Z" stroke="none" stroke-width="0" fill="#000" />
<path d="M1125.5 297.8 L1126.4 298 L1127.3 297.2 L1128.2 297.2 L1129.1 298.1 L1130 296.3 L1130.9 300.2 L1131.8 297.5 L1132.7 296.6 L1133.6 298.1 L1134.5 295.8 L1135.4 297.4 L1136.3 299.5 L1137.2 298.4 L1138.1 297.3 L1139 299.2 L1139.9 290.2 L1140.8 297.4 L1141.7 294.9 L1142.6 295.4 L1143.5 296.3 L1144.4 299.4 L1145.3 296.7 L1146.2 301.4 L1147.1 300.9 L1148 295.3 L1148.9 294.1 L1149.8 299 L1150.7 296 L1151.6 300.9 L1152.5 298.4 L1153.4 296.7 L1154.3 303.1 L1155.2 300.6 L1156.1 293.6 L1157 295.4 L1157.9 299.4 L1158.8 293.8 L1159.7 298.4 L1160.6 298.1 L1161.5 294 L1162.4 300.3 L1163.3 296.9 L1164.2 295.5 L1165.1 299.6 L1166 300.1 L1166.9 297.4 L1167.8 296.7 L1168.7 296.5 L1169.6 298 L1170.5 296.7 L1171.4 297.2 L1172.3 296 L1173.2 297.9 L1174.1 302.5 L1175 299 L1175.9 299.9 L1176.8 301.1 L1177.7 296.7 L1178.6 295 L1179.5 295.5 L1180.4 298.5 L1181.3 296.6 L1182.2 299.8 L1183.1 299 L1184 299.2 L1184.9 295.6 L1185.8 297.1 L1186.7 298.7 L1187.6 296.5 L1188.5 294.5 L1189.4 294.5 L1190.3 296.8 L1191.2 294.1 L1192.1 294.7 L1193 297.6 L1193.9 296.9 L1194.8 296.2 L1195.7 293.1 L1196.6 295.3 L1197.5 294.5 L1198.4 297.7 L1199.3 295.5 L1200.2 293.4 L1201.1 295.6 L1202 299.6 L1202.9 298.1 L1203.8 294.1 L1204.7 298.8 L1205.6 304 L1206.5 295.2 L1207.4 299.6 L1208.3 300.1 L1209.2 298 L1210.1 292.4 L1211 295.3 L1211.9 297 L1212.8 297.4 L1213.7 295.8 L1214.6 298.9 L1215.5 296.1 L1216.4 295.2 L1217.3 297.4 L1218.2 292.6 L1219.1 303.2 L1220 298.2 L1220.9 298.4 L1221.8 297.5 L1222.7 300.3 L1223.6 298.8 L1224.5 298.5 L1225.4 296.3 L1226.3 291.7 L1227.2 294.5 L1228.1 297.1 L1229 295.2 L1229.9 292.1 L1230.8 298 L1231.7 298.6 L1232.6 295 L1233.5 296.1 L1234.4 296.4 L1235.3 293.7 L1236.2 299.2 L1237.1 298.2 L1238 297.2 L1238.9 296.4 L1239.8 296.6 L1240.7 298.4 L1241.6 300.1 L1242.5 297.8 L1243.4 299.2 L1244.3 299.3 L1245.2 295.7 L1246.1 296.5 L1247 296 L1247.9 294.1 L1248.8 296.3 L1249.7 294.3 L1250.6 297 L1251.5 299.5 L1252.4 298 L1253.3 294.8 L1254.2 299.5 L1255.1 296.6 L1256 301.6 L1256.9 292.7 L1257.8 297.7 L1258.7 295 L1259.6 296.5 L1260.5 295.1 L1261.4 297.4 L1262.3 294.7 L1263.2 296.3 L1264.1 295.9 L1265 304.5 L1265.9 299.3 L1266.8 296.2 L1267.7 293 L1268.6 295.1 L1269.5 295.2 L1270.4 295 L1271.3 292.7 L1272.2 296.6 L1273.1 298.8 L1274 297.6 L1274.9 299.1 L1275.8 298.1 L1276.7 299 L1277.6 297.1 L1278.5 298 L1279.4 298.2 L1280.3 298.3 L1281.2 296.4 L1282.1 293.9 L1283 299.5 L1283.9 297.1 L1284.8 298.2 L1285.7 294 L1286.6 298.1 L1287.5 297.1 L1288.4 298.3 L1289.3 298.2 L1290.2 297.3 L1291.1 294.4 L1292 298.5 L1292.9 295.9 L1293.8 299.2 L1294.7 297 L1295.6 294.9 L1296.5 295.9 L1297.4 293 L1298.3 299.8 L1299.2 295 L1300.1 294.6 L1301 294.2 L1301.9 293.2 L1302.8 299.8 L1303.7 297.4 L1304.6 298.5 L1305.5 298.4 L1306.4 298.4 L1307.3 299.2 L1308.2 294.8 L1309.1 301.1 L1310 297 L1310.9 297.9 L1311.8 297.1 L1312.7 296.1 L1313.6 296.6 L1314.5 297.4 L1315.4 293.3 L1316.3 299.6 L1317.2 295.8 L1318.1 295.1 L1319 297.2 L1319.9 295.3 L1320.8 299.4 L1321.7 297.2 L1322.6 295.3 L1323.5 293.4 L1324.4 296 L1325.3 296.9 L1326.2 300 L1327.1 296.1 L1328 298.5 L1328.9 298 L1329.8 301.7 L1330.7 298.3 L1331.6 297 L1332.5 294.5 L1333.4 294.8 L1334.3 296.9 L1335.2 299.1 L1336.1 293.8 L1337 297 L1337.9 295.2 L1338.8 296.9 L1339.7 295.8 L1340.6 294.6 L1341.5 297.2 L1342.4 294.6 L1343.3 297.6 L1344.2 295.2 L1345.1 292.9 L1346 291.8 L1346.9 295.2 L1347.8 300.2 L1348.7 296.3 L1349.6 296.4 L1350.5 294.6 L1351.4 295.3 L1352.3 300 L1353.2 298.1 L1354.1 294.7 L1355 291.5 L1355.9 297.8 L1356.8 298 L1357.7 294.6 L1358.6 295.5 L1359.5 297.9 L1360.4 297.9 L1361.3 294.1 L1362.2 297.5 L1363.1 294.3 L1364 297.2 L1364.9 293.1 L1365.8 296.4 L1366.7 296.4 L1367.6 298.9 L1368.5 298.5 L1369.4 293.2 L1370.3 297.5 L1371.2 291.5 L1372.1 292.2 L1373 296.7 L1373.9 296.9 L1374.8 294.4 L1375.7 296.6 L1376.6 293.8 L1377.5 295.2 L1378.4 295.8 L1379.3 296.2 L1380.2 294.4 L1381.1 293.9 L1382 297.5 L1382.9 296.8 L1383.8 290.3 L1384.7 298.5 L1385.6 293.9 L1386.5 295.6 L1387.4 299 L1388.3 294.9 L1389.2 294.9 L1390.1 297.9 L1391 295.3 L1391.9 290.5 L1392.8 295.4 L1393.7 296.9 L1394.6 298.6 L1395.5 300.8 L1396.4 293.8 L1397.3 293.1 L1398.2 297.5 L1399.1 295.5 L1400 295.9 L1400.9 300.2 L1401.8 294 L1402.7 297.6 L1403.6 295.5 L1404.5 292.4 L1405.4 295.1 L1406.3 299 L1407.2 292.9 L1408.1 299.4 L1409 297.4 L1409.9 295.6 L1410.8 297.3 L1411.7 295.4 L1412.6 296.2 L1413.5 295.5 L1414.4 298.5 L1415.3 294.7 L1416.2 297.4 L1417.1 293.6 L1418 296.5 L1418.9 297.2 L1419.8 297.5 L1420.7 296 L1421.6 296.6 L1422.5 291.5 L1423.4 295.5 L1424.3 296.3 L1425.2 300.8 L1426.1 294.6 L1427 298 L1427.9 296.7 L1428.8 293.9 L1429.7 291.3 L1430.6 296.3 L1431.5 298.4 L1432.4 297.2 L1433.3 295.4 L1434.2 298.6 L1435.1 293 L1436 295.1 L1436.9 294.8 L1437.8 301 L1438.7 299.8 L1439.6 295.1 L1440.5 293.1 L1441.4 293.7 L1442.3 299.1 L1443.2 297.2 L1444.1 294.3 L1445 296.8 L1445.9 295.3 L1446.8 294.2 L1447.7 297 L1448.6 295.5 L1449.5 295.9 L1450.4 298.6 L1451.3 296.9 L1452.2 297 L1453.1 295.4 L1454 294.6 L1454.9 298.4 L1455.8 298.7 L1456.7 298 L1457.6 293.8 L1458.5 294.8 L1459.4 294.9 L1460.3 299.4 L1461.2 294.1 L1462.1 297.1 L1463 293.5 L1463.9 296.4 L1464.8 298.6 L1465.7 293.8 L1466.6 298.1 L1467.5 297 L1468.4 297.2 L1469.3 295 L1470.2 295.7 L1471.1 297.5 L1472 298.4 L1472.9 292.2 L1473.8 297.4 L1474.7 298.9 L1475.6 295.8 L1476.5 294.6 L1477.4 294.3 L1478.3 294.4 L1479.2 294.7 L1480.1 297.9 L1481 294.2 L1481.9 296.2 L1482.8 298.3 L1483.7 296.4 L1484.6 295.6 L1485.5 299.7 L1486.4 295.9 L1487.3 294.3 L1488.2 296 L1489.1 296 L1490 298.1 L1490.9 295.6 L1491.8 293 L1492.7 293.9 L1493.6 296 L1494.5 294.9 L1495.4 296.6 L1496.3 293.6 L1497.2 298.4 L1498.1 301.3 L1499 296.6 L1499.9 298.4 L1500.8 296.3 L1501.7 295.3 L1502.6 298.6 L1503.5 295.8 L1504.4 299 L1505.3 300.5 L1506.2 297.2 L1507.1 299.9 L1508 293.8 L1508.9 295.6 L1509.8 294.8 L1510.7 293.9 L1511.6 293.9 L1512.5 296.6 L1513.4 293.6 L1514.3 296.3 L1515.2 294.1 L1516.1 297.2 L1517 296.1 L1517.9 297.8 L1518.8 295.8 L1519.7 296.7 L1520.6 296.9 L1521.5 299.7 L1522.4 294.7 L1523.3 295.2 L1524.2 296.1 L1525.1 295.9 L1526 295.7 L1526.9 295.8 L1527.8 293.5 L1528.7 295.6 L1529.6 296.1 L1530.5 293.4 L1531.4 292 L1532.3 291.5 L1533.2 297.2 L1534.1 296.6 L1535 297.6 L1535.9 294.5 L1536.8 296.4 L1537.7 298.4 L1538.6 295.6 L1539.5 298.9 L1540.4 295.8 L1541.3 297 L1542.2 297.4 L1543.1 296.6 L1544 293.9 L1544.9 295.3 L1545.8 300.1 L1546.7 295.3 L1547.6 301.1 L1548.5 296.5 L1549.4 295.9 L1550.3 298.7 L1551.2 295.6 L1552.1 292 L1553 294.4 L1553.9 294.4 L1554.8 299.9 L1555.7 294.8 L1556.6 300 L1557.5 290.9 L1558.4 295.7 L1559.3 299.5 L1560.2 294.7 L1561.1 297.1 L1562 297.5 L1562.9 297.6 L1563.8 294.4 L1564.7 296.2 L1565.6 298 L1566.5 296.2 L1567.4 296.2 L1568.3 295.3 L1569.2 295.4 L1570.1 294 L1571 296.6 L1571.9 296.2 L1572.8 293.6 L1573.7 292.6 L1574.6 296.7 L1575.5 296.8 L1576.4 297.7 L1577.3 296.3 L1578.2 297.6 L1579.1 297.4 L1580 290.6 L1580.9 299.3 L1581.8 294.3 L1582.7 297.7 L1583.6 296.1 L1584.5 294.1 L1585.4 297.1 L1586.3 292.2 L1587.2 296.2 L1588.1 298.4 L1589 295.6 L1589.9 298.9 L1590.8 296.7 L1591.7 298.4 L1592.6 294.1 L1593.5 296.4 L1594.4 289.3 L1595.3 297 L1596.2 294.5 L1597.1 293.5 L1598 293.8 L1598.9 293.1 L1599.8 295.1 L1600.7 297.3 L1601.6 295.6 L1602.5 299.9 L1603.4 296.2 L1604.3 295.5 L1605.2 294.6 L1606.1 292.5 L1607 291.8 L1607.9 293.1 L1608.8 293 L1609.7 293.2 L1610.6 295.5 L1611.5 294.8 L1612.4 296.1 L1613.3 294.8 L1614.2 296.7 L1615.1 293.4 L1616 296.2 L1616.9 292.8 L1617.8 301.7 L1618.7 295.6 L1619.6 297.4 L1620.5 296.2 L1621.4 293.4 L1622.3 297.9 L1623.2 296.1 L1624.1 293.1 L1625 298.5 L1625.9 294.3 L1626.8 296.9 L1627.7 292.1 L1628.6 295 L1629.5 295.8 L1630.4 295.8 L1631.3 295.4 L1632.2 293.6 L1633.1 298.9 L1634 293.7 L1634.9 294.4 L1635.8 295.1 L1636.7 295.2 L1637.6 295.7 L1638.5 292.8 L1639.4 293.9 L1640.3 295 L1641.2 293.2 L1642.1 299 L1643 292.8 L1643.9 294.3 L1644.8 292.9 L1645.7 297.7 L1646.6 294.2 L1647.5 300 L1648.4 295.5 L1649.3 297.2 L1650.2 296.5 L1651.1 292.5 L1652 298.6 L1652.9 293.2 L1653.8 293.8 L1654.7 300 L1655.6 295.1 L1656.5 294 L1657.4 293.6 L1658.3 296.1 L1659.2 300 L1660.1 294.1 L1661 290.8 L1661.9 290.9 L1662.8 298.5 L1663.7 297.1 L1664.6 296.3 L1665.5 299.1 L1666.4 294.2 L1667.3 296.4 L1668.2 297.4 L1669.1 296.1 L1670 298.6 L1670.9 294.5 L1671.8 292.8 L1672.7 294.9 L1673.6 296.1 L1674.5 293.1 L1675.4 300 L1676.3 295.4 L1677.2 292.7 L1678.1 293.7 L1679 294.5 L1679.9 297.1 L1680.8 295.8 L1681.7 295.5 L1682.6 296 L1683.5 294.5 L1684.4 297.2 L1685.3 293.8 L1686.2 296.9 L1687.1 296.2 L1688 293.1 L1688.9 298 L1689.8 294 L1690.7 294.7 L1691.6 297.9 L1692.5 295.2 L1693.4 294.6 L1694.3 294.3 L1695.2 290.3 L1696.1 295.3 L1697 292.5 L1697.9 296 L1698.8 295.5 L1699.7 293.8 L1700.6 295 L1701.5 296.7 L1702.4 297.8 L1703.3 299.1 L1704.2 296.8 L1705.1 297.6 L1706 297.1 L1706.9 301.8 L1707.8 299.8 L1708.7 296.2 L1709.6 298.7 L1710.5 297.7 L1711.4 296.2 L1712.3 295.6 L1713.2 296.2 L1714.1 298.3 L1715 293.8 L1715.9 298.3 L1716.8 296.5 L1717.7 297.6 L1718.6 297.6 L1719.5 296.2 L1720.4 294.5 L1721.3 297.3 L1722.2 293.8 L1723.1 291.7 L1724 291.8 L1724.9 297.7 L1725.8 299.2 L1726.7 298.3 L1727.6 294.8 L1728.5 296.6 L1729.4 299.9 L1730.3 295.6 L1731.2 296.3 L1732.1 297.2 L1733 295.5 L1733.9 296.1 L1734.8 294.8 L1735.7 293.6 L1736.6 297 L1737.5 295.8 L1738.4 299.1 L1739.3 298.2 L1740.2 296.1 L1741.1 292.3 L1742 292.9 L1742.9 299 L1743.8 299.9 L1744.7 299 L1745.6 294.8 L1746.5 298 L1747.4 296.8 L1748.3 296.7 L1749.2 299 L1750.1 297.8 L1751 301.3 L1751.9 297.3 L1752.8 296.2 L1753.7 297.4 L1754.6 294.3 L1755.5 294.1 L1756.4 296.2 L1757.3 294.8 L1758.2 298.5 L1759.1 294.8 L1760 295.5 L1760.9 296.8 L1761.8 298.6 L1762.7 297.7 L1763.6 299.4 L1764.5 293.1 L1765.4 295.4 L1766.3 294.6 L1767.2 294.2 L1768.1 296.9 L1769 298.9 L1769.9 299.7 L1770.8 299 L1771.7 299.5 L1772.6 295 L1773.5 294.8 L1774.4 296.6 L1775.3 293 L1776.2 295.7 L1777.1 293.8 L1778 296.8 L1778.9 298.1 L1779.8 297.5 L1780.7 292.5 L1781.6 295.3 L1782.5 296.3 L1783.4 299.4 L1784.3 296.3 L1785.2 297.8 L1786.1 296 L1787 300.1 L1787.9 295.2 L1788.8 298.6 L1789.7 293.9 L1790.6 296.4 L1791.5 294.4 L1792.4 294.6 L1793.3 299.3 L1794.2 294.9 L1795.1 292.5 L1796 295 L1796.9 294.4 L1797.8 297.9 L1798.7 299.7 L1799.6 298.5 L1800.5 292.7 L1801.4 294.5 L1802.3 298.6 L1803.2 297.8 L1804.1 297.4 L1805 293.4 L1805.9 296.5 L1806.8 295.9 L1807.7 299.8 L1808.6 296.1 L1809.5 299.7 L1810.4 294 L1811.3 296.2 L1812.2 295.3 L1813.1 297 L1814 296.7 L1814.9 297.7 L1815.8 292.6 L1816.7 295.3 L1817.6 295.8 L1818.5 297.7 L1819.4 294.6 L1820.3 300.6 L1821.2 301.2 L1822.1 298.4 L1823 296.5 L1823.9 297.1 L1824.8 297.8 L1825.7 298.2 L1826.6 300.3 L1827.5 294.4 L1828.4 298.5 L1829.3 301.8 L1830.2 297.1 L1831.1 297.6 L1832 300.2 L1832.9 300.8 L1833.8 300.1 L1834.7 296.5 L1835.6 300.5 L1836.5 295.8 L1837.4 300.3 L1838.3 298.9 L1839.2 296.5 L1840.1 295.5 L1841 299 L1841.9 299.9 L1842.8 301.9 L1843.7 300.4 L1844.6 300.2 L1845.5 296.7 L1846.4 300 L1847.3 295.7 L1848.2 302.1 L1849.1 298.7 L1850 303.2 L1850.9 299.1 L1851.8 297.9 L1852.7 298.7 L1853.6 302.9 L1854.5 296.8 L1855.4 298.3 L1856.3 300.5 L1857.2 298.7 L1858.1 302.6 L1859 305.9 L1859.9 298.8 L1860.8 302.8 L1861.7 299.8 L1862.6 301.2 L1863.5 301.6 L1864.4 296.8 L1865.3 300 L1866.2 301.3 L1867.1 300.6 L1868 298.7 L1868.9 300.7 L1869.8 299 L1870.7 301.9 L1871.6 300.7 L1872.5 300 L1873.4 302.2 L1874.3 298.2 L1875.2 298.3 L1876.1 303 L1877 303.1 L1877.9 303.2 L1878.8 300.3 L1879.7 300.7 L1880.6 298 L1881.5 300.2 L1882.4 306 L1883.3 302.4 L1884.2 299.3 L1885.1 302 L1886 302.8 L1886.9 303.7 L1887.8 299.7 L1888.7 299.7 L1889.6 301.8 L1890.5 303.5 L1891.4 302.3 L1892.3 306.5 L1893.2 304.1 L1894.1 304.5 L1895 301.6 L1895.9 300.4 L1896.8 300.5 L1897.7 308.7 L1898.6 301.7 L1899.5 306.2 L1900.4 306.6 L1901.3 301.3 L1902.2 301.5 L1903.1 303.1 L1904 302.4 L1904.9 304.7 L1905.8 298.9 L1906.7 304.6 L1907.6 304 L1908.5 308.4 L1909.4 302.7 L1910.3 299.2 L1911.2 299.6 L1912.1 305.3 L1913 304.5 L1913.9 303.9 L1914.8 302.9 L1915.7 302.9 L1916.6 304.7 L1917.5 298.1 L1918.4 300.2 L1919.3 299.6 L1920.2 303.9 L1921.1 305.9 L1922 304.7 L1922.9 309.4 L1923.8 302.7 L1924.7 304 L1925.6 305.3 L1926.5 303.5 L1927.4 309.2 L1928.3 305.4 L1929.2 305.3 L1930.1 303.3 L1931 306.5 L1931.9 304.8 L1932.8 301.7 L1933.7 305.1 L1934.6 302 L1935.5 305.4 L1936.4 302.7 L1937.3 302.8 L1938.2 303.3 L1939.1 303.4 L1940 305.4 L1940.9 306 L1941.8 303.2 L1942.7 307.8 L1943.6 303.7 L1944.5 308.5 L1945.4 307.8 L1946.3 306.6 L1947.2 302.6 L1948.1 304.6 L1949 309.3 L1949.9 304 L1950.8 309.8 L1951.7 305.8 L1952.6 304.6 L1953.5 301.9 L1954.4 310.6 L1955.3 305.9 L1956.2 303.9 L1957.1 301.3 L1958 307.8 L1958.9 306.8" stroke="#000" stroke-width="1.2" fill="none" stroke-linejoin="round"/>
</g>
<rect x="1180.00" y="330.00" width="26.50" height="4.40" fill="#000" />
<text x="1177.93" y="359.50" font-size="25.2" >(1)</text>
<rect x="1610.80" y="331.00" width="27.00" height="4.40" fill="#000" />
<text x="1605.13" y="357.40" font-size="25.2" >(2)</text>
<rect x="1894.60" y="329.60" width="26.50" height="4.40" fill="#000" />
<text x="1893.43" y="356.80" font-size="25.2" >(3)</text>
<rect x="1883.00" y="366.30" width="77.50" height="4.80" fill="#000" />
<text x="1888.28" y="396.00" font-size="25.2" >2 min</text>
<g filter="url(#blurB)">
<path d="M1124.6 503.5 L1125.5 505.9 L1126.4 508 L1127.3 505.7 L1128.2 503.1 L1129.1 504.9 L1130 506.6 L1130.9 508.5 L1131.8 504.4 L1132.7 502.8 L1133.6 506.4 L1134.5 507.1 L1135.4 509.6 L1136.3 509.3 L1137.2 507 L1138.1 505.8 L1139 511.3 L1139.9 507.3 L1140.8 504.8 L1141.7 503.3 L1142.6 505.3 L1143.5 506.1 L1144.4 505.4 L1145.3 505.7 L1146.2 506.5 L1147.1 507.7 L1148 508.9 L1148.9 507.5 L1149.8 502.9 L1150.7 506.4 L1151.6 503.2 L1152.5 504.7 L1153.4 502.5 L1154.3 504.9 L1155.2 504 L1156.1 505.8 L1157 512.9 L1157.9 508.4 L1158.8 508.6 L1159.8 504.2 L1160.7 504.9 L1161.6 507 L1162.5 506.2 L1163.4 506.9 L1164.3 506.6 L1165.2 504.2 L1166.1 506.6 L1167 504.6 L1167.9 509.5 L1168.8 506.3 L1169.7 507.6 L1170.6 506.7 L1171.5 508.3 L1172.4 505.6 L1173.3 508 L1174.2 506.6 L1175.1 508.9 L1176 508.4 L1176.9 507.2 L1177.8 504.9 L1178.7 507.3 L1179.6 507.5 L1180.5 510.1 L1181.4 506.7 L1182.3 507.5 L1183.2 507.7 L1184.1 507.3 L1185 507 L1185.9 506.8 L1186.8 505.2 L1187.7 503.7 L1188.6 504.5 L1189.5 506.8 L1190.4 509.6 L1191.3 509.4 L1192.2 509.5 L1193.1 509 L1194 508.6 L1194.9 507.4 L1195.8 508.2 L1196.7 510.6 L1197.6 507.1 L1198.5 505.1 L1199.4 509.9 L1200.3 508 L1201.2 508.9 L1202.1 509 L1203 504.8 L1203.9 510.8 L1204.8 511.5 L1205.7 508.5 L1206.6 508.6 L1207.5 507.3 L1208.4 504.8 L1209.3 505.5 L1210.2 506.8 L1211.1 508.8 L1212 508.6 L1212.9 507.2 L1213.8 509.4 L1214.7 505.8 L1215.6 507.7 L1216.5 509.1 L1217.4 506.7 L1218.3 502.7 L1219.2 503.1 L1220.1 505.7 L1221 507.2 L1221.9 509.8 L1222.8 505.4 L1223.7 506 L1224.6 507.5 L1225.5 506.4 L1226.4 501.4 L1227.3 506.3 L1228.3 511.1 L1229.2 510.1 L1230.1 505.7 L1231 505.2 L1231.9 506.4 L1232.8 511.5 L1233.7 509.4 L1234.6 507.6 L1235.5 510 L1236.4 507.5 L1237.3 510.6 L1238.2 506.4 L1239.1 505.4 L1240 507.5 L1240.9 509.7 L1241.8 508.9 L1242.7 507.9 L1243.6 503.1 L1244.5 503.7 L1245.4 504.2 L1246.3 504.5 L1247.2 506.9 L1248.1 505.9 L1249 507.8 L1249.9 507 L1250.8 505.9 L1251.7 506.5 L1252.6 507.3 L1253.5 508.5 L1254.4 506.1 L1255.3 505.8 L1256.2 503.3 L1257.1 508.7 L1258 510.2 L1258.9 507.4 L1259.8 505.7 L1260.7 503.6 L1261.6 505.8 L1262.5 506.6 L1263.4 511 L1264.3 508.5 L1265.2 505.5 L1266.1 501 L1267 507.5 L1267.9 507.2 L1268.8 503.3 L1269.7 505.7 L1270.6 502.8 L1271.5 512.4 L1272.4 510.9 L1273.3 509.2 L1274.2 507 L1275.1 502.2 L1276 504.7 L1276.9 502.6 L1277.8 506.3 L1278.7 502 L1279.6 503 L1280.5 507.8 L1281.4 510.3 L1282.3 505.4 L1283.2 502.9 L1284.1 507 L1285 508.4 L1285.9 505.1 L1286.8 504.6 L1287.7 504.4 L1288.6 503.3 L1289.5 503.9 L1290.4 508.2 L1291.3 508.5 L1292.2 511.5 L1293.1 508.1 L1294 506.8 L1294.9 504.5 L1295.8 505.6 L1296.8 503.4 L1297.7 501.7 L1298.6 506.3 L1299.5 509.4 L1300.4 509.3 L1301.3 510.3 L1302.2 508.3 L1303.1 505.7 L1304 506.4 L1304.9 505.7 L1305.8 503.9 L1306.7 502.1 L1307.6 501.9 L1308.5 504.9 L1309.4 506.3 L1310.3 505.5 L1311.2 509.1 L1312.1 507.8 L1313 508.2 L1313.9 509.7 L1314.8 505.9 L1315.7 502.2 L1316.6 506.6 L1317.5 505.1 L1318.4 508.8 L1319.3 508 L1320.2 509.2 L1321.1 509.1 L1322 503.1 L1322.9 506.9 L1323.8 505.3 L1324.7 504.6 L1325.6 505 L1326.5 507.6 L1327.4 508.8 L1328.3 509.5 L1329.2 504.1 L1330.1 504.5 L1331 500.9" stroke="#1a1a1a" stroke-width="1.7" fill="none" stroke-linejoin="round"/>
<path d="M1141 388.9V524.4" stroke="#8c8c8c" stroke-width="2.6" fill="none" />
<path d="M1141.4 428.3V524.4M1225.4 486.6V526.4" stroke="#000" stroke-width="2.0" fill="none" />
<path d="M1164.4 389.5V524.7M1219.7 390.1V525.3M1254 390.4V525.6M1326.4 390.8V524.6" stroke="#8c8c8c" stroke-width="2.0" fill="none" />
<path d="M1164.8 493.4V524.7M1254.4 437.2V525.6" stroke="#000" stroke-width="2.2" fill="none" />
<path d="M1190.4 388.7V525.1" stroke="#111" stroke-width="1.3" fill="none" />
<path d="M1220.1 413.1V525.3M1257.2 491.1V526.2" stroke="#000" stroke-width="1.8" fill="none" />
<path d="M1225 389V526.4" stroke="#8c8c8c" stroke-width="1.4" fill="none" />
<path d="M1237.9 391.4V525.2M1240.2 388.2V524" stroke="#b8b8b8" stroke-width="1.6" fill="none" />
<path d="M1244.6 391V524" stroke="#8c8c8c" stroke-width="1.6" fill="none" />
<path d="M1245 426.6V524" stroke="#000" stroke-width="1.6" fill="none" />
<path d="M1256.8 389V526.2M1276.3 388V524.3" stroke="#8c8c8c" stroke-width="1.5" fill="none" />
<path d="M1296.3 389.5V523.9" stroke="#333" stroke-width="2.2" fill="none" />
<path d="M1425.6 509.9 L1426.5 510.2 L1427.4 508 L1428.3 507.2 L1429.2 506.4 L1430.1 506 L1431 510.3 L1431.9 504.4 L1432.8 507.1 L1433.7 507.3 L1434.6 507.3 L1435.5 509 L1436.4 511.9 L1437.3 510.5 L1438.2 509.5 L1439.1 508.1 L1440 508.7 L1440.9 511.3 L1441.8 509.2 L1442.7 506.8 L1443.6 505.7 L1444.5 505.6 L1445.4 505 L1446.3 510.4 L1447.2 510.6 L1448.1 509.4 L1449 512.8 L1449.9 509.1 L1450.8 511.1 L1451.7 511.9 L1452.6 506.8 L1453.5 505 L1454.4 505.8 L1455.3 510.3 L1456.2 512.7 L1457.1 507.8 L1458 511.3 L1458.9 509.3 L1459.8 508.5 L1460.7 507.9 L1461.6 508.2 L1462.5 504.9 L1463.4 505.6 L1464.3 505.3 L1465.2 509.2 L1466.1 514.2 L1467 517.4 L1467.9 511.5 L1468.8 506.3 L1469.7 507.4 L1470.6 506.6 L1471.5 513 L1472.4 512 L1473.3 508.7 L1474.2 511.4 L1475.1 511.4 L1476 506.4 L1476.9 507.2 L1477.8 508.2 L1478.7 509.1 L1479.6 509.7 L1480.5 508.8 L1481.4 509.7 L1482.3 508.2 L1483.2 507 L1484.1 512.1 L1485 511.2 L1485.9 511.1 L1486.8 506.4 L1487.7 508 L1488.6 510.9 L1489.5 507 L1490.4 511.1 L1491.3 509.2 L1492.2 510.3 L1493.1 509.5 L1494 510 L1494.9 512.4 L1495.8 509.6 L1496.7 513.1 L1497.6 509 L1498.5 507.2 L1499.4 510.3 L1500.3 507.3 L1501.2 507.9 L1502.1 511 L1503 512.8 L1503.9 506.6 L1504.8 509.6 L1505.7 513.9 L1506.6 513.8 L1507.5 510.4 L1508.4 508.5 L1509.3 508.5 L1510.2 506.5 L1511.1 507.8 L1512 508.5 L1512.9 508.8 L1513.8 512 L1514.7 509.8 L1515.6 506.3 L1516.5 510.8 L1517.4 507.5 L1518.3 507.8 L1519.2 508.6 L1520.1 508.4 L1521 506.8 L1521.9 508 L1522.8 514 L1523.7 509.7 L1524.6 509.2 L1525.5 512 L1526.4 512.1 L1527.3 512.1 L1528.2 512.4 L1529.2 506 L1530.1 506.3 L1531 508.7 L1531.9 510.4 L1532.8 512.8 L1533.7 511.7 L1534.6 509.7 L1535.5 509.7 L1536.4 509.1 L1537.3 509.9 L1538.2 511.2 L1539.1 509.3 L1540 507.6 L1540.9 506.9 L1541.8 511.1 L1542.7 513 L1543.6 513 L1544.5 512.7 L1545.4 512.5 L1546.3 510.6 L1547.2 511.4 L1548.1 507.8 L1549 508.4 L1549.9 507.4 L1550.8 510.4 L1551.7 508.5 L1552.6 508.9 L1553.5 510.2 L1554.4 512.8 L1555.3 508.9 L1556.2 507.1 L1557.1 510.5 L1558 507.3 L1558.9 509.8 L1559.8 508.3 L1560.7 508.8 L1561.6 505.1 L1562.5 509.6 L1563.4 508.4 L1564.3 507.1 L1565.2 513.4 L1566.1 512.5 L1567 518.6 L1567.9 513.6 L1568.8 510.1 L1569.7 510 L1570.6 513.3 L1571.5 510.8 L1572.4 511 L1573.3 511.2 L1574.2 508 L1575.1 509.3 L1576 508.3 L1576.9 506.2 L1577.8 510.3 L1578.7 511.3 L1579.6 510.3 L1580.5 507.7 L1581.4 504.3 L1582.3 508.8 L1583.2 509 L1584.1 505.5 L1585 508 L1585.9 505.5 L1586.8 508 L1587.7 509.3 L1588.6 510.2 L1589.5 510.3 L1590.4 510.2 L1591.3 507.1 L1592.2 507.8 L1593.1 507.7 L1594 508.3 L1594.9 509.7 L1595.8 511 L1596.7 513.8 L1597.6 505.1 L1598.5 508.9 L1599.4 508.8 L1600.3 514.5 L1601.2 513.4 L1602.1 507.1 L1603 509.6 L1603.9 508.3 L1604.8 511.4 L1605.7 507.7 L1606.6 508.7 L1607.5 508.9 L1608.4 509.1 L1609.3 508 L1610.2 504.8 L1611.1 508.9 L1612 511.6 L1612.9 510.1 L1613.8 507.4 L1614.7 509.2 L1615.6 510.7 L1616.5 509.5 L1617.4 509.5 L1618.3 512.7 L1619.2 508.1 L1620.1 507.7 L1621 504.5 L1621.9 506.2 L1622.8 506.6 L1623.7 506.3 L1624.6 506.8 L1625.5 512.7 L1626.4 510.2 L1627.3 509.5 L1628.2 514.5 L1629.1 511.1 L1630 506.1 L1630.9 509.2 L1631.8 507.3 L1632.7 512.5" stroke="#000" stroke-width="2.4" fill="none" stroke-linejoin="round"/>
<path d="M1426.2 403.7V523.8M1494.6 404.7V521.6M1592.9 401.8V523.8" stroke="#8c8c8c" stroke-width="1.4" fill="none" />
<path d="M1436.8 404V522.7M1543.5 401.4V524.3M1614.2 401.5V524.2" stroke="#8c8c8c" stroke-width="1.5" fill="none" />
<path d="M1437.2 425.9V522.7" stroke="#000" stroke-width="1.5" fill="none" />
<path d="M1444.9 403.8V521.7M1464.9 402.1V524.3M1475 403.6V523.2M1546.3 401.8V522.9M1565.7 403.1V523.3" stroke="#8c8c8c" stroke-width="1.8" fill="none" />
<path d="M1445.3 468.6V521.7M1611.8 439.4V524.3" stroke="#000" stroke-width="2.4" fill="none" />
<path d="M1450.9 402.5V522.9M1597.7 402.7V524.2" stroke="#8c8c8c" stroke-width="1.7" fill="none" />
<path d="M1458.7 401.3V522.6" stroke="#111" stroke-width="1.4" fill="none" />
<path d="M1461.3 403.5V523.4M1526.1 403.2V523" stroke="#b8b8b8" stroke-width="1.6" fill="none" />
<path d="M1467.1 403.6V522.5M1556.4 404.6V522.8" stroke="#111" stroke-width="1.3" fill="none" />
<path d="M1467.5 413.6V522.5" stroke="#000" stroke-width="1.3" fill="none" />
<path d="M1480.6 403.2V522.7" stroke="#8c8c8c" stroke-width="3.0" fill="none" />
<path d="M1490.2 404.8V523.4M1500.6 403.4V523.7M1505 402.2V522.7M1519 402.6V521.8M1554.4 403.4V521.7M1574.9 403.6V523.2M1576.6 402.3V523.7M1590.6 402.1V521.6M1611.4 404.7V524.3M1625.4 404.7V522.2" stroke="#8c8c8c" stroke-width="1.6" fill="none" />
<path d="M1490.6 423.7V523.4M1492.8 425.9V523.8M1546.7 466.3V522.9M1591 460.7V521.6" stroke="#000" stroke-width="2.0" fill="none" />
<path d="M1492.4 403.7V523.8" stroke="#555" stroke-width="2.6" fill="none" />
<path d="M1505.4 473.6V522.7" stroke="#000" stroke-width="2.2" fill="none" />
<path d="M1509 401.5V522.1M1552.5 401.9V523" stroke="#8c8c8c" stroke-width="2.6" fill="none" />
<path d="M1509.4 475.3V522.1M1531.2 418.1V523.4M1556.8 432.7V522.8M1575.3 416.4V523.2" stroke="#000" stroke-width="1.6" fill="none" />
<path d="M1522.1 402.2V524.2M1603.5 403.9V521.7" stroke="#555" stroke-width="3.0" fill="none" />
<path d="M1522.5 447.2V524.2M1623.6 440.5V522.9" stroke="#000" stroke-width="2.6" fill="none" />
<path d="M1528.3 404.7V523.2" stroke="#8c8c8c" stroke-width="2.0" fill="none" />
<path d="M1530.8 404.8V523.4" stroke="#555" stroke-width="2.4" fill="none" />
<path d="M1534.5 404.1V521.7M1537.3 403.4V523.8" stroke="#b8b8b8" stroke-width="2.4" fill="none" />
<path d="M1566.1 439.4V523.3" stroke="#000" stroke-width="1.8" fill="none" />
<path d="M1569.3 402.6V522.4" stroke="#555" stroke-width="2.8" fill="none" />
<path d="M1579.4 402.3V521.6" stroke="#b8b8b8" stroke-width="1.4" fill="none" />
<path d="M1623.2 402.8V522.9" stroke="#555" stroke-width="1.8" fill="none" />
<path d="M1628.6 403.1V524.3" stroke="#8c8c8c" stroke-width="2.8" fill="none" />
<path d="M1631.2 403.8V522.9" stroke="#8c8c8c" stroke-width="2.2" fill="none" />
<path d="M1520 504.5 L1520.6 514.1 L1521.2 509.9 L1521.8 507.9 L1522.5 507.5 L1523.1 505.6 L1523.7 505 L1524.3 507.9 L1524.9 509.8 L1525.5 507.4 L1526.2 508.1 L1526.8 503.6 L1527.4 509 L1528 506.3 L1528.6 508.8 L1529.2 505.6 L1529.8 505.9 L1530.5 508.7 L1531.1 504.5 L1531.7 516.4 L1532.3 511.5 L1532.9 509.6 L1533.5 506.5 L1534.2 513.9 L1534.8 515.8 L1535.4 512.5 L1536 505.2" stroke="#000" stroke-width="2.2" fill="none" stroke-linejoin="round"/>
<path d="M1520 506.2 L1520.6 509.7 L1521.2 506.8 L1521.8 503.5 L1522.5 502.3 L1523.1 503.5 L1523.7 506.8 L1524.3 505.6 L1524.9 507.7 L1525.5 518.5 L1526.2 518.7 L1526.8 508.5 L1527.4 510.1 L1528 509.7 L1528.6 508.8 L1529.2 512.9 L1529.8 509.3 L1530.5 508.2 L1531.1 507.6 L1531.7 508.5 L1532.3 513.9 L1532.9 514 L1533.5 506.3 L1534.2 507 L1534.8 506 L1535.4 511.5 L1536 511.4" stroke="#000" stroke-width="2.2" fill="none" stroke-linejoin="round"/>
<path d="M1447 512.2 L1447.6 509.9 L1448.2 502.4 L1448.8 508.3 L1449.4 509.6 L1450 511.1 L1450.6 505 L1451.2 507.9 L1451.8 506.1 L1452.4 505.5 L1453 509.1" stroke="#000" stroke-width="2.2" fill="none" stroke-linejoin="round"/>
<path d="M1447 509.3 L1447.6 505.4 L1448.2 501.2 L1448.8 497.1 L1449.4 502.7 L1450 510.9 L1450.6 509.7 L1451.2 501.4 L1451.8 503.7 L1452.4 509.3 L1453 515.9" stroke="#000" stroke-width="2.2" fill="none" stroke-linejoin="round"/>
<path d="M1489 513.3 L1489.6 511.8 L1490.2 510.7 L1490.9 505.7 L1491.5 506.2 L1492.1 506.8 L1492.8 505.4 L1493.4 508 L1494 507.2" stroke="#000" stroke-width="2.2" fill="none" stroke-linejoin="round"/>
<path d="M1489 509.2 L1489.6 513.9 L1490.2 513.2 L1490.9 511.9 L1491.5 509.2 L1492.1 503.8 L1492.8 507.2 L1493.4 510.9 L1494 506.7" stroke="#000" stroke-width="2.2" fill="none" stroke-linejoin="round"/>
<path d="M1551 513.6 L1551.6 509.4 L1552.3 510.5 L1552.9 508.3 L1553.5 504.2 L1554.2 514.8 L1554.8 506.8 L1555.5 511.6 L1556.1 507.9 L1556.7 509.6 L1557.4 506.3 L1558 506.5" stroke="#000" stroke-width="2.2" fill="none" stroke-linejoin="round"/>
<path d="M1551 511.3 L1551.6 516.4 L1552.3 508.2 L1552.9 508.5 L1553.5 512.2 L1554.2 507.8 L1554.8 511.3 L1555.5 507.2 L1556.1 510.9 L1556.7 511.7 L1557.4 515 L1558 513.1" stroke="#000" stroke-width="2.2" fill="none" stroke-linejoin="round"/>
<path d="M1734 505.3 L1735 506.6 L1736 505.4 L1737 506.8 L1738 508 L1739 507.7 L1740 506.4 L1741 507.6 L1742 507.1 L1743 505.6 L1744 505.8 L1745 507.6 L1746 506.7 L1747 506.8 L1748 506.3 L1749 504.9 L1750 505.4 L1751 506.5 L1752 506.8 L1753 506.6 L1754 504.6 L1755 507 L1756 507.5 L1757 508 L1758 508.5 L1759 507 L1760 506.3 L1761 506.9 L1762 508.4 L1763 505.9 L1764 506.2 L1765 505.9 L1766 507 L1767 508.3 L1768 507.2 L1769 505.8 L1770 506.5 L1771 506.5 L1772 505.3 L1773 507.1 L1774 506.5 L1775 507.5 L1776 505.9 L1777 507.6 L1778 505.9 L1779 507.6 L1780 505.5 L1781 507.8 L1782 507 L1783 505.6 L1784 506.3 L1785 507.1 L1786 506.2 L1787 506.3 L1788 507.1 L1789 507 L1790 504.2 L1791 505.6 L1792 507 L1793 507.4 L1794 508.3 L1795 507 L1796 509.6 L1797 509 L1798 508.3 L1799 508.8 L1800 508.8 L1801 508 L1802 507 L1803 508.2 L1804 508.1 L1805 505.9 L1806 505.7 L1807 507.2 L1808 507.5 L1809 507.7 L1810 508.2 L1811 507.9 L1812 509.2 L1813 507.6 L1814 507.2 L1815 507.7 L1816 508.3 L1817 508.6 L1818 509.4 L1819 507.9 L1820 508.8 L1821 508.6 L1822 507 L1823 507.3 L1824 509.5 L1825 509.2 L1826 507.8 L1827 505.5 L1828 506.1 L1829 506.4 L1830 507.3 L1831 509.8 L1832 509.3 L1833 508.7 L1834 507.3 L1835 506.5 L1836 507.1 L1837 507.1 L1838 510.5 L1839 508.5 L1840 507.6 L1841 508.9 L1842 508.4 L1843 506.9 L1844 508.8 L1845 508 L1846 506.7 L1847 507.8 L1848 508.4 L1849 507.9 L1850 508.6 L1851 509.1 L1852 507.6 L1853 505.9 L1854 504.9 L1855 506.7 L1856 508.7 L1857 509.3 L1858 510 L1859 510.7 L1860 509.2 L1861 509.6 L1862 507.3 L1863 508.5 L1864 508.7 L1865 508.4 L1866 507.9 L1867 507 L1868 507.9 L1869 509.4 L1870 508.4 L1871 508.9 L1872 507.9 L1873 508.4 L1874 507.4 L1875 508.4 L1876 508.2 L1877 508.6 L1878 507.9 L1879 507.1 L1880 507.6 L1881 509.1 L1882 510.3 L1883 508.9 L1884 509.4 L1885 509.6 L1886 509.4 L1887 507.4 L1888 508.4 L1889 507.6 L1890 509.3 L1891 509.7 L1892 509.6 L1893 506.6 L1894 508.4 L1895 509.3 L1896 507.7 L1897 509.2 L1898 509 L1899 508.7 L1900 508 L1901 507.5 L1902 507.8 L1903 511.4 L1904 510 L1905 509.5 L1906 508.5 L1907 508.1 L1908 508 L1909 507.7 L1910 509.2 L1911 508.8 L1912 509.7 L1913 508.1 L1914 509.5 L1915 509.2 L1916 509.7 L1917 509.2 L1918 508.2 L1919 509.9 L1920 508.9 L1921 508.9 L1922 508.1 L1923 508.9 L1924 508.6 L1925 509.2 L1926 509.5 L1927 508.6 L1928 507.6 L1929 508.9 L1930 510 L1931 510.2 L1932 508.5 L1933 509.5 L1934 509.7 L1935 509.7 L1936 509.8 L1937 509.2 L1938 509.4 L1939 510.2 L1940 509.2" stroke="#333" stroke-width="1.6" fill="none" stroke-linejoin="round"/>
</g>
<text x="1214.63" y="556.20" font-size="25.2" >(1)</text>
<text x="1516.38" y="556.20" font-size="25.2" >(2)</text>
<text x="1785.23" y="556.20" font-size="25.2" >(3)</text>
<rect x="1844.00" y="530.60" width="101.00" height="4.50" fill="#000" />
<text x="1856.53" y="557.80" font-size="25.2" >20 sec</text>
</g>
<g id="panelAB2">
<rect x="217.50" y="659.40" width="3.10" height="407.60" fill="#2a2728" />
<rect x="217.50" y="659.40" width="14.00" height="2.80" fill="#2a2728" />
<text x="153.60" y="667.20" font-size="25.6" textLength="57.00" lengthAdjust="spacingAndGlyphs" fill="#111" >40 mV</text>
<rect x="217.50" y="726.80" width="14.00" height="2.80" fill="#2a2728" />
<text x="153.60" y="734.00" font-size="25.6" textLength="57.00" lengthAdjust="spacingAndGlyphs" fill="#111" >20 mV</text>
<rect x="217.50" y="794.10" width="14.00" height="2.80" fill="#2a2728" />
<text x="163.50" y="800.50" font-size="25.6" textLength="44.00" lengthAdjust="spacingAndGlyphs" fill="#111" >0 mV</text>
<rect x="217.50" y="861.40" width="14.00" height="2.80" fill="#2a2728" />
<text x="149.00" y="867.40" font-size="25.6" textLength="62.00" lengthAdjust="spacingAndGlyphs" fill="#111" >-20 mV</text>
<rect x="217.50" y="929.50" width="14.00" height="2.80" fill="#2a2728" />
<text x="149.00" y="934.50" font-size="25.6" textLength="62.00" lengthAdjust="spacingAndGlyphs" fill="#111" >-40 mV</text>
<rect x="217.50" y="996.80" width="14.00" height="2.80" fill="#2a2728" />
<text x="149.00" y="1001.20" font-size="25.6" textLength="62.00" lengthAdjust="spacingAndGlyphs" fill="#111" >-60 mV</text>
<rect x="217.50" y="1064.20" width="14.00" height="2.80" fill="#2a2728" />
<text x="149.00" y="1068.60" font-size="25.6" textLength="62.00" lengthAdjust="spacingAndGlyphs" fill="#111" >-80 mV</text>
<rect x="1156.20" y="677.40" width="3.10" height="399.90" fill="#2a2728" />
<rect x="1156.20" y="677.50" width="15.00" height="2.80" fill="#2a2728" />
<text x="1083.00" y="687.60" font-size="25.6" textLength="61.40" lengthAdjust="spacingAndGlyphs" fill="#111" >40 mV</text>
<rect x="1156.20" y="743.30" width="15.00" height="2.80" fill="#2a2728" />
<text x="1083.00" y="752.70" font-size="25.6" textLength="61.40" lengthAdjust="spacingAndGlyphs" fill="#111" >20 mV</text>
<rect x="1156.20" y="809.40" width="15.00" height="2.80" fill="#2a2728" />
<text x="1093.30" y="817.70" font-size="25.6" textLength="48.40" lengthAdjust="spacingAndGlyphs" fill="#111" >0 mV</text>
<rect x="1156.20" y="875.60" width="15.00" height="2.80" fill="#2a2728" />
<text x="1078.60" y="883.20" font-size="25.6" textLength="66.40" lengthAdjust="spacingAndGlyphs" fill="#111" >-20 mV</text>
<rect x="1156.20" y="942.00" width="15.00" height="2.80" fill="#2a2728" />
<text x="1078.60" y="948.20" font-size="25.6" textLength="66.40" lengthAdjust="spacingAndGlyphs" fill="#111" >-40 mV</text>
<rect x="1156.20" y="1008.30" width="15.00" height="2.80" fill="#2a2728" />
<text x="1078.60" y="1013.30" font-size="25.6" textLength="66.40" lengthAdjust="spacingAndGlyphs" fill="#111" >-60 mV</text>
<rect x="1156.20" y="1074.40" width="15.00" height="2.80" fill="#2a2728" />
<text x="1078.60" y="1078.30" font-size="25.6" textLength="66.40" lengthAdjust="spacingAndGlyphs" fill="#111" >-80 mV</text>
<text x="429.77" y="656.60" font-size="30" >Kisspeptin-10 10 nM</text>
<rect x="292.40" y="666.00" width="540.00" height="7.00" fill="#000" />
<text x="638.48" y="717.30" font-size="30" >ODQ 10 µM</text>
<rect x="586.00" y="724.20" width="245.20" height="7.00" fill="#000" />
<rect x="750.50" y="1022.10" width="82.00" height="6.60" fill="#000" />
<text x="762.06" y="1055.00" font-size="22.6" >10 sec</text>
<text x="1385.51" y="653.80" font-size="32.8" >Kisspeptin-10 10 nM</text>
<rect x="1239.30" y="661.20" width="592.00" height="7.40" fill="#000" />
<text x="1583.14" y="710.00" font-size="32.8" >sildenafil 30 µM</text>
<rect x="1561.00" y="717.60" width="267.80" height="7.40" fill="#000" />
<rect x="1737.80" y="1056.00" width="89.00" height="7.20" fill="#000" />
<text x="1749.72" y="1092.40" font-size="27.5" >10 sec</text>
<path d="M292.5 747.5V974.7M295.5 749.1V978M314.5 747.2V975.2M323.5 747.5V971.8M325.5 747V979.7M332.5 748.3V970.4M335.5 747.7V974.3M340.5 747.6V981.4M349.5 748.4V970.2M373.5 748.9V974.2M374.5 749.1V980.4M376.5 748.8V981.9M381.5 747.7V976.4M385.5 748.5V975.9M388.5 747.7V975.7M392.5 747.1V980.3M402.5 747.9V980M469.5 748.4V979.5M477.5 749.2V980.6M479.5 747.1V974.8M490.5 748.9V975.8M514.5 747.8V974.3M521.5 749.2V978.8M522.5 747.3V970.7M523.5 749.3V973.6" stroke="#5f5d5d" stroke-width="0.9" fill="none" />
<path d="M293.5 748.3V975.5M296.5 749.1V977.5M299.5 749V980.5M301.5 748.9V974.8M302.5 748.4V975.4M303.5 750.2V981.3M304.5 747.5V981.7M307.5 748.8V980.9M308.5 748.4V980.1M309.5 748V975M310.5 749.8V972.9M312.5 748.9V975.6M320.5 748.6V976.3M321.5 748.7V975.9M322.5 749.2V978.1M324.5 747.9V977.7M328.5 747.3V979.9M329.5 748.2V974.2M330.5 747.5V977M331.5 747.9V979.5M343.5 747.7V976M344.5 749.3V977.3M345.5 749V977.7M346.5 747.1V974.4M350.5 747.9V970.7M351.5 749.2V977.8M352.5 749V977.2M353.5 747.4V973.7M354.5 747.7V975.6M358.5 749.2V974.4M359.5 749.9V972.1M369.5 747.9V975.4M379.5 749.4V981.8M380.5 749.4V978.9M382.5 748.2V981.9M383.5 747.9V971.9M384.5 749.1V977.4M396.5 748V971.7M397.5 747.7V971.9M398.5 747.5V970.4M399.5 749.5V980.4M404.5 749.8V976.6M412.5 748.1V976.8M420.5 749.3V975.5M421.5 747.4V980.7M424.5 748.9V974M425.5 749.7V979M426.5 747.8V971.6M427.5 749.4V981.2M428.5 747.3V977.4M429.5 749.1V976.2M430.5 747.4V979.3M431.5 748.6V970.4M434.5 749.7V973.4M435.5 747.8V979.9M436.5 747.2V979.1M437.5 748.9V976.1M441.5 750.2V972.8M442.5 749.3V975.9M443.5 748.7V976.6M444.5 748.4V970.3M445.5 750V971.7M446.5 748.3V975.3M447.5 749.1V978.6M448.5 748.9V975.3M451.5 747.7V980.2M452.5 749.9V980.1M453.5 749.5V980.8M454.5 749.4V974.1M458.5 748.5V972.4M459.5 747V971.9M460.5 747.5V976.6M461.5 747.5V977.7M462.5 749V971.5M465.5 747.4V978.4M466.5 747.7V970.2M467.5 749.5V972.6M468.5 748.8V972.9M478.5 748.3V976.9M480.5 749.6V975.8M481.5 747.1V977.7M482.5 749.5V973.1M483.5 748.5V973.1M484.5 749.6V973.5M486.5 748.2V975.9M487.5 747.8V981M492.5 749.3V973.7M493.5 748.2V973.2M497.5 749.2V980.9M498.5 747.2V978.9M504.5 747.7V980.6M505.5 749.3V970.6M506.5 749V977.3M507.5 748.4V979.2M508.5 747.1V976M509.5 747.5V972.6M512.5 747V979.3M513.5 749.7V981.6M515.5 749.7V972.3M516.5 749.2V980.8M517.5 747.6V974.4M518.5 747.5V974.4M525.5 748.8V979.9M526.5 749.5V978.7M532.5 750.2V979.2" stroke="#8b8889" stroke-width="1.0" fill="none" />
<path d="M297.5 747.3V981.7M341.5 748.4V973.9M347.5 748.5V980.4M370.5 749.5V981.5M371.5 749.9V972.9M386.5 747.6V972.5M387.5 747.6V979.9M419.5 747.3V977.9M471.5 750V978.4M475.5 749.6V974.8M510.5 747.5V981.6M520.5 747.9V979" stroke="#c9c7c7" stroke-width="1.0" fill="none" />
<path d="M298.5 747.7V974.2M300.5 748.2V970.9M305.5 747.6V974.4M306.5 747V972M311.5 748.8V979.9M313.5 749.5V977.9M318.5 749.7V981.9M319.5 749.1V971.8M326.5 749.1V972.2M337.5 747.8V972.4M360.5 747.8V970.3M363.5 748.2V979M365.5 747.6V981.7M366.5 748.6V975M368.5 747.7V976.2M377.5 749.9V981.5M394.5 747.7V979.5M395.5 748.1V975.3M403.5 748.5V975.8M405.5 749.4V978.1M407.5 747.1V981M410.5 747.4V974M415.5 748.4V978.6M416.5 747.2V973.1M432.5 749.9V981.1M433.5 748.7V970.1M455.5 747.5V970.2M456.5 747.9V978.3M457.5 748V981.6M476.5 750.1V979.7M489.5 747.9V971.4M491.5 749.6V971.7M500.5 749.6V976.2M501.5 747.3V981.7M519.5 749.9V977.8M527.5 747.1V976.9M528.5 749.9V972.5M533.5 747.7V971.5" stroke="#1f1c1d" stroke-width="0.8" fill="none" />
<path d="M292.5 980.2V1000.3M293.5 975.1V1008M295.5 976.9V1007.9M296.5 967.4V1006.7M297.5 968.1V1006.9M298.5 964.3V1005.3M299.5 967.6V1002.5M302.5 971.2V1005.8M303.5 967.6V1000.5M304.5 971.2V1007.1M305.5 978.9V1007.7M306.5 979.8V1006.4M307.5 964.7V1006.3M308.5 979.3V1007.8M309.5 978.4V1003.3M310.5 965.1V1008.3M311.5 977.4V1002M312.5 964.4V1007.6M317.5 964.6V1003.9M318.5 981.1V1003M320.5 981V1003.7M322.5 977.6V1000.2M323.5 979.3V1006.8M324.5 976.4V1001.9M325.5 969.7V1001.2M326.5 964.8V1008.1M327.5 980.1V1004.6M328.5 978.9V1004.1M329.5 966.9V1005M330.5 968.1V999.7M331.5 965.5V1003.4M334.5 975.5V1000.3M335.5 973.4V1002.9M337.5 972.6V1007.7M338.5 965.3V1008.2M339.5 977.3V1002.6M340.5 973.6V1002.5M341.5 964V1006.7M343.5 976.7V1005.2M344.5 971.1V1004.7M346.5 964V999.6M349.5 981.6V1008M350.5 965.3V1001.1M351.5 978.9V1000.8M352.5 980.4V1004.7M354.5 972.6V1005.2M358.5 979V1001.3M359.5 970.6V1003.8M360.5 964.9V1000.8M363.5 975.7V1002M365.5 976.1V1002M370.5 970.5V1002.8M373.5 979.6V1004.9M376.5 979.7V1007.3M377.5 979.7V999.8M380.5 978.1V1001.7M381.5 968.7V1004.4M382.5 979.1V1001.5M383.5 974.8V1002.6M385.5 973.9V1006.2M387.5 964.9V999.8M394.5 972.3V1003.9M395.5 971.6V1007.1M396.5 966.8V1008.2M397.5 971.9V1005.7M398.5 968.1V1004.3M399.5 981.8V1004.4M400.5 970.1V1000.6M402.5 974.1V1004M403.5 969.7V1003.3M404.5 966.2V1007.6M405.5 968.7V1002.2M406.5 978.8V1001.2M408.5 969.9V1003.7M409.5 975.4V1003.5M410.5 981.7V1007.2M412.5 970.4V1006.9M414.5 968V1005.4M416.5 967.4V1004.9M419.5 968.4V1005M420.5 979.5V1000.2M424.5 967.1V1002.7M425.5 966.7V1003.5M426.5 974.2V1002.1M429.5 980.3V1007.3M430.5 970.9V1002.3M432.5 967.6V1002.3M433.5 975V1001.5M434.5 965V1002.4M435.5 969.4V1004.3M436.5 969.8V1005.2M442.5 967.1V1006.3M443.5 971V1003.5M444.5 978.3V1007M445.5 976.3V1006M446.5 964.6V1001.6M448.5 976.1V1003.4M450.5 981.5V1005.6M452.5 966.9V1001.3M453.5 972V1004.6M454.5 978.1V1005.6M455.5 971.3V999.8M456.5 972.7V1003.4M457.5 974.6V1000.7M459.5 975.7V999.5M460.5 965.1V1006.1M461.5 977.2V1000.7M463.5 967.5V1006.5M465.5 980.5V1006.3M466.5 979.5V1004.1M468.5 969.4V1003.2M471.5 977V1000.1M474.5 974.6V1006.4M475.5 973.7V1003.3M476.5 980.9V999.9M477.5 968V1000M478.5 969.5V1003.8M480.5 976.4V1007.1M481.5 969.2V1006M484.5 973.6V1003M487.5 975.4V1007.7M489.5 974.8V999.8M491.5 968.1V1001.9M492.5 971.6V1000.4M493.5 980V999.6M496.5 981.8V1002.6M497.5 981.4V999.6M500.5 980.1V1005.7M501.5 966.6V1002.3M504.5 966.2V1003M505.5 966.6V1000M507.5 966.6V1001.2M510.5 972.3V1005.3M512.5 978.5V1004.1M514.5 968.7V1004.6M515.5 966.9V999.8M516.5 978.3V1000.2M517.5 965.4V1006.6M518.5 975.6V1007.6M519.5 978.3V1001.4M520.5 968.1V1004M522.5 980.8V1001.1M523.5 969.1V1007.1M524.5 967.2V1007.4M525.5 966.7V1005M526.5 964.4V1007.3M527.5 978.3V1001.9M528.5 971V1003M532.5 971.9V1000.9M533.5 975.3V1007.2" stroke="#231f20" stroke-width="0.85" fill="none" />
<path d="M293.5 955.5V978.4M296.5 959.5V978.9M299.5 958.2V978.4M304.5 953.2V979.8M305.5 962.3V980M307.5 951.4V977.8M308.5 958.6V978.4M318.5 955.9V975.2M323.5 964.1V975.9M326.5 957.9V978.2M331.5 962.5V976.8M337.5 954.1V978.1M349.5 956.9V975.5M351.5 957.2V977.3M353.5 963.8V978.8M354.5 955.9V977.2M358.5 962.2V978.5M359.5 949.6V976.1M363.5 953.6V979.4M365.5 953.8V975.5M373.5 958.5V977.1M374.5 954.6V978.4M377.5 963.2V976.1M379.5 947.2V975.7M380.5 956.6V975.5M381.5 965.7V977.4M388.5 950.4V980.6M392.5 961.6V976.5M394.5 962.1V980M395.5 947.1V976.1M399.5 958.3V977.1M403.5 948.3V980.3M405.5 960V980.2M421.5 947.5V977.8M424.5 965.5V980.8M426.5 957.1V976.7M430.5 949.6V977.2M431.5 960.9V977.8M433.5 947.2V978.9M435.5 964.4V975.8M437.5 965.7V976.7M442.5 960.9V978M443.5 950.5V979.2M444.5 965.6V975.9M445.5 962.7V978.7M447.5 959.3V979.5M448.5 952.6V979.8M455.5 953.6V980.3M456.5 951.3V980.2M460.5 947.3V980.3M462.5 947V977.6M465.5 955.3V980.8M469.5 949.4V979.6M476.5 958.3V975.1M478.5 949.6V978.2M479.5 961.3V979.5M480.5 964.1V978M481.5 955.3V980.4M482.5 958.7V975.9M484.5 958.5V977.8M490.5 957.7V979.1M491.5 948.2V975.3M492.5 948.3V976.6M497.5 960.5V977.1M498.5 960.8V978.9M501.5 963.2V979.2M504.5 961.4V977.3M506.5 947.7V979.6M508.5 948.5V980.1M509.5 952.9V979.7M512.5 965.5V980.7M513.5 952.4V978.5M515.5 964.3V978.8M521.5 962.3V975.3M523.5 958.1V975.1M525.5 959.7V975.7M526.5 957.9V977.1M528.5 958.6V980.7M532.5 954.5V980.2" stroke="#555253" stroke-width="0.9" fill="none" />
<path d="M288.5 984.9 L289.4 982.3 L290.3 986.6 L291.2 989.4 L292.1 984.6 L293 979 L293.9 991 L294.8 981.8 L295.7 986.7 L296.6 986.4 L297.5 979.8 L298.4 994.7 L299.3 988.1 L300.2 992.6 L301.1 983.3 L302 987.1 L302.9 982.8 L303.8 986.7 L304.7 981.8 L305.6 988.3 L306.5 983.6 L307.4 983.7 L308.3 983.7 L309.2 984.1 L310.1 979.8 L311 991.5 L311.9 988.6 L312.8 976.3 L313.7 980.8 L314.6 982.7 L315.5 983.6 L316.4 987.1 L317.3 984.1 L318.2 980.2 L319.1 987.4 L320 986.1 L320.9 986.7 L321.8 977.6 L322.7 983.5 L323.6 982.9 L324.5 986.6 L325.4 977.6 L326.3 985.7 L327.2 990.9 L328.1 984.8 L329 980.2 L329.9 984 L330.8 984 L331.7 991.8 L332.6 982.6 L333.5 983 L334.4 985.6 L335.3 986.8 L336.2 991.7 L337.1 985 L338 988.3 L338.9 993.4 L339.8 987 L340.7 985.7 L341.6 990 L342.5 984.7 L343.4 979.7 L344.3 982.6 L345.2 986.5 L346.1 982.7 L347 983.1 L347.9 989.1 L348.8 980.6 L349.7 987.3 L350.6 988.2 L351.5 986.5 L352.4 984.1 L353.3 991.5 L354.2 983.3 L355.1 986.9 L356 983.9 L356.9 985.3 L357.8 981.3 L358.7 991.9 L359.6 988.4 L360.5 989.6 L361.4 985.9 L362.3 982.4 L363.2 984.1 L364.1 984.4 L365 980.9 L365.9 996.5 L366.8 982.2 L367.7 984.1 L368.6 992.9 L369.5 981.8 L370.4 984.5 L371.3 981 L372.2 986.9 L373.1 985 L374 979.4 L374.9 990 L375.8 983.5 L376.7 985.4 L377.6 991 L378.5 985 L379.4 980 L380.3 984.2 L381.2 987.7 L382.1 989.2 L383 985.1 L383.9 977.8 L384.8 981.4 L385.7 990 L386.6 987.9 L387.5 982.5 L388.4 978 L389.3 985.9 L390.2 978.8 L391.1 981.3 L392 984 L392.9 983.4 L393.8 987.4 L394.7 983.7 L395.6 979.8 L396.5 983.2 L397.4 984.4 L398.3 990.8 L399.2 984.7 L400.1 984.7 L401 980.6 L401.9 985.1 L402.8 978.6 L403.7 987.9 L404.6 982.8 L405.5 982.2 L406.4 983.3 L407.3 985.4 L408.2 985.3 L409.1 985.1 L410 987.4 L410.9 979.9 L411.8 990.9 L412.7 981.7 L413.6 990.4 L414.5 981.1 L415.4 988.9 L416.3 978 L417.2 980.6 L418.1 984.4 L419 986.4 L419.9 989.2 L420.8 984.1 L421.7 981.6 L422.6 982.2 L423.5 986.3 L424.4 983.4 L425.3 982.3 L426.2 991.1 L427.1 984.4 L428 986.5 L428.9 988.2 L429.8 984.9 L430.7 984.5 L431.6 983.8 L432.5 980.7 L433.4 992.4 L434.3 981 L435.2 987.7 L436.1 984.6 L437 987.8 L437.9 983.7 L438.8 979.1 L439.7 986.7 L440.6 986.5 L441.5 983.1 L442.4 984.5 L443.3 984.8 L444.2 985.6 L445.1 978.9 L446 986.3 L446.9 979.6 L447.8 980 L448.7 990.5 L449.6 987.7 L450.5 980.8 L451.4 986.2 L452.3 986 L453.2 987.7 L454.1 988.9 L455 983.2 L455.9 988.5 L456.8 987.5 L457.7 986.3 L458.6 987.8 L459.5 979 L460.4 989.1 L461.3 985.2 L462.2 990.7 L463.1 986.9 L464 986.7 L464.9 986 L465.8 988.7 L466.7 983 L467.6 986 L468.5 983.8 L469.4 986.3 L470.3 989.1 L471.2 987.4 L472.1 983.7 L473 979 L473.9 986.7 L474.8 982.7 L475.7 983.7 L476.6 990.1 L477.5 990.5 L478.4 984.4 L479.3 984.1 L480.2 986.8 L481.1 988 L482 982.4 L482.9 983.4 L483.8 986 L484.7 981.7 L485.6 986 L486.5 983.9 L487.4 986.7 L488.3 981.5 L489.2 985.6 L490.1 986.7 L491 981.8 L491.9 981.1 L492.8 980.6 L493.7 987.4 L494.6 982.3 L495.5 985.6 L496.4 978.9 L497.3 988.1 L498.2 981 L499.1 991 L500 985 L500.9 984.2 L501.8 989.7 L502.7 987.7 L503.6 986.4 L504.5 988.2 L505.4 983.9 L506.3 985.3 L507.2 981.8 L508.1 982.8 L509 977.8 L509.9 987.3 L510.8 986.7 L511.7 988.7 L512.6 986.8 L513.5 986.2 L514.4 989.1 L515.3 988 L516.2 978.5 L517.1 986.1 L518 984.9 L518.9 987.3 L519.8 980.7 L520.7 986 L521.6 991.9 L522.5 985.9 L523.4 982.3 L524.3 993.9 L525.2 987.1 L526.1 983.9 L527 987.3 L527.9 990.5 L528.8 990.7 L529.7 986.4 L530.6 983.9 L531.5 981.6 L532.4 984.4 L533.3 984.1 L534.2 990.9" stroke="#231f20" stroke-width="1.0" fill="none" stroke-linejoin="round"/>
<path d="M587.8 747.5 L588.5 748.9 L589.2 748 L589.9 748.7 L590.6 747.9 L591.3 748.1 L592 749 L592.7 748 L593.4 748.6 L594.1 749.2 L594.8 748.1 L595.5 749.1 L596.2 748.3 L596.9 748.6 L597.6 749.1 L598.3 747.3 L599 748.6 L599.7 747.7 L600.4 747.4 L601.1 749 L601.8 748.4 L602.5 748.7 L603.2 747.5 L603.9 748 L604.6 748.3 L605.3 748.9 L606 748.1 L606.7 748 L607.4 748.3 L608.1 748.4 L608.9 748.5 L609.6 748.9 L610.3 747.7 L611 747.4 L611.7 748.1 L612.4 747.7 L613.1 747.3 L613.8 748.9 L614.5 749 L615.2 747.3 L615.9 749.2 L616.6 748.2 L617.3 747.2 L618 747.8 L618.7 747.7 L619.4 748.9 L620.1 748.8 L620.8 747.7 L621.5 748.9 L622.2 748.2 L622.9 747.2 L623.6 748.2 L624.3 747.7 L625 749.1 L625.7 748.9 L626.4 747.5 L627.1 748.4 L627.8 748 L628.5 748.5 L629.2 748.8 L629.9 747.8 L630.6 749 L631.3 748.2 L632 747.7 L632.7 748.9 L633.4 748.7 L634.1 748.2 L634.8 748.3 L635.5 748.1 L636.2 748.3 L636.9 747.9 L637.6 748.9 L638.3 747.9 L639 747.8 L639.7 748.1 L640.4 748.8 L641.1 747.9 L641.8 747.7 L642.5 748.1 L643.2 748.6 L643.9 748.9 L644.6 748.2 L645.3 749 L646 748 L646.7 747.6 L647.4 749.1 L648.1 748.9 L648.8 748.4 L649.6 748.7 L650.3 747.2 L651 749.1 L651.7 748.4 L652.4 748.9 L653.1 749.1 L653.8 749.1 L654.5 747.7 L655.2 747.5 L655.9 748.5 L656.6 747.2 L657.3 748.1 L658 747.2 L658.7 749.2 L659.4 748.3 L660.1 747.3 L660.8 747.9 L661.5 749 L662.2 747.4 L662.9 748.5 L663.6 749.1 L664.3 747.9 L665 747.8 L665.7 747.4 L666.4 748.7 L667.1 748.3 L667.8 749 L668.5 747.5 L669.2 747.5 L669.9 748.4 L670.6 747.7 L671.3 747.9 L672 749.1 L672.7 748.7 L673.4 748.7 L674.1 747.4 L674.8 747.4 L675.5 748.5 L676.2 747.4 L676.9 747.6 L677.6 748.1 L678.3 748.3 L679 749 L679.7 748.2 L680.4 748.8 L681.1 748.1 L681.8 747.3 L682.5 747.6 L683.2 748.7 L683.9 747.6 L684.6 748.3 L685.3 748.6 L686 748.6 L686.7 748.6 L687.4 747.4 L688.1 748.6 L688.8 748.9 L689.5 749 L690.3 747.4 L691 747.7 L691.7 747.6 L692.4 747.5 L693.1 747.3 L693.8 748.3 L694.5 747.5 L695.2 747.5 L695.9 747.4 L696.6 748.8 L697.3 747.8 L698 748.5 L698.7 747.9 L699.4 747.3 L700.1 748.5 L700.8 747.5 L701.5 748.1 L702.2 747.3 L702.9 749.1 L703.6 747.4 L704.3 748.1 L705 747.5 L705.7 747.3 L706.4 749 L707.1 747.9 L707.8 749 L708.5 748.7 L709.2 747.3 L709.9 749.1 L710.6 747.5 L711.3 748.5 L712 747.9 L712.7 747.8 L713.4 747.9 L714.1 748.9 L714.8 748.3 L715.5 747.6 L716.2 748.9 L716.9 748.2 L717.6 749 L718.3 747.6 L719 748.1 L719.7 748 L720.4 748.2 L721.1 747.3 L721.8 749.1 L722.5 748.8 L723.2 748.8 L723.9 748.6 L724.6 748.3 L725.3 748.4 L726 748.6 L726.7 748.7 L727.4 748.3 L728.1 748.3 L728.8 747.5 L729.5 748.6 L730.2 747.2 L731 748.5 L731.7 748.4 L732.4 747.4 L733.1 748.9 L733.8 748.9 L734.5 749.1 L735.2 748.3 L735.9 747.7 L736.6 748.6 L737.3 749.1 L738 747.5 L738.7 748.5 L739.4 748.3 L740.1 748.9 L740.8 747.9 L741.5 748 L742.2 747.5 L742.9 748.7 L743.6 748.3 L744.3 749.1 L745 747.6 L745.7 747.7 L746.4 747.7 L747.1 747.2 L747.8 748.2 L748.5 747.6 L749.2 748.1 L749.9 747.3 L750.6 748.2 L751.3 748.5 L752 749 L752.7 749.2 L753.4 748 L754.1 748.3 L754.8 747.4 L755.5 749.1 L756.2 748 L756.9 748 L757.6 748.8 L758.3 748.2 L759 748.9 L759.7 748.5 L760.4 747.5 L761.1 747.3 L761.8 748.2 L762.5 749 L763.2 748.1 L763.9 749 L764.6 749.1 L765.3 747.5 L766 748.4 L766.7 748.6 L767.4 747.3 L768.1 748.3 L768.8 748.4 L769.5 747.5 L770.2 748.3 L771 747.7 L771.7 748.5 L772.4 749 L773.1 748.9 L773.8 747.9 L774.5 748 L775.2 748.8 L775.9 748.9 L776.6 747.7 L777.3 749.1 L778 747.3 L778.7 748.2 L779.4 748.5 L780.1 747.7 L780.8 748.8 L781.5 748.5 L782.2 748.3 L782.9 747.6 L783.6 748.1 L784.3 748.1 L785 747.6 L785.7 748.9 L786.4 749.2 L787.1 748.2 L787.8 747.7 L788.5 747.7 L789.2 747.5 L789.9 748.2 L790.6 749.1 L791.3 749.1 L792 748 L792.7 748.5 L793.4 749 L794.1 748.4 L794.8 747.6 L795.5 747.3 L796.2 748.7 L796.9 749 L797.6 748 L798.3 747.9 L799 747.4 L799.7 747.3 L800.4 748.8 L801.1 747.3 L801.8 747.9 L802.5 748.9 L803.2 747.7 L803.9 747.7 L804.6 747.3 L805.3 748.6 L806 747.3 L806.7 748.2 L807.4 748.4 L808.1 747.2 L808.8 747.5 L809.5 748.1 L810.2 748 L810.9 747.7 L811.6 747.4 L812.4 747.6 L813.1 747.2 L813.8 748.6 L814.5 748.7 L815.2 748.1 L815.9 747.3 L816.6 748.3 L817.3 747.8 L818 747.8 L818.7 748.4 L819.4 748.5 L820.1 748 L820.8 747.7 L821.5 747.7 L822.2 748.9 L822.9 749.1 L823.6 749 L824.3 748.8 L825 747.2 L825.7 747.6 L826.4 749 L827.1 748 L827.8 747.6 L828.5 748.2 L829.2 749 L829.9 747.7 L830.6 748.4 L831.3 748.9 L832 748.7 L832 981.5 L831.3 977.8 L830.6 981.3 L829.9 981.4 L829.2 979.7 L828.5 983.4 L827.8 982.3 L827.1 984.1 L826.4 983.8 L825.7 981.3 L825 980.4 L824.3 983.8 L823.6 984.5 L822.9 979.2 L822.2 982.6 L821.5 981.3 L820.8 980.7 L820.1 981.3 L819.4 983.3 L818.7 981.8 L818 980.5 L817.3 984.1 L816.6 982.7 L815.9 985 L815.2 980.1 L814.5 983.8 L813.8 981.7 L813.1 987 L812.4 981.8 L811.6 987.2 L810.9 985.7 L810.2 981.8 L809.5 982.3 L808.8 986.4 L808.1 984.2 L807.4 981.3 L806.7 984.5 L806 985.1 L805.3 987.6 L804.6 982.9 L803.9 981.1 L803.2 985.7 L802.5 984.2 L801.8 984.3 L801.1 982.8 L800.4 982.2 L799.7 984.3 L799 984.8 L798.3 985.8 L797.6 985.4 L796.9 985.5 L796.2 985.4 L795.5 984.2 L794.8 982 L794.1 981.8 L793.4 983.8 L792.7 982 L792 982 L791.3 981.7 L790.6 981.3 L789.9 983.3 L789.2 979.6 L788.5 982.7 L787.8 982 L787.1 979 L786.4 979.6 L785.7 983.1 L785 978.9 L784.3 984.5 L783.6 983.8 L782.9 979.3 L782.2 981.4 L781.5 983.4 L780.8 977.2 L780.1 982.8 L779.4 980.4 L778.7 978.5 L778 982.4 L777.3 980.9 L776.6 978.1 L775.9 983.5 L775.2 982 L774.5 977.4 L773.8 982.9 L773.1 977.8 L772.4 982.3 L771.7 982.1 L771 981.4 L770.2 982.2 L769.5 984.6 L768.8 982.6 L768.1 979.4 L767.4 983.7 L766.7 980.6 L766 982.2 L765.3 984.6 L764.6 981.2 L763.9 979.2 L763.2 979.4 L762.5 981.1 L761.8 979.9 L761.1 982.2 L760.4 982.6 L759.7 985.6 L759 986.9 L758.3 986.1 L757.6 982.9 L756.9 987.1 L756.2 987.1 L755.5 984.8 L754.8 986.1 L754.1 986.3 L753.4 984 L752.7 987.8 L752 985.1 L751.3 982.4 L750.6 981.1 L749.9 987.7 L749.2 986.1 L748.5 985.3 L747.8 983.8 L747.1 986.3 L746.4 985.6 L745.7 982 L745 984.1 L744.3 982.6 L743.6 985.4 L742.9 985.4 L742.2 980.8 L741.5 983.6 L740.8 985.1 L740.1 983.9 L739.4 985.4 L738.7 981.9 L738 984.1 L737.3 986.3 L736.6 983.2 L735.9 979.8 L735.2 981 L734.5 980.1 L733.8 979 L733.1 981.8 L732.4 982.2 L731.7 978.5 L731 978.2 L730.2 983.4 L729.5 979.3 L728.8 977.9 L728.1 978 L727.4 982 L726.7 984.1 L726 982.2 L725.3 977.7 L724.6 983.8 L723.9 983.2 L723.2 983.3 L722.5 978 L721.8 981.2 L721.1 978.9 L720.4 979.1 L719.7 983.9 L719 982.8 L718.3 982.7 L717.6 979.3 L716.9 979.5 L716.2 977.9 L715.5 983.4 L714.8 978.4 L714.1 980 L713.4 978.5 L712.7 984.6 L712 980.9 L711.3 981.8 L710.6 984.1 L709.9 979.5 L709.2 981.5 L708.5 983.7 L707.8 985.2 L707.1 982 L706.4 985.3 L705.7 982.7 L705 980.2 L704.3 985.2 L703.6 982.9 L702.9 985.7 L702.2 981.5 L701.5 986.9 L700.8 985.5 L700.1 981 L699.4 984 L698.7 983.3 L698 981 L697.3 987.7 L696.6 985.7 L695.9 987.2 L695.2 987.6 L694.5 982.7 L693.8 984.3 L693.1 986.5 L692.4 987.1 L691.7 987.1 L691 982.5 L690.3 982.4 L689.5 981.1 L688.8 982.7 L688.1 986.1 L687.4 987.4 L686.7 984.4 L686 981.5 L685.3 986.6 L684.6 984.9 L683.9 985.7 L683.2 986.5 L682.5 980.6 L681.8 983.4 L681.1 985.7 L680.4 981.6 L679.7 980.5 L679 983.8 L678.3 979.3 L677.6 985.5 L676.9 981 L676.2 984.2 L675.5 982.5 L674.8 985 L674.1 983.7 L673.4 982.7 L672.7 981.3 L672 980.7 L671.3 981.7 L670.6 984.2 L669.9 982.6 L669.2 982 L668.5 980.5 L667.8 983.8 L667.1 983 L666.4 983.6 L665.7 978 L665 980.7 L664.3 979.3 L663.6 983.4 L662.9 980.5 L662.2 983.2 L661.5 983.9 L660.8 978.7 L660.1 983.4 L659.4 978.4 L658.7 980.2 L658 979.7 L657.3 980.3 L656.6 978.2 L655.9 983.7 L655.2 981.9 L654.5 980.5 L653.8 981.9 L653.1 981.6 L652.4 983.3 L651.7 983.7 L651 985.3 L650.3 980.7 L649.6 984.2 L648.8 984.9 L648.1 985.1 L647.4 982.5 L646.7 981.5 L646 984.4 L645.3 981.3 L644.6 982.3 L643.9 985.7 L643.2 982.1 L642.5 981.8 L641.8 985.6 L641.1 981.3 L640.4 986.1 L639.7 984 L639 985.4 L638.3 982.7 L637.6 982.6 L636.9 986.7 L636.2 987.6 L635.5 983.6 L634.8 983.6 L634.1 984.7 L633.4 986 L632.7 987.4 L632 985.9 L631.3 986.6 L630.6 984.6 L629.9 984.1 L629.2 984.3 L628.5 981.9 L627.8 984 L627.1 981.4 L626.4 983.8 L625.7 983.5 L625 984.8 L624.3 981.4 L623.6 980.4 L622.9 983.3 L622.2 984.3 L621.5 981.6 L620.8 983 L620.1 982.4 L619.4 979 L618.7 980.9 L618 983.1 L617.3 982.3 L616.6 981.7 L615.9 984.1 L615.2 979.2 L614.5 979.1 L613.8 983 L613.1 982.4 L612.4 977.9 L611.7 981.4 L611 983.8 L610.3 979.9 L609.6 977.6 L608.9 978.1 L608.1 983.7 L607.4 981.4 L606.7 977.2 L606 984 L605.3 977.3 L604.6 979 L603.9 981.3 L603.2 981.3 L602.5 980.6 L601.8 977.9 L601.1 979.5 L600.4 980.3 L599.7 979.7 L599 984.1 L598.3 979.7 L597.6 981.5 L596.9 985.2 L596.2 982.5 L595.5 978.9 L594.8 979.7 L594.1 984.6 L593.4 985.8 L592.7 981.5 L592 980 L591.3 985 L590.6 985.2 L589.9 986.1 L589.2 986.7 L588.5 986.5 L587.8 981Z" stroke="none" stroke-width="0" fill="#231f20" />
<path d="M592.4 750V819.6M594.4 750V819.6M620.5 750V854.4M626.8 750V935.6M630.6 750V935.6M633.5 750V963.4M637.3 750V958.8M641.7 750V912.4M646.5 750V900.8M652.2 750V965.8M653.5 750V970.4M654.8 750V935.6M658.3 750V773.2M669.9 750V958.8M671.3 750V963.4M672.4 750V935.6M681.6 750V954.2M686 750V951.8M692.1 750V958.8M697.4 750V819.6M701.2 750V808M713.6 750V824.2M734 750V777.8M737.5 750V905.4M744.2 750V812.6M762.3 750V784.8M768.4 750V944.9M778.5 750V842.8M784.6 750V963.4M799.5 750V842.8M802.4 750V859M804.8 750V926.3M809.4 750V954.2M812.9 750V947.2M818.6 750V889.2M824.3 750V954.2M815.7 750V866M807.1 750V854.4" stroke="#7a7778" stroke-width="1.0" fill="none" />
<path d="M1236.5 739.1V980.6M1240.5 741.3V982M1245.5 738.6V985.8M1248.5 739.8V974.1M1249.5 738.8V985.1M1262.5 740.7V982.6M1279.5 738.7V979.2M1290.5 738.9V983.2M1294.5 738.6V979.4M1295.5 739.1V983.2M1306.5 738.9V978.6M1325.5 738.7V985.2M1332.5 738.5V982M1351.5 740.6V979.1M1353.5 739.4V977.2M1355.5 739.4V982.6M1362.5 738.5V983.4M1372.5 740.8V977.8M1378.5 741V975.6M1383.5 739.4V976.9M1391.5 738.6V983.9M1408.5 740V983.4M1411.5 739.7V983.6M1412.5 739.6V985.8M1418.5 738.5V983.7M1432.5 741.2V981.1M1441.5 740.2V980.4M1453.5 741.2V979.8M1469.5 741.6V985.6M1480.5 738.7V984.5M1485.5 740.8V974.2M1486.5 739.7V976.1M1494.5 741.1V983.2M1495.5 739.5V974.3" stroke="#5f5d5d" stroke-width="0.9" fill="none" />
<path d="M1237.5 741.3V981.2M1247.5 739.5V983.4M1250.5 740V984.6M1251.5 739.7V983.7M1253.5 739.5V984.8M1254.5 739.4V983.8M1258.5 739.5V984.9M1259.5 740.2V985M1269.5 739.8V979.7M1270.5 741.2V979.2M1274.5 740.2V981.6M1277.5 739.6V983.1M1278.5 741.2V980.3M1280.5 741.1V984M1281.5 741.3V975.1M1282.5 739.5V978.6M1283.5 738.7V979M1284.5 740.1V978.3M1286.5 739.9V979.4M1287.5 738.6V976.5M1288.5 738.8V980.5M1289.5 739.3V974.6M1291.5 738.7V984.5M1292.5 738.7V978.6M1298.5 740.1V983M1299.5 741V984.9M1301.5 740.3V981.6M1302.5 741.5V985.3M1303.5 741.3V974.5M1304.5 740V985.3M1312.5 739.7V976.8M1313.5 740.2V975.1M1314.5 741.5V984.4M1315.5 740.6V979.4M1318.5 739.1V980M1320.5 740.5V978.3M1321.5 740.2V982.8M1322.5 740.6V981M1323.5 741.5V984.5M1326.5 738.7V974.6M1327.5 741.5V981.7M1329.5 738.9V984.3M1330.5 741.2V977.1M1331.5 739.3V980M1334.5 738.8V974.7M1335.5 739.5V978.9M1337.5 738.8V985.2M1338.5 741.5V977.5M1339.5 740.2V976.7M1340.5 738.6V985.5M1344.5 741.1V980.7M1347.5 739.2V984.3M1349.5 740.4V983.2M1350.5 740.7V982.5M1363.5 740.3V976.4M1364.5 739.3V984.7M1365.5 740.8V984.5M1366.5 739.7V978.6M1375.5 739.3V978.4M1376.5 741.5V974.9M1379.5 739V977.5M1380.5 740.7V982.7M1381.5 738.8V976.5M1382.5 740.7V981.8M1384.5 741.3V980.8M1387.5 739.8V975.9M1388.5 739.8V984.4M1394.5 739V980.1M1395.5 740.5V983M1396.5 739.2V983.7M1398.5 740.5V983.9M1399.5 739.5V976M1401.5 739.5V977.8M1402.5 739.2V983.9M1404.5 741.3V978.2M1405.5 740.9V985.6M1406.5 740.2V976.5M1407.5 739.3V976.3M1409.5 741.5V979.8M1410.5 741.6V981.6M1421.5 739.4V984.1M1423.5 738.9V977M1424.5 740.4V976.9M1427.5 739.7V982.7M1429.5 739.4V981.5M1444.5 738.7V975.7M1445.5 741V974.6M1446.5 739.4V978.4M1451.5 738.8V980M1452.5 738.8V984.7M1454.5 740.1V981.4M1455.5 739.6V975.6M1456.5 741.5V985.3M1457.5 739V983.9M1459.5 738.9V985M1460.5 740.6V979M1461.5 739.4V975.9M1466.5 740.2V981.7M1467.5 738.7V984.5M1468.5 739.2V978.9M1470.5 738.5V979.5M1471.5 740.1V984M1472.5 741.6V981.7M1473.5 739.3V981.8M1477.5 739V977M1478.5 740.2V980.5M1479.5 740.9V985.3M1487.5 739.3V977.8M1488.5 739.3V979.6M1489.5 739.9V981.8M1492.5 740.3V984.1M1493.5 739.8V978.8M1496.5 740.5V984.2M1497.5 740.1V975.8M1498.5 740V981.3" stroke="#8b8889" stroke-width="1.0" fill="none" />
<path d="M1238.5 741.2V977M1242.5 740.1V976.3M1260.5 740.2V984M1265.5 741.2V985.3M1271.5 740.3V982.7M1276.5 739.8V983.8M1293.5 740.4V978.3M1300.5 741.2V978.5M1305.5 738.5V976.9M1307.5 741.1V985.6M1311.5 740.2V974.6M1328.5 739.4V976.1M1342.5 740.4V975.3M1348.5 741.1V983.5M1352.5 739.5V984M1354.5 740.3V977.9M1356.5 741.1V982.4M1360.5 739.7V986M1367.5 739.9V978.8M1368.5 740.1V979.1M1373.5 740.1V977.8M1374.5 739.8V976.3M1385.5 741.1V984.8M1392.5 741.5V976.2M1393.5 740.2V985.6M1400.5 738.6V985.4M1415.5 739.6V977.2M1416.5 740.7V983.5M1417.5 739.4V981.9M1422.5 738.9V983.8M1426.5 740.8V984.5M1428.5 740.8V984.9M1430.5 741.1V982.7M1431.5 739.7V981.8M1436.5 740.3V974.8M1437.5 738.7V978.8M1442.5 738.7V982.9M1448.5 741V985.6M1462.5 739.2V983.5M1463.5 739V983.6M1474.5 740V984.2M1476.5 740.8V980.6M1483.5 741.1V981.9M1499.5 741.5V978.2M1500.5 741.4V979.3" stroke="#1f1c1d" stroke-width="0.8" fill="none" />
<path d="M1239.5 740.7V978.4M1273.5 740.3V977.3M1341.5 740.5V976.5M1377.5 741V985.9" stroke="#c9c7c7" stroke-width="1.0" fill="none" />
<path d="M1236.5 981.7V1014.3M1237.5 983V1010.3M1239.5 976.2V1009.1M1242.5 976.8V1009.9M1243.5 976.6V1011.8M1245.5 975.6V1008.8M1247.5 985.8V1016.2M1248.5 978.2V1015.2M1249.5 973.1V1013.2M1250.5 980.6V1012.9M1253.5 984.3V1009.2M1258.5 983.3V1010.7M1262.5 980.1V1012.9M1264.5 969.5V1014.1M1269.5 973V1011.4M1270.5 979.9V1010.8M1274.5 984.7V1009.6M1276.5 969V1008.8M1277.5 985.5V1013.1M1278.5 978.2V1015.6M1279.5 980.1V1007.5M1281.5 976.3V1010M1282.5 981.4V1009.7M1283.5 984.2V1008.4M1284.5 968.4V1008M1285.5 969.7V1015.3M1286.5 978.6V1011.6M1287.5 985.6V1008.3M1288.5 972.6V1007.7M1291.5 975V1012M1292.5 974.2V1013.7M1293.5 985.2V1010.6M1294.5 983.3V1015.3M1295.5 976.6V1010.5M1299.5 978.8V1010.7M1302.5 979.2V1010.1M1303.5 970.7V1012.8M1304.5 979.9V1010.7M1305.5 974.9V1011.9M1306.5 984V1007.9M1309.5 982.9V1011M1311.5 984.1V1015.4M1312.5 968.5V1008.3M1313.5 975.6V1012.4M1315.5 979.2V1010.6M1318.5 984.4V1008.4M1320.5 982V1012M1321.5 974.8V1011.9M1322.5 985.5V1014.5M1323.5 968.6V1011.8M1324.5 981.6V1014.1M1326.5 972.3V1014.4M1327.5 970.1V1015.1M1329.5 980.7V1014.5M1330.5 971.6V1015.8M1331.5 975.9V1013M1332.5 978.4V1016.1M1334.5 970.7V1007.6M1335.5 972.4V1015.4M1337.5 968.4V1013.1M1338.5 969.1V1010.5M1339.5 969.2V1014M1340.5 971.3V1012.3M1341.5 982.1V1015.5M1343.5 982.9V1012.7M1344.5 983.2V1008.5M1346.5 983.2V1011.4M1347.5 974.2V1013.2M1348.5 978V1014.9M1349.5 976.8V1007.9M1350.5 980.9V1008.1M1351.5 972.1V1008.5M1354.5 983.5V1012.9M1356.5 980.5V1010.7M1360.5 974.1V1011.6M1362.5 975.1V1016M1365.5 972V1014.4M1366.5 979V1011.3M1367.5 972.1V1008.2M1371.5 985.7V1010.5M1372.5 974.3V1013.8M1374.5 976.6V1008.2M1375.5 983.7V1010.8M1376.5 980.5V1011.2M1377.5 977.4V1015.2M1379.5 976.8V1009.9M1380.5 984.1V1011.7M1381.5 978.2V1015.4M1382.5 971.9V1016.2M1383.5 970.6V1015M1385.5 975.3V1012.2M1386.5 985.4V1008.3M1387.5 969.6V1009.4M1388.5 974.9V1011.2M1391.5 968.4V1008.7M1392.5 978.8V1014.8M1393.5 975.9V1009.5M1394.5 974.8V1009.5M1395.5 968.6V1007.7M1396.5 971.9V1015.9M1399.5 985.6V1009.3M1400.5 978.3V1016.2M1401.5 973.1V1014.4M1402.5 970.7V1013.5M1406.5 984.2V1010.8M1407.5 985.5V1014.6M1409.5 978.4V1009.8M1410.5 968.4V1012.5M1411.5 968.6V1014M1412.5 970.4V1010.3M1415.5 982.8V1008.2M1416.5 982.4V1011.6M1417.5 981.8V1011.9M1418.5 970V1012.2M1421.5 984.9V1007.5M1423.5 978.9V1010.8M1424.5 973.6V1014.9M1425.5 982.1V1010.8M1426.5 982.2V1015.8M1429.5 975.3V1007.7M1430.5 975.4V1010M1431.5 983.2V1015.1M1432.5 985.5V1011.9M1435.5 984.1V1007.7M1436.5 972.7V1015.1M1437.5 972.9V1015.5M1438.5 978.1V1011.8M1440.5 968.4V1016.5M1441.5 969.3V1011.5M1442.5 978.6V1014.5M1444.5 981.4V1014.4M1445.5 975.7V1016.4M1446.5 975.2V1013.1M1448.5 980.6V1012.8M1452.5 983.6V1008.1M1453.5 980.4V1008.5M1454.5 979.9V1012.7M1455.5 975.2V1015.4M1456.5 979.7V1015.9M1457.5 972.5V1012.4M1458.5 973.9V1008.7M1459.5 968.4V1015.4M1460.5 972.4V1011.5M1461.5 972V1014.7M1462.5 972.1V1016.5M1463.5 974.6V1010.8M1466.5 984.7V1009.4M1470.5 977.5V1009.9M1471.5 984.7V1009M1473.5 980.6V1008M1476.5 972.1V1008.3M1479.5 971.4V1014.1M1480.5 984.1V1007.8M1481.5 981V1007.5M1485.5 985V1010.5M1486.5 969.4V1012.2M1487.5 983.1V1013.3M1488.5 969V1013.8M1489.5 973.5V1012.4M1492.5 975.2V1013M1493.5 976.8V1009.9M1494.5 977.4V1009.1M1495.5 972.5V1012.5M1496.5 975.6V1008.2M1497.5 971.3V1008.9M1498.5 978.5V1008.7M1499.5 972.8V1011M1500.5 970.1V1010.7" stroke="#231f20" stroke-width="0.85" fill="none" />
<path d="M1238.5 961.4V985M1240.5 966.4V980.2M1242.5 968.9V981.2M1247.5 950.8V981M1248.5 962.3V980.3M1250.5 962.9V980.1M1253.5 967V981.3M1254.5 962.4V983.5M1258.5 952V980.1M1269.5 956.3V981.9M1274.5 962.3V984.1M1276.5 962.8V980.8M1277.5 968.5V983.5M1282.5 950.1V983.7M1283.5 969.1V979.7M1286.5 968.3V983.1M1290.5 960.3V984.2M1293.5 962.5V979.3M1294.5 952.5V983.1M1295.5 963.7V984.2M1299.5 965.9V984.3M1302.5 959V981M1304.5 957.7V982.6M1305.5 950.9V984.6M1307.5 964.2V979.6M1314.5 952.1V981.7M1318.5 959.4V980.9M1322.5 953.8V980.6M1323.5 955.7V983.7M1326.5 958.9V980.4M1327.5 961V984.2M1328.5 953.4V984.2M1330.5 950V982.1M1334.5 969.1V983.3M1335.5 956.8V980.3M1337.5 955V983M1338.5 954.6V983.9M1339.5 960.6V980M1342.5 956.7V979.2M1344.5 962V979.2M1347.5 951.1V981.5M1348.5 952.3V979.6M1352.5 950.3V979.3M1354.5 952.4V982M1360.5 968.5V983.5M1364.5 953.7V981.7M1368.5 958.6V983.7M1372.5 951V983.7M1375.5 955.6V980M1378.5 950.6V983.4M1380.5 963V981.4M1383.5 964.2V984.4M1385.5 954V984.9M1388.5 962.3V983.4M1395.5 951.7V979.6M1404.5 957.9V983.4M1405.5 955.5V979M1409.5 961.7V981.1M1417.5 955.9V983.2M1418.5 959.8V980.1M1422.5 958.3V982.9M1423.5 965.8V982.7M1426.5 957.1V984.4M1427.5 962.5V981.3M1429.5 959.3V984.2M1431.5 960.4V981.7M1437.5 952.3V979M1444.5 956.7V983.4M1445.5 956.8V984.7M1452.5 960V979.4M1453.5 963.9V980.6M1454.5 958.9V979.4M1455.5 968.9V981.2M1457.5 964.6V983.2M1459.5 966.5V981.5M1460.5 964.2V984.2M1462.5 950.3V980.6M1463.5 961.1V983.6M1467.5 958.3V979.2M1471.5 963.9V984.9M1472.5 958.8V980.7M1474.5 960.8V984.5M1476.5 964.1V980.6M1477.5 969.8V983.1M1479.5 951.7V984.8M1485.5 968.7V979.4M1487.5 955.1V979.3M1488.5 967.1V981M1489.5 963.9V981M1495.5 958.5V981.5M1497.5 969.2V980.5" stroke="#555253" stroke-width="0.9" fill="none" />
<path d="M1232.5 988.9 L1233.4 989.9 L1234.3 986.5 L1235.2 988.6 L1236.1 998.1 L1237 988.7 L1237.9 989.4 L1238.8 988.5 L1239.7 988.9 L1240.6 989.6 L1241.5 993.3 L1242.4 991.1 L1243.3 988.5 L1244.2 991.9 L1245.1 987.4 L1246 987.8 L1246.9 989.7 L1247.8 982.2 L1248.7 991.8 L1249.6 984.6 L1250.5 991.3 L1251.4 988.2 L1252.3 985.5 L1253.2 984.9 L1254.1 987.6 L1255 989.8 L1255.9 995 L1256.8 985.7 L1257.7 988.7 L1258.6 988 L1259.5 992.7 L1260.4 985.1 L1261.3 987.7 L1262.2 986.8 L1263.1 991.1 L1264 983.4 L1264.9 988.4 L1265.8 987.3 L1266.7 991.7 L1267.6 988.2 L1268.5 986.5 L1269.4 984.7 L1270.3 983.5 L1271.2 990 L1272.1 989.6 L1273 992.5 L1273.9 989.1 L1274.8 989.5 L1275.7 990 L1276.6 993.4 L1277.5 997 L1278.4 988.6 L1279.3 989.8 L1280.2 984.8 L1281.1 984.9 L1282 989.9 L1282.9 988.4 L1283.8 991.5 L1284.7 991.4 L1285.6 983.2 L1286.5 992.6 L1287.4 990.7 L1288.3 991.5 L1289.2 990.1 L1290.1 991 L1291 994.2 L1291.9 989.7 L1292.8 992.3 L1293.7 980 L1294.6 991.8 L1295.5 990.5 L1296.4 989.5 L1297.3 987.2 L1298.2 988.3 L1299.1 985.1 L1300 990.3 L1300.9 988.2 L1301.8 987.2 L1302.7 994.1 L1303.6 986.1 L1304.5 988.3 L1305.4 985.5 L1306.3 988.7 L1307.2 984.3 L1308.1 996.9 L1309 987.5 L1309.9 983.3 L1310.8 984.5 L1311.7 992.8 L1312.6 988.6 L1313.5 991.3 L1314.4 995.3 L1315.3 989.9 L1316.2 990.4 L1317.1 992 L1318 987.5 L1318.9 985.2 L1319.8 993.1 L1320.7 985.6 L1321.6 991.8 L1322.5 987.7 L1323.4 983.5 L1324.3 987.7 L1325.2 993.5 L1326.1 992 L1327 992.6 L1327.9 992.2 L1328.8 981.7 L1329.7 988.2 L1330.6 986.8 L1331.5 988.5 L1332.4 992.4 L1333.3 988.5 L1334.2 989.4 L1335.1 990.6 L1336 990.3 L1336.9 985.5 L1337.8 989.1 L1338.7 985.4 L1339.6 992.4 L1340.5 981.7 L1341.4 986.3 L1342.3 986.6 L1343.2 991.2 L1344.1 983.5 L1345 991.2 L1345.9 989.1 L1346.8 987.9 L1347.7 985.6 L1348.6 989.7 L1349.5 989.2 L1350.4 989.2 L1351.3 989.3 L1352.2 985.6 L1353.1 986.4 L1354 982.3 L1354.9 990.8 L1355.8 989.9 L1356.7 987.5 L1357.6 984.8 L1358.5 989.3 L1359.4 991 L1360.3 995.1 L1361.2 986.6 L1362.1 987.3 L1363 992.8 L1363.9 984.7 L1364.8 990.6 L1365.7 992.9 L1366.6 989.4 L1367.5 988.5 L1368.4 980.4 L1369.3 986.8 L1370.2 992.3 L1371.1 990.1 L1372 984.8 L1372.9 988 L1373.8 989.9 L1374.7 990.9 L1375.6 986.6 L1376.5 984.1 L1377.4 989.1 L1378.3 991 L1379.2 986.5 L1380.1 987.4 L1381 996.6 L1381.9 992 L1382.8 992 L1383.7 986.1 L1384.6 982.6 L1385.5 982.9 L1386.4 993.5 L1387.3 989.7 L1388.2 991.5 L1389.1 992.7 L1390 986 L1390.9 992 L1391.8 987.1 L1392.7 988.2 L1393.6 986 L1394.5 986.8 L1395.4 991.6 L1396.3 988.2 L1397.2 987.2 L1398.1 979.9 L1399 991.9 L1399.9 985.7 L1400.8 995.6 L1401.7 988.5 L1402.6 983.4 L1403.5 990.4 L1404.4 991.2 L1405.3 987.3 L1406.2 983.5 L1407.1 990.2 L1408 987.1 L1408.9 993.9 L1409.8 995.2 L1410.7 985.8 L1411.6 991.3 L1412.5 991.4 L1413.4 991.1 L1414.3 986.7 L1415.2 990.3 L1416.1 991.4 L1417 990.7 L1417.9 987.8 L1418.8 985.2 L1419.7 993.7 L1420.6 985 L1421.5 993.9 L1422.4 992.9 L1423.3 988.3 L1424.2 988.5 L1425.1 985.9 L1426 988.4 L1426.9 989.9 L1427.8 983.2 L1428.7 994.1 L1429.6 987.6 L1430.5 990.6 L1431.4 989.2 L1432.3 987 L1433.2 982.9 L1434.1 987.1 L1435 994.7 L1435.9 983.3 L1436.8 988.1 L1437.7 984.8 L1438.6 988.1 L1439.5 985.1 L1440.4 990.8 L1441.3 986.8 L1442.2 982.2 L1443.1 993.3 L1444 985.6 L1444.9 991.8 L1445.8 992.9 L1446.7 990.6 L1447.6 984.9 L1448.5 985.6 L1449.4 992.5 L1450.3 990.4 L1451.2 985.2 L1452.1 985 L1453 994.1 L1453.9 988.8 L1454.8 989.3 L1455.7 986.4 L1456.6 990.9 L1457.5 989 L1458.4 996.1 L1459.3 989.5 L1460.2 987 L1461.1 993.5 L1462 984.8 L1462.9 993.1 L1463.8 994.2 L1464.7 984.8 L1465.6 989.9 L1466.5 998.4 L1467.4 993.4 L1468.3 987.8 L1469.2 991.7 L1470.1 989.9 L1471 990.7 L1471.9 985 L1472.8 990.3 L1473.7 990 L1474.6 990.5 L1475.5 987.1 L1476.4 980.3 L1477.3 991.4 L1478.2 1002.8 L1479.1 991 L1480 987.4 L1480.9 988.7 L1481.8 990.3 L1482.7 995.6 L1483.6 989.5 L1484.5 990.4 L1485.4 985.8 L1486.3 986.1 L1487.2 987.3 L1488.1 991 L1489 989.8 L1489.9 986 L1490.8 994.9 L1491.7 984.7 L1492.6 993.3 L1493.5 981.6 L1494.4 987.4 L1495.3 989.9 L1496.2 992.2 L1497.1 995.7 L1498 984.9 L1498.9 988.3 L1499.8 989.5 L1500.7 990.8" stroke="#231f20" stroke-width="1.0" fill="none" stroke-linejoin="round"/>
<path d="M1558.8 999.5 L1559.8 996.8 L1560.9 1003.8 L1561.9 993.6 L1563 998.4 L1564 991 L1565.1 1002.7 L1566.1 1004.3 L1567.2 1010.4 L1568.2 1004.8 L1569.3 1006.2 L1570.3 1003.6 L1571.4 1000.2 L1572.4 1002.5 L1573.5 997.2 L1574.5 998.6 L1575.6 1004.1 L1576.6 1003.9 L1577.7 1001.6 L1578.7 1012.3 L1579.8 1007.8 L1580.8 1002.6 L1581.9 1003.3 L1582.9 1000.5 L1584 999.7 L1585 999.4 L1586.1 1010.1 L1587.1 1006.2 L1588.2 1004.9 L1589.2 1006.5 L1590.3 1013.5 L1591.3 1006.6 L1592.4 1001.2 L1593.4 1012.8 L1594.5 1000.4 L1595.5 999.2 L1596.6 1003.3 L1597.6 1012.7 L1598.7 1002.5 L1599.7 990.5 L1600.8 998.8 L1601.8 997.4 L1602.9 997.3 L1603.9 1001.2 L1605 1002 L1606 1002.6 L1607.1 999.6 L1608.1 1006 L1609.2 1010.2 L1610.2 1005.5 L1611.3 1000.8 L1612.3 1004 L1613.4 1004.3 L1614.4 997.5 L1615.5 996.7 L1616.5 1003.2 L1617.6 1001.2 L1618.6 999.1 L1619.7 1000.5 L1620.7 1000.1 L1621.8 999.9 L1622.8 991 L1623.9 1003.4 L1624.9 1002.5 L1626 997 L1627 1002.8 L1628.1 1002.6 L1629.1 1001.1 L1630.2 1005.1 L1631.2 1012.6 L1632.3 1008.5 L1633.3 1011.2 L1634.4 1015.1 L1635.4 1002.5 L1636.5 998.4 L1637.5 1002.3 L1638.6 992.8 L1639.6 994.7 L1640.7 1002.7 L1641.7 1005.6 L1642.8 1004.9 L1643.8 993.1 L1644.9 1006.7 L1645.9 1005.2 L1647 1005.4 L1648 1004.3 L1649.1 993.5 L1650.1 989.4 L1651.2 988.3 L1652.2 1002.2 L1653.3 996.5 L1654.3 996.4 L1655.4 996.2 L1656.4 1000 L1657.5 1001.5 L1658.5 1001.2 L1659.6 994 L1660.6 981.7 L1661.7 990.8 L1662.7 995.8 L1663.8 1002.7 L1664.8 1000.1 L1665.9 996.4 L1666.9 999.2 L1668 991.6 L1669 990.2 L1670.1 989.6 L1671.1 995.3 L1672.2 1006.4 L1673.2 1005.8 L1674.3 1007.3 L1675.3 1003.9 L1676.4 1002.3 L1677.4 998.2 L1678.5 996.9 L1679.5 986.4 L1680.6 986.7 L1681.6 986.5 L1682.7 996.2 L1683.7 1000.2 L1684.8 1004.4 L1685.8 1008.4 L1686.9 1001.9 L1687.9 1004.8 L1689 1010.5 L1690 1004.2 L1691.1 1006.2 L1692.1 1001.4 L1693.2 992.3 L1694.2 995.7 L1695.3 993.1 L1696.3 996.1 L1697.4 994.9 L1698.4 997.9 L1699.5 988.1 L1700.5 1002.7 L1701.6 1006.7 L1702.6 1000.9 L1703.7 995.5 L1704.7 997.1 L1705.8 1001 L1706.8 1001.8 L1707.9 1002.2 L1708.9 991.5 L1710 990.1 L1711 1000.8 L1712.1 1001.2 L1713.1 993.3 L1714.2 992.4 L1715.2 989.4 L1716.3 989.9 L1717.3 1000.3 L1718.4 999.1 L1719.4 1004.8 L1720.5 1003.3 L1721.5 994.8 L1722.6 994.6 L1723.6 1008.2 L1724.7 1000.8 L1725.7 995.8 L1726.8 1004.1 L1727.8 1002.9 L1728.9 1001.9 L1729.9 1008.4 L1731 996.5 L1732 1000.9 L1733.1 996.2 L1734.1 992.3 L1735.2 993.1 L1736.2 1002.8 L1737.3 1001.7 L1738.3 993.2 L1739.4 992.4 L1740.4 1004.4 L1741.5 1008.1 L1742.5 1000 L1743.6 1012.5 L1744.6 1005.7 L1745.7 998.4 L1746.7 999.8 L1747.8 1005.5 L1748.8 1011.6 L1749.9 1011.9 L1750.9 1005.2 L1752 1001.3 L1753 995.2 L1754.1 998.6 L1755.1 997.9 L1756.2 1001.5 L1757.2 996.3 L1758.3 997.2 L1759.3 996 L1760.4 993.9 L1761.4 992.9 L1762.5 993.3 L1763.5 992.7 L1764.6 1000.7 L1765.6 1002.5 L1766.7 996.7 L1767.7 1002.5 L1768.8 1004.3 L1769.8 1010.8 L1770.9 1006.3 L1771.9 1004 L1773 1000.6 L1774 1002.8 L1775.1 1005.6 L1776.1 1005.6 L1777.2 1003.5 L1778.2 1006.4 L1779.3 1005.6 L1780.3 1006 L1781.4 1000.7 L1782.4 1003.4 L1783.5 999.1 L1784.5 997.7 L1785.6 1001.8 L1786.6 1013 L1787.7 1013.4 L1788.7 1009 L1789.8 1005.9 L1790.8 1009.9 L1791.9 1013.7 L1792.9 1014.9 L1794 1008.8 L1795 1007.6 L1796.1 1004.5 L1797.1 1003.2 L1798.2 999.9 L1799.2 1001.1 L1800.3 992.7 L1801.3 993.1 L1802.4 1000.9 L1803.4 998.4 L1804.5 1004.1 L1805.5 998.3 L1806.6 999.8 L1807.6 1004.1 L1808.7 999.6 L1809.7 998.8 L1810.8 1013.4 L1811.8 1005.9 L1812.9 1002.1 L1813.9 1000.7 L1815 1003 L1816 1003.8 L1817.1 1009 L1818.1 1010.7 L1819.2 1005.9 L1820.2 1003.7 L1821.3 997.7 L1822.3 994.3 L1823.4 996.1 L1824.4 1004 L1825.5 1005.1 L1826.5 1008.8" stroke="#2a2a2a" stroke-width="1.05" fill="none" stroke-linejoin="round"/>
<path d="M1653.7 763.2V1016M1656.4 763.2V1016M1660.1 763.2V1016M1682.1 763.2V1016M1685.6 763.2V1016" stroke="#3a3a3a" stroke-width="0.9" fill="none" />
<path d="M1758.4 766.3V1013" stroke="#3a3a3a" stroke-width="0.9" fill="none" />
</g>
<g id="charts">
<text x="14.35" y="1166.90" font-size="37" font-weight="bold" >C</text>
<path d="M113.4 1701.6V1687.3H176.0V1701.6" fill="none" stroke="#000" stroke-width="1.8"/>
<path d="M193.0 1701.6V1624.2H255.6V1701.6" fill="none" stroke="#2a8cf5" stroke-width="1.8"/>
<path d="M272.7 1701.6V1565.6H335.3V1701.6" fill="none" stroke="#f47f17" stroke-width="1.8"/>
<path d="M352.3 1701.6V1572.5H414.9V1701.6" fill="none" stroke="#f47f17" stroke-width="1.8"/>
<path d="M144.7 1687.3V1682M138.7 1682H150.7" stroke="#000" stroke-width="1.4" fill="none" />
<path d="M224.3 1624.2V1612.9M216 1612.9H232.6" stroke="#000" stroke-width="1.4" fill="none" />
<path d="M304 1565.6V1540.2M295.7 1540.2H312.3" stroke="#000" stroke-width="1.4" fill="none" />
<path d="M383.6 1572.5V1543.8M375.3 1543.8H391.9" stroke="#000" stroke-width="1.4" fill="none" />
<line x1="81.50" y1="1336.10" x2="81.50" y2="1702.60" stroke="#000" stroke-width="2.2" />
<line x1="71.80" y1="1701.60" x2="448.20" y2="1701.60" stroke="#000" stroke-width="2.2" />
<line x1="71.80" y1="1337.10" x2="81.50" y2="1337.10" stroke="#000" stroke-width="2" />
<text x="34.00" y="1347.10" font-size="30.7" >10</text>
<line x1="76.50" y1="1373.50" x2="81.50" y2="1373.50" stroke="#000" stroke-width="2" />
<line x1="71.80" y1="1409.90" x2="81.50" y2="1409.90" stroke="#000" stroke-width="2" />
<text x="51.19" y="1419.90" font-size="30.7" >8</text>
<line x1="76.50" y1="1446.25" x2="81.50" y2="1446.25" stroke="#000" stroke-width="2" />
<line x1="71.80" y1="1482.60" x2="81.50" y2="1482.60" stroke="#000" stroke-width="2" />
<text x="51.19" y="1492.60" font-size="30.7" >6</text>
<line x1="76.50" y1="1519.20" x2="81.50" y2="1519.20" stroke="#000" stroke-width="2" />
<line x1="71.80" y1="1555.80" x2="81.50" y2="1555.80" stroke="#000" stroke-width="2" />
<text x="50.88" y="1565.80" font-size="30.7" >4</text>
<line x1="76.50" y1="1592.30" x2="81.50" y2="1592.30" stroke="#000" stroke-width="2" />
<line x1="71.80" y1="1628.80" x2="81.50" y2="1628.80" stroke="#000" stroke-width="2" />
<text x="51.50" y="1638.80" font-size="30.7" >2</text>
<line x1="76.50" y1="1665.20" x2="81.50" y2="1665.20" stroke="#000" stroke-width="2" />
<line x1="71.80" y1="1701.60" x2="81.50" y2="1701.60" stroke="#000" stroke-width="2" />
<text x="51.04" y="1711.60" font-size="30.7" >0</text>
<line x1="144.70" y1="1701.60" x2="144.70" y2="1711.30" stroke="#000" stroke-width="2" />
<line x1="223.60" y1="1701.60" x2="223.60" y2="1711.30" stroke="#000" stroke-width="2" />
<line x1="303.20" y1="1701.60" x2="303.20" y2="1711.30" stroke="#000" stroke-width="2" />
<line x1="383.00" y1="1701.60" x2="383.00" y2="1711.30" stroke="#000" stroke-width="2" />
<text font-size="29.6" text-anchor="middle" transform="translate(21.2 1519.0) rotate(-90)">Firing rate (Hz)</text>
<rect x="138.9" y="1637.7" width="12.6" height="12.6" fill="#fff" stroke="#000" stroke-width="1.9"/>
<rect x="142.4" y="1660.2" width="12.6" height="12.6" fill="#fff" stroke="#000" stroke-width="1.9"/>
<rect x="120.3" y="1668.3" width="12.6" height="12.6" fill="#fff" stroke="#000" stroke-width="1.9"/>
<rect x="149.7" y="1672.5" width="12.6" height="12.6" fill="#fff" stroke="#000" stroke-width="1.9"/>
<rect x="113.0" y="1679.3" width="12.6" height="12.6" fill="#fff" stroke="#000" stroke-width="1.9"/>
<rect x="127.7" y="1676.6" width="12.6" height="12.6" fill="#fff" stroke="#000" stroke-width="1.9"/>
<rect x="142.4" y="1679.3" width="12.6" height="12.6" fill="#fff" stroke="#000" stroke-width="1.9"/>
<rect x="157.3" y="1678.6" width="12.6" height="12.6" fill="#fff" stroke="#000" stroke-width="1.9"/>
<rect x="165.1" y="1686.4" width="12.6" height="12.6" fill="#fff" stroke="#000" stroke-width="1.9"/>
<rect x="118.6" y="1685.9" width="12.6" height="12.6" fill="#fff" stroke="#000" stroke-width="1.9"/>
<rect x="150.4" y="1687.2" width="12.6" height="12.6" fill="#fff" stroke="#000" stroke-width="1.9"/>
<rect x="127.7" y="1689.9" width="12.6" height="12.6" fill="#fff" stroke="#000" stroke-width="1.9"/>
<rect x="113.0" y="1695.3" width="12.6" height="12.6" fill="#fff" stroke="#000" stroke-width="1.9"/>
<rect x="142.4" y="1695.7" width="12.6" height="12.6" fill="#fff" stroke="#000" stroke-width="1.9"/>
<rect x="157.3" y="1695.3" width="12.6" height="12.6" fill="#fff" stroke="#000" stroke-width="1.9"/>
<rect x="166.4" y="1694.8" width="12.6" height="12.6" fill="#fff" stroke="#000" stroke-width="1.9"/>
<rect x="218.5" y="1541.9" width="12.6" height="12.6" fill="#1e83f0" stroke="#000" stroke-width="1.9"/>
<rect x="205.0" y="1564.7" width="12.6" height="12.6" fill="#1e83f0" stroke="#000" stroke-width="1.9"/>
<rect x="231.3" y="1570.1" width="12.6" height="12.6" fill="#1e83f0" stroke="#000" stroke-width="1.9"/>
<rect x="192.1" y="1586.8" width="12.6" height="12.6" fill="#1e83f0" stroke="#000" stroke-width="1.9"/>
<rect x="244.2" y="1592.4" width="12.6" height="12.6" fill="#1e83f0" stroke="#000" stroke-width="1.9"/>
<rect x="192.1" y="1602.7" width="12.6" height="12.6" fill="#1e83f0" stroke="#000" stroke-width="1.9"/>
<rect x="218.0" y="1599.0" width="12.6" height="12.6" fill="#1e83f0" stroke="#000" stroke-width="1.9"/>
<rect x="244.2" y="1604.4" width="12.6" height="12.6" fill="#1e83f0" stroke="#000" stroke-width="1.9"/>
<rect x="192.1" y="1618.8" width="12.6" height="12.6" fill="#1e83f0" stroke="#000" stroke-width="1.9"/>
<rect x="218.0" y="1621.0" width="12.6" height="12.6" fill="#1e83f0" stroke="#000" stroke-width="1.9"/>
<rect x="218.0" y="1639.4" width="12.6" height="12.6" fill="#1e83f0" stroke="#000" stroke-width="1.9"/>
<rect x="192.1" y="1652.6" width="12.6" height="12.6" fill="#1e83f0" stroke="#000" stroke-width="1.9"/>
<rect x="244.2" y="1660.2" width="12.6" height="12.6" fill="#1e83f0" stroke="#000" stroke-width="1.9"/>
<rect x="218.0" y="1666.8" width="12.6" height="12.6" fill="#1e83f0" stroke="#000" stroke-width="1.9"/>
<rect x="244.2" y="1672.7" width="12.6" height="12.6" fill="#1e83f0" stroke="#000" stroke-width="1.9"/>
<rect x="192.1" y="1677.1" width="12.6" height="12.6" fill="#1e83f0" stroke="#000" stroke-width="1.9"/>
<rect x="297.6" y="1444.0" width="12.6" height="12.6" fill="#f9a24e" stroke="#000" stroke-width="1.9"/>
<rect x="297.6" y="1518.4" width="12.6" height="12.6" fill="#f9a24e" stroke="#000" stroke-width="1.9"/>
<rect x="285.9" y="1554.4" width="12.6" height="12.6" fill="#f9a24e" stroke="#000" stroke-width="1.9"/>
<rect x="309.1" y="1559.1" width="12.6" height="12.6" fill="#f9a24e" stroke="#000" stroke-width="1.9"/>
<rect x="297.6" y="1573.3" width="12.6" height="12.6" fill="#f9a24e" stroke="#000" stroke-width="1.9"/>
<rect x="297.6" y="1614.2" width="12.6" height="12.6" fill="#f9a24e" stroke="#000" stroke-width="1.9"/>
<rect x="297.6" y="1646.8" width="12.6" height="12.6" fill="#f9a24e" stroke="#000" stroke-width="1.9"/>
<rect x="377.2" y="1373.7" width="12.6" height="12.6" fill="#f9a24e" stroke="#000" stroke-width="1.9"/>
<rect x="377.2" y="1519.7" width="12.6" height="12.6" fill="#f9a24e" stroke="#000" stroke-width="1.9"/>
<rect x="364.0" y="1567.2" width="12.6" height="12.6" fill="#f9a24e" stroke="#000" stroke-width="1.9"/>
<rect x="390.2" y="1560.6" width="12.6" height="12.6" fill="#f9a24e" stroke="#000" stroke-width="1.9"/>
<rect x="350.8" y="1587.3" width="12.6" height="12.6" fill="#f9a24e" stroke="#000" stroke-width="1.9"/>
<rect x="377.2" y="1594.6" width="12.6" height="12.6" fill="#f9a24e" stroke="#000" stroke-width="1.9"/>
<rect x="403.2" y="1590.9" width="12.6" height="12.6" fill="#f9a24e" stroke="#000" stroke-width="1.9"/>
<rect x="377.2" y="1634.0" width="12.6" height="12.6" fill="#f9a24e" stroke="#000" stroke-width="1.9"/>
<rect x="377.2" y="1661.5" width="12.6" height="12.6" fill="#f9a24e" stroke="#000" stroke-width="1.9"/>
<text font-size="31.3" text-anchor="end" transform="translate(152.3 1736.6) rotate(-45)">Basal</text>
<text font-size="31.3" text-anchor="end" transform="translate(231.2 1736.6) rotate(-45)">kp-10</text>
<text font-size="31.3" text-anchor="end" transform="translate(304.0 1744.0) rotate(-45)">kp-10 + L-NAME</text>
<text font-size="31.3" text-anchor="end" transform="translate(390.6 1736.6) rotate(-45)">kp-10 + ODQ</text>
<path d="M144.6 1367.2V1352.9H219.9V1367.2" stroke="#000" stroke-width="2.0" fill="none" />
<path d="M228.8 1367.2V1352.9H299.5V1367.2" stroke="#000" stroke-width="2.0" fill="none" />
<path d="M308.4 1367.2V1352.9H383.2V1367.2" stroke="#000" stroke-width="2.0" fill="none" />
<text x="159.07" y="1360.80" font-size="57.5" font-weight="bold" >**</text>
<line x1="170.90" y1="1313.90" x2="191.80" y2="1313.90" stroke="#000" stroke-width="2" />
<text x="170.19" y="1325.90" font-size="57.5" font-weight="bold" >*</text>
<text x="244.77" y="1362.90" font-size="57.5" font-weight="bold" >**</text>
<text x="329.79" y="1339.90" font-size="35.6" >ns</text>
<path d="M224.2 1312.1V1297.8H383.2V1312.1" stroke="#000" stroke-width="2.0" fill="none" />
<text x="295.59" y="1308.80" font-size="57.5" font-weight="bold" >*</text>
<path d="M144.6 1258.8V1244.5H304.1V1258.8" stroke="#000" stroke-width="2.0" fill="none" />
<text x="191.46" y="1255.70" font-size="57.5" font-weight="bold" >***</text>
<path d="M144.6 1206.5V1192.2H383.2V1206.5" stroke="#000" stroke-width="2.0" fill="none" />
<text x="239.47" y="1205.20" font-size="57.5" font-weight="bold" >**</text>
<text x="506.87" y="1166.80" font-size="37" font-weight="bold" >D</text>
<path d="M644.4 1349.8V1562.3H706.4V1349.8" fill="none" stroke="#000" stroke-width="1.8"/>
<path d="M724.2 1349.8V1549.6H786.0V1349.8" fill="none" stroke="#2a8cf5" stroke-width="1.8"/>
<path d="M803.8 1349.8V1551.1H865.9V1349.8" fill="none" stroke="#f47f17" stroke-width="1.8"/>
<path d="M884.1 1349.8V1533.8H946.2V1349.8" fill="none" stroke="#f47f17" stroke-width="1.8"/>
<path d="M675 1562.3V1559M669 1559H681" stroke="#000" stroke-width="1.4" fill="none" />
<path d="M755 1549.6V1544.5M747 1544.5H763" stroke="#000" stroke-width="1.4" fill="none" />
<path d="M835 1551.1V1546.5M827 1546.5H843" stroke="#000" stroke-width="1.4" fill="none" />
<path d="M915 1533.8V1528.5M907 1528.5H923" stroke="#000" stroke-width="1.4" fill="none" />
<line x1="611.50" y1="1349.80" x2="611.50" y2="1717.90" stroke="#000" stroke-width="2.2" />
<line x1="602.00" y1="1349.80" x2="981.00" y2="1349.80" stroke="#000" stroke-width="2.6" />
<line x1="602.00" y1="1716.90" x2="981.00" y2="1716.90" stroke="#000" stroke-width="2.2" />
<line x1="601.80" y1="1349.80" x2="611.50" y2="1349.80" stroke="#000" stroke-width="2" />
<text x="581.04" y="1359.80" font-size="30.7" >0</text>
<line x1="601.80" y1="1423.10" x2="611.50" y2="1423.10" stroke="#000" stroke-width="2" />
<text x="553.71" y="1433.10" font-size="30.7" >-20</text>
<line x1="601.80" y1="1496.30" x2="611.50" y2="1496.30" stroke="#000" stroke-width="2" />
<text x="553.71" y="1506.30" font-size="30.7" >-40</text>
<line x1="601.80" y1="1569.70" x2="611.50" y2="1569.70" stroke="#000" stroke-width="2" />
<text x="553.71" y="1579.70" font-size="30.7" >-60</text>
<line x1="601.80" y1="1643.20" x2="611.50" y2="1643.20" stroke="#000" stroke-width="2" />
<text x="553.71" y="1653.20" font-size="30.7" >-80</text>
<line x1="601.80" y1="1716.90" x2="611.50" y2="1716.90" stroke="#000" stroke-width="2" />
<text x="536.67" y="1726.90" font-size="30.7" >-100</text>
<line x1="675.00" y1="1716.90" x2="675.00" y2="1726.30" stroke="#000" stroke-width="2" />
<line x1="754.30" y1="1716.90" x2="754.30" y2="1726.30" stroke="#000" stroke-width="2" />
<line x1="834.40" y1="1716.90" x2="834.40" y2="1726.30" stroke="#000" stroke-width="2" />
<line x1="914.80" y1="1716.90" x2="914.80" y2="1726.30" stroke="#000" stroke-width="2" />
<text font-size="29.6" text-anchor="middle" transform="translate(523.2 1543.5) rotate(-90)">Membrane potential (mV)</text>
<rect x="655.7" y="1503.5" width="12.6" height="12.6" fill="#fff" stroke="#000" stroke-width="1.9"/>
<rect x="669.2" y="1514.0" width="12.6" height="12.6" fill="#fff" stroke="#000" stroke-width="1.9"/>
<rect x="682.5" y="1532.6" width="12.6" height="12.6" fill="#fff" stroke="#000" stroke-width="1.9"/>
<rect x="655.7" y="1537.7" width="12.6" height="12.6" fill="#fff" stroke="#000" stroke-width="1.9"/>
<rect x="669.2" y="1538.2" width="12.6" height="12.6" fill="#fff" stroke="#000" stroke-width="1.9"/>
<rect x="682.5" y="1545.3" width="12.6" height="12.6" fill="#fff" stroke="#000" stroke-width="1.9"/>
<rect x="669.2" y="1547.9" width="12.6" height="12.6" fill="#fff" stroke="#000" stroke-width="1.9"/>
<rect x="655.7" y="1555.5" width="12.6" height="12.6" fill="#fff" stroke="#000" stroke-width="1.9"/>
<rect x="642.4" y="1566.3" width="12.6" height="12.6" fill="#fff" stroke="#000" stroke-width="1.9"/>
<rect x="655.7" y="1568.8" width="12.6" height="12.6" fill="#fff" stroke="#000" stroke-width="1.9"/>
<rect x="669.2" y="1568.8" width="12.6" height="12.6" fill="#fff" stroke="#000" stroke-width="1.9"/>
<rect x="642.4" y="1579.0" width="12.6" height="12.6" fill="#fff" stroke="#000" stroke-width="1.9"/>
<rect x="682.5" y="1577.2" width="12.6" height="12.6" fill="#fff" stroke="#000" stroke-width="1.9"/>
<rect x="695.7" y="1580.3" width="12.6" height="12.6" fill="#fff" stroke="#000" stroke-width="1.9"/>
<rect x="669.2" y="1588.7" width="12.6" height="12.6" fill="#fff" stroke="#000" stroke-width="1.9"/>
<rect x="669.2" y="1608.9" width="12.6" height="12.6" fill="#fff" stroke="#000" stroke-width="1.9"/>
<rect x="744.2" y="1505.0" width="12.6" height="12.6" fill="#1e83f0" stroke="#000" stroke-width="1.9"/>
<rect x="753.4" y="1510.4" width="12.6" height="12.6" fill="#1e83f0" stroke="#000" stroke-width="1.9"/>
<rect x="757.7" y="1526.7" width="12.6" height="12.6" fill="#1e83f0" stroke="#000" stroke-width="1.9"/>
<rect x="748.0" y="1531.0" width="12.6" height="12.6" fill="#1e83f0" stroke="#000" stroke-width="1.9"/>
<rect x="767.2" y="1535.1" width="12.6" height="12.6" fill="#1e83f0" stroke="#000" stroke-width="1.9"/>
<rect x="738.6" y="1536.1" width="12.6" height="12.6" fill="#1e83f0" stroke="#000" stroke-width="1.9"/>
<rect x="729.7" y="1537.7" width="12.6" height="12.6" fill="#1e83f0" stroke="#000" stroke-width="1.9"/>
<rect x="775.6" y="1544.1" width="12.6" height="12.6" fill="#1e83f0" stroke="#000" stroke-width="1.9"/>
<rect x="720.7" y="1546.6" width="12.6" height="12.6" fill="#1e83f0" stroke="#000" stroke-width="1.9"/>
<rect x="757.7" y="1544.6" width="12.6" height="12.6" fill="#1e83f0" stroke="#000" stroke-width="1.9"/>
<rect x="729.7" y="1550.4" width="12.6" height="12.6" fill="#1e83f0" stroke="#000" stroke-width="1.9"/>
<rect x="748.0" y="1552.2" width="12.6" height="12.6" fill="#1e83f0" stroke="#000" stroke-width="1.9"/>
<rect x="738.6" y="1554.3" width="12.6" height="12.6" fill="#1e83f0" stroke="#000" stroke-width="1.9"/>
<rect x="767.2" y="1553.0" width="12.6" height="12.6" fill="#1e83f0" stroke="#000" stroke-width="1.9"/>
<rect x="757.7" y="1559.9" width="12.6" height="12.6" fill="#1e83f0" stroke="#000" stroke-width="1.9"/>
<rect x="740.1" y="1570.3" width="12.6" height="12.6" fill="#1e83f0" stroke="#000" stroke-width="1.9"/>
<rect x="828.6" y="1518.0" width="12.6" height="12.6" fill="#f9a24e" stroke="#000" stroke-width="1.9"/>
<rect x="820.5" y="1539.7" width="12.6" height="12.6" fill="#f9a24e" stroke="#000" stroke-width="1.9"/>
<rect x="837.3" y="1545.1" width="12.6" height="12.6" fill="#f9a24e" stroke="#000" stroke-width="1.9"/>
<rect x="855.4" y="1543.0" width="12.6" height="12.6" fill="#f9a24e" stroke="#000" stroke-width="1.9"/>
<rect x="802.4" y="1550.2" width="12.6" height="12.6" fill="#f9a24e" stroke="#000" stroke-width="1.9"/>
<rect x="837.3" y="1559.1" width="12.6" height="12.6" fill="#f9a24e" stroke="#000" stroke-width="1.9"/>
<rect x="820.0" y="1565.0" width="12.6" height="12.6" fill="#f9a24e" stroke="#000" stroke-width="1.9"/>
<rect x="901.9" y="1502.7" width="12.6" height="12.6" fill="#f9a24e" stroke="#000" stroke-width="1.9"/>
<rect x="915.4" y="1502.0" width="12.6" height="12.6" fill="#f9a24e" stroke="#000" stroke-width="1.9"/>
<rect x="882.2" y="1530.8" width="12.6" height="12.6" fill="#f9a24e" stroke="#000" stroke-width="1.9"/>
<rect x="895.0" y="1533.6" width="12.6" height="12.6" fill="#f9a24e" stroke="#000" stroke-width="1.9"/>
<rect x="908.5" y="1535.9" width="12.6" height="12.6" fill="#f9a24e" stroke="#000" stroke-width="1.9"/>
<rect x="921.8" y="1528.5" width="12.6" height="12.6" fill="#f9a24e" stroke="#000" stroke-width="1.9"/>
<rect x="935.3" y="1527.0" width="12.6" height="12.6" fill="#f9a24e" stroke="#000" stroke-width="1.9"/>
<rect x="921.8" y="1543.5" width="12.6" height="12.6" fill="#f9a24e" stroke="#000" stroke-width="1.9"/>
<rect x="895.5" y="1554.3" width="12.6" height="12.6" fill="#f9a24e" stroke="#000" stroke-width="1.9"/>
<text font-size="31.3" text-anchor="end" transform="translate(680.6 1756.4) rotate(-45)">Basal</text>
<text font-size="31.3" text-anchor="end" transform="translate(759.9 1756.6) rotate(-45)">kp-10</text>
<text font-size="31.3" text-anchor="end" transform="translate(843.8 1752.1) rotate(-45)">kp-10 + L-NAME</text>
<text font-size="31.3" text-anchor="end" transform="translate(926.7 1749.6) rotate(-45)">kp-10 + ODQ</text>
<path d="M675 1337V1322.7H750.5V1337" stroke="#000" stroke-width="2.0" fill="none" />
<path d="M759.7 1337V1322.7H830.9V1337" stroke="#000" stroke-width="2.0" fill="none" />
<path d="M839.5 1337V1322.7H915.1V1337" stroke="#000" stroke-width="2.0" fill="none" />
<text x="694.14" y="1314.30" font-size="34.76" >ns</text>
<line x1="701.50" y1="1287.00" x2="722.70" y2="1287.00" stroke="#000" stroke-width="2" />
<text x="701.19" y="1297.00" font-size="57.5" font-weight="bold" >*</text>
<text x="789.39" y="1330.10" font-size="57.5" font-weight="bold" >*</text>
<text x="859.44" y="1314.30" font-size="34.76" >ns</text>
<path d="M755.1 1280.1V1265.8H915.1V1280.1" stroke="#000" stroke-width="2.0" fill="none" />
<text x="816.65" y="1256.90" font-size="34.66" >ns</text>
<path d="M675 1224V1209.7H835.5V1224" stroke="#000" stroke-width="2.0" fill="none" />
<text x="746.49" y="1217.90" font-size="57.5" font-weight="bold" >*</text>
<path d="M675 1168.6V1154.3H915.1V1168.6" stroke="#000" stroke-width="2.0" fill="none" />
<text x="774.54" y="1139.50" font-size="34.76" >ns</text>
<text x="1072.89" y="1166.60" font-size="37" font-weight="bold" >E</text>
<path d="M1140.4 1716.7V1673.8H1203.1V1716.7" fill="#fca9a6" stroke="#000" stroke-width="1.8"/>
<path d="M1221.1 1716.7V1612.6H1283.2V1716.7" fill="#fca9a6" stroke="#2a8cf5" stroke-width="1.8"/>
<path d="M1301.2 1716.7V1694.0H1363.3V1716.7" fill="#fca9a6" stroke="#228a18" stroke-width="1.8"/>
<path d="M1381.3 1716.7V1699.3H1443.7V1716.7" fill="#fca9a6" stroke="#228a18" stroke-width="1.8"/>
<path d="M1171.8 1673.8V1660.1M1163.5 1660.1H1180.1" stroke="#000" stroke-width="1.4" fill="none" />
<path d="M1252 1612.6V1596.8M1241 1596.8H1263" stroke="#000" stroke-width="1.4" fill="none" />
<path d="M1332.3 1694V1686.8M1324 1686.8H1340.6" stroke="#000" stroke-width="1.4" fill="none" />
<path d="M1412.5 1699.3V1695M1404.2 1695H1420.8" stroke="#000" stroke-width="1.4" fill="none" />
<line x1="1107.90" y1="1345.80" x2="1107.90" y2="1717.70" stroke="#000" stroke-width="2.2" />
<line x1="1098.20" y1="1716.70" x2="1477.80" y2="1716.70" stroke="#000" stroke-width="2.2" />
<line x1="1098.20" y1="1346.80" x2="1107.90" y2="1346.80" stroke="#000" stroke-width="2" />
<text x="1058.60" y="1356.80" font-size="30.7" >10</text>
<line x1="1102.90" y1="1383.90" x2="1107.90" y2="1383.90" stroke="#000" stroke-width="2" />
<line x1="1098.20" y1="1421.00" x2="1107.90" y2="1421.00" stroke="#000" stroke-width="2" />
<text x="1075.79" y="1431.00" font-size="30.7" >8</text>
<line x1="1102.90" y1="1457.85" x2="1107.90" y2="1457.85" stroke="#000" stroke-width="2" />
<line x1="1098.20" y1="1494.70" x2="1107.90" y2="1494.70" stroke="#000" stroke-width="2" />
<text x="1075.79" y="1504.70" font-size="30.7" >6</text>
<line x1="1102.90" y1="1531.70" x2="1107.90" y2="1531.70" stroke="#000" stroke-width="2" />
<line x1="1098.20" y1="1568.70" x2="1107.90" y2="1568.70" stroke="#000" stroke-width="2" />
<text x="1075.48" y="1578.70" font-size="30.7" >4</text>
<line x1="1102.90" y1="1605.70" x2="1107.90" y2="1605.70" stroke="#000" stroke-width="2" />
<line x1="1098.20" y1="1642.70" x2="1107.90" y2="1642.70" stroke="#000" stroke-width="2" />
<text x="1076.10" y="1652.70" font-size="30.7" >2</text>
<line x1="1102.90" y1="1679.70" x2="1107.90" y2="1679.70" stroke="#000" stroke-width="2" />
<line x1="1098.20" y1="1716.70" x2="1107.90" y2="1716.70" stroke="#000" stroke-width="2" />
<text x="1075.64" y="1726.70" font-size="30.7" >0</text>
<line x1="1171.40" y1="1716.70" x2="1171.40" y2="1725.80" stroke="#000" stroke-width="2" />
<line x1="1251.80" y1="1716.70" x2="1251.80" y2="1725.80" stroke="#000" stroke-width="2" />
<line x1="1331.90" y1="1716.70" x2="1331.90" y2="1725.80" stroke="#000" stroke-width="2" />
<line x1="1412.00" y1="1716.70" x2="1412.00" y2="1725.80" stroke="#000" stroke-width="2" />
<text font-size="30" text-anchor="middle" transform="translate(1045.3 1531.0) rotate(-90)">Firing rate (Hz)</text>
<rect x="1165.9" y="1500.4" width="12.6" height="12.6" fill="#ee1133" stroke="#000" stroke-width="1.9"/>
<rect x="1165.9" y="1581.6" width="12.6" height="12.6" fill="#ee1133" stroke="#000" stroke-width="1.9"/>
<rect x="1165.9" y="1617.8" width="12.6" height="12.6" fill="#ee1133" stroke="#000" stroke-width="1.9"/>
<rect x="1170.2" y="1632.6" width="12.6" height="12.6" fill="#ee1133" stroke="#000" stroke-width="1.9"/>
<rect x="1160.8" y="1635.1" width="12.6" height="12.6" fill="#ee1133" stroke="#000" stroke-width="1.9"/>
<rect x="1165.1" y="1656.3" width="12.6" height="12.6" fill="#ee1133" stroke="#000" stroke-width="1.9"/>
<rect x="1174.3" y="1669.6" width="12.6" height="12.6" fill="#ee1133" stroke="#000" stroke-width="1.9"/>
<rect x="1156.5" y="1678.0" width="12.6" height="12.6" fill="#ee1133" stroke="#000" stroke-width="1.9"/>
<rect x="1174.3" y="1682.3" width="12.6" height="12.6" fill="#ee1133" stroke="#000" stroke-width="1.9"/>
<rect x="1183.8" y="1693.8" width="12.6" height="12.6" fill="#ee1133" stroke="#000" stroke-width="1.9"/>
<rect x="1174.3" y="1696.4" width="12.6" height="12.6" fill="#ee1133" stroke="#000" stroke-width="1.9"/>
<rect x="1147.5" y="1704.5" width="12.6" height="12.6" fill="#ee1133" stroke="#000" stroke-width="1.9"/>
<rect x="1165.1" y="1705.3" width="12.6" height="12.6" fill="#ee1133" stroke="#000" stroke-width="1.9"/>
<rect x="1182.5" y="1706.6" width="12.6" height="12.6" fill="#ee1133" stroke="#000" stroke-width="1.9"/>
<rect x="1138.3" y="1710.4" width="12.6" height="12.6" fill="#ee1133" stroke="#000" stroke-width="1.9"/>
<rect x="1156.2" y="1710.4" width="12.6" height="12.6" fill="#ee1133" stroke="#000" stroke-width="1.9"/>
<rect x="1174.3" y="1710.4" width="12.6" height="12.6" fill="#ee1133" stroke="#000" stroke-width="1.9"/>
<rect x="1191.9" y="1710.4" width="12.6" height="12.6" fill="#ee1133" stroke="#000" stroke-width="1.9"/>
<rect x="1245.7" y="1435.9" width="12.6" height="12.6" fill="#1e83f0" stroke="#000" stroke-width="1.9"/>
<rect x="1245.7" y="1502.0" width="12.6" height="12.6" fill="#1e83f0" stroke="#000" stroke-width="1.9"/>
<rect x="1236.8" y="1542.8" width="12.6" height="12.6" fill="#1e83f0" stroke="#000" stroke-width="1.9"/>
<rect x="1254.4" y="1546.6" width="12.6" height="12.6" fill="#1e83f0" stroke="#000" stroke-width="1.9"/>
<rect x="1254.4" y="1582.8" width="12.6" height="12.6" fill="#1e83f0" stroke="#000" stroke-width="1.9"/>
<rect x="1236.8" y="1591.8" width="12.6" height="12.6" fill="#1e83f0" stroke="#000" stroke-width="1.9"/>
<rect x="1254.4" y="1597.6" width="12.6" height="12.6" fill="#1e83f0" stroke="#000" stroke-width="1.9"/>
<rect x="1236.8" y="1608.9" width="12.6" height="12.6" fill="#1e83f0" stroke="#000" stroke-width="1.9"/>
<rect x="1254.4" y="1615.5" width="12.6" height="12.6" fill="#1e83f0" stroke="#000" stroke-width="1.9"/>
<rect x="1236.8" y="1625.4" width="12.6" height="12.6" fill="#1e83f0" stroke="#000" stroke-width="1.9"/>
<rect x="1254.4" y="1629.3" width="12.6" height="12.6" fill="#1e83f0" stroke="#000" stroke-width="1.9"/>
<rect x="1236.8" y="1637.7" width="12.6" height="12.6" fill="#1e83f0" stroke="#000" stroke-width="1.9"/>
<rect x="1254.4" y="1653.0" width="12.6" height="12.6" fill="#1e83f0" stroke="#000" stroke-width="1.9"/>
<rect x="1271.8" y="1652.2" width="12.6" height="12.6" fill="#1e83f0" stroke="#000" stroke-width="1.9"/>
<rect x="1219.2" y="1657.6" width="12.6" height="12.6" fill="#1e83f0" stroke="#000" stroke-width="1.9"/>
<rect x="1236.8" y="1662.4" width="12.6" height="12.6" fill="#1e83f0" stroke="#000" stroke-width="1.9"/>
<rect x="1254.4" y="1674.9" width="12.6" height="12.6" fill="#1e83f0" stroke="#000" stroke-width="1.9"/>
<rect x="1236.8" y="1684.4" width="12.6" height="12.6" fill="#1e83f0" stroke="#000" stroke-width="1.9"/>
<rect x="1299.8" y="1674.4" width="12.6" height="12.6" fill="#1b7a14" stroke="#000" stroke-width="1.9"/>
<rect x="1326.1" y="1663.4" width="12.6" height="12.6" fill="#1b7a14" stroke="#000" stroke-width="1.9"/>
<rect x="1326.1" y="1683.1" width="12.6" height="12.6" fill="#1b7a14" stroke="#000" stroke-width="1.9"/>
<rect x="1326.1" y="1695.6" width="12.6" height="12.6" fill="#1b7a14" stroke="#000" stroke-width="1.9"/>
<rect x="1352.6" y="1698.4" width="12.6" height="12.6" fill="#1b7a14" stroke="#000" stroke-width="1.9"/>
<rect x="1299.8" y="1705.3" width="12.6" height="12.6" fill="#1b7a14" stroke="#000" stroke-width="1.9"/>
<rect x="1379.9" y="1686.1" width="12.6" height="12.6" fill="#1b7a14" stroke="#000" stroke-width="1.9"/>
<rect x="1397.5" y="1685.1" width="12.6" height="12.6" fill="#1b7a14" stroke="#000" stroke-width="1.9"/>
<rect x="1414.6" y="1685.1" width="12.6" height="12.6" fill="#1b7a14" stroke="#000" stroke-width="1.9"/>
<rect x="1432.5" y="1690.5" width="12.6" height="12.6" fill="#1b7a14" stroke="#000" stroke-width="1.9"/>
<rect x="1379.9" y="1701.7" width="12.6" height="12.6" fill="#1b7a14" stroke="#000" stroke-width="1.9"/>
<rect x="1414.6" y="1701.7" width="12.6" height="12.6" fill="#1b7a14" stroke="#000" stroke-width="1.9"/>
<text font-size="31.7" text-anchor="end" transform="translate(1178.0 1753.2) rotate(-45)">Basal</text>
<text font-size="31.7" text-anchor="end" transform="translate(1259.4 1752.7) rotate(-45)">kp-10</text>
<text font-size="31.7" text-anchor="end" transform="translate(1339.5 1751.7) rotate(-45)">kp-10 + DEA/NO</text>
<text font-size="31.7" text-anchor="end" transform="translate(1419.6 1751.7) rotate(-45)">kp-10 + sildenafil</text>
<path d="M1171.4 1429.6V1415.3H1247.2V1429.6" stroke="#000" stroke-width="2.0" fill="none" />
<path d="M1256.4 1429.6V1415.3H1328.1V1429.6" stroke="#000" stroke-width="2.0" fill="none" />
<path d="M1337 1429.6V1415.3H1412.5V1429.6" stroke="#000" stroke-width="2.0" fill="none" />
<text x="1196.29" y="1431.20" font-size="57.5" font-weight="bold" >*</text>
<line x1="1195.90" y1="1385.20" x2="1216.80" y2="1385.20" stroke="#000" stroke-width="2" />
<text x="1173.66" y="1396.70" font-size="57.5" font-weight="bold" >***</text>
<text x="1260.36" y="1428.60" font-size="57.5" font-weight="bold" >***</text>
<text x="1351.26" y="1407.70" font-size="31.31" >ns</text>
<path d="M1251.8 1373.5V1359.2H1412.5V1373.5" stroke="#000" stroke-width="2.0" fill="none" />
<text x="1317.49" y="1373.00" font-size="57.5" font-weight="bold" >*</text>
<path d="M1171.4 1318.6V1304.3H1332.4V1318.6" stroke="#000" stroke-width="2.0" fill="none" />
<text x="1231.36" y="1295.90" font-size="31.31" >ns</text>
<path d="M1171.4 1262.5V1248.2H1412.5V1262.5" stroke="#000" stroke-width="2.0" fill="none" />
<text x="1273.59" y="1264.10" font-size="57.5" font-weight="bold" >*</text>
<text x="1503.81" y="1165.80" font-size="37" font-weight="bold" >F</text>
<path d="M1649.3 1350.6V1566.9H1710.6V1350.6" fill="#fca9a6" stroke="#000" stroke-width="1.8"/>
<path d="M1728.1 1350.6V1558.0H1789.7V1350.6" fill="#fca9a6" stroke="#2a8cf5" stroke-width="1.8"/>
<path d="M1806.9 1350.6V1568.0H1868.5V1350.6" fill="#fca9a6" stroke="#228a18" stroke-width="1.8"/>
<path d="M1886.0 1350.6V1538.1H1947.6V1350.6" fill="#fca9a6" stroke="#228a18" stroke-width="1.8"/>
<path d="M1679.7 1566.9V1563M1673.7 1563H1685.7" stroke="#000" stroke-width="1.4" fill="none" />
<path d="M1759 1550V1546M1751 1546H1767" stroke="#000" stroke-width="1.4" fill="none" />
<path d="M1837.8 1568V1561.5M1829.8 1561.5H1845.8" stroke="#000" stroke-width="1.4" fill="none" />
<path d="M1916.8 1538.1V1528.5M1908.8 1528.5H1924.8" stroke="#000" stroke-width="1.4" fill="none" />
<line x1="1616.40" y1="1350.60" x2="1616.40" y2="1714.60" stroke="#000" stroke-width="2.2" />
<line x1="1607.00" y1="1350.60" x2="1981.00" y2="1350.60" stroke="#000" stroke-width="2.6" />
<line x1="1607.00" y1="1713.60" x2="1981.00" y2="1713.60" stroke="#000" stroke-width="2.2" />
<line x1="1606.70" y1="1350.60" x2="1616.40" y2="1350.60" stroke="#000" stroke-width="2" />
<text x="1585.94" y="1360.60" font-size="30.7" >0</text>
<line x1="1606.70" y1="1423.10" x2="1616.40" y2="1423.10" stroke="#000" stroke-width="2" />
<text x="1558.61" y="1433.10" font-size="30.7" >-20</text>
<line x1="1606.70" y1="1495.50" x2="1616.40" y2="1495.50" stroke="#000" stroke-width="2" />
<text x="1558.61" y="1505.50" font-size="30.7" >-40</text>
<line x1="1606.70" y1="1568.00" x2="1616.40" y2="1568.00" stroke="#000" stroke-width="2" />
<text x="1558.61" y="1578.00" font-size="30.7" >-60</text>
<line x1="1606.70" y1="1640.70" x2="1616.40" y2="1640.70" stroke="#000" stroke-width="2" />
<text x="1558.61" y="1650.70" font-size="30.7" >-80</text>
<line x1="1606.70" y1="1713.60" x2="1616.40" y2="1713.60" stroke="#000" stroke-width="2" />
<text x="1541.57" y="1723.60" font-size="30.7" >-100</text>
<line x1="1679.20" y1="1713.60" x2="1679.20" y2="1722.80" stroke="#000" stroke-width="2" />
<line x1="1758.00" y1="1713.60" x2="1758.00" y2="1722.80" stroke="#000" stroke-width="2" />
<line x1="1837.10" y1="1713.60" x2="1837.10" y2="1722.80" stroke="#000" stroke-width="2" />
<line x1="1916.40" y1="1713.60" x2="1916.40" y2="1722.80" stroke="#000" stroke-width="2" />
<text font-size="29.6" text-anchor="middle" transform="translate(1528.2 1532.5) rotate(-90)">Membrane potential (mV)</text>
<rect x="1673.4" y="1520.8" width="12.6" height="12.6" fill="#ee1133" stroke="#000" stroke-width="1.9"/>
<rect x="1668.3" y="1541.5" width="12.6" height="12.6" fill="#ee1133" stroke="#000" stroke-width="1.9"/>
<rect x="1657.6" y="1544.6" width="12.6" height="12.6" fill="#ee1133" stroke="#000" stroke-width="1.9"/>
<rect x="1678.0" y="1544.6" width="12.6" height="12.6" fill="#ee1133" stroke="#000" stroke-width="1.9"/>
<rect x="1689.2" y="1545.8" width="12.6" height="12.6" fill="#ee1133" stroke="#000" stroke-width="1.9"/>
<rect x="1657.6" y="1556.0" width="12.6" height="12.6" fill="#ee1133" stroke="#000" stroke-width="1.9"/>
<rect x="1678.0" y="1555.5" width="12.6" height="12.6" fill="#ee1133" stroke="#000" stroke-width="1.9"/>
<rect x="1689.2" y="1557.3" width="12.6" height="12.6" fill="#ee1133" stroke="#000" stroke-width="1.9"/>
<rect x="1668.3" y="1558.6" width="12.6" height="12.6" fill="#ee1133" stroke="#000" stroke-width="1.9"/>
<rect x="1647.1" y="1562.4" width="12.6" height="12.6" fill="#ee1133" stroke="#000" stroke-width="1.9"/>
<rect x="1700.4" y="1565.5" width="12.6" height="12.6" fill="#ee1133" stroke="#000" stroke-width="1.9"/>
<rect x="1657.6" y="1567.5" width="12.6" height="12.6" fill="#ee1133" stroke="#000" stroke-width="1.9"/>
<rect x="1678.0" y="1568.8" width="12.6" height="12.6" fill="#ee1133" stroke="#000" stroke-width="1.9"/>
<rect x="1689.2" y="1570.1" width="12.6" height="12.6" fill="#ee1133" stroke="#000" stroke-width="1.9"/>
<rect x="1668.3" y="1575.9" width="12.6" height="12.6" fill="#ee1133" stroke="#000" stroke-width="1.9"/>
<rect x="1673.4" y="1598.6" width="12.6" height="12.6" fill="#ee1133" stroke="#000" stroke-width="1.9"/>
<rect x="1673.4" y="1625.7" width="12.6" height="12.6" fill="#ee1133" stroke="#000" stroke-width="1.9"/>
<rect x="1673.4" y="1647.9" width="12.6" height="12.6" fill="#ee1133" stroke="#000" stroke-width="1.9"/>
<rect x="1753.0" y="1491.0" width="12.6" height="12.6" fill="#1e83f0" stroke="#000" stroke-width="1.9"/>
<rect x="1743.5" y="1523.4" width="12.6" height="12.6" fill="#1e83f0" stroke="#000" stroke-width="1.9"/>
<rect x="1769.5" y="1524.2" width="12.6" height="12.6" fill="#1e83f0" stroke="#000" stroke-width="1.9"/>
<rect x="1726.4" y="1533.1" width="12.6" height="12.6" fill="#1e83f0" stroke="#000" stroke-width="1.9"/>
<rect x="1744.8" y="1535.6" width="12.6" height="12.6" fill="#1e83f0" stroke="#000" stroke-width="1.9"/>
<rect x="1760.6" y="1537.7" width="12.6" height="12.6" fill="#1e83f0" stroke="#000" stroke-width="1.9"/>
<rect x="1735.1" y="1537.7" width="12.6" height="12.6" fill="#1e83f0" stroke="#000" stroke-width="1.9"/>
<rect x="1778.7" y="1541.5" width="12.6" height="12.6" fill="#1e83f0" stroke="#000" stroke-width="1.9"/>
<rect x="1769.5" y="1541.5" width="12.6" height="12.6" fill="#1e83f0" stroke="#000" stroke-width="1.9"/>
<rect x="1752.5" y="1544.6" width="12.6" height="12.6" fill="#1e83f0" stroke="#000" stroke-width="1.9"/>
<rect x="1726.4" y="1549.7" width="12.6" height="12.6" fill="#1e83f0" stroke="#000" stroke-width="1.9"/>
<rect x="1743.5" y="1551.5" width="12.6" height="12.6" fill="#1e83f0" stroke="#000" stroke-width="1.9"/>
<rect x="1760.6" y="1552.2" width="12.6" height="12.6" fill="#1e83f0" stroke="#000" stroke-width="1.9"/>
<rect x="1778.7" y="1553.5" width="12.6" height="12.6" fill="#1e83f0" stroke="#000" stroke-width="1.9"/>
<rect x="1735.1" y="1553.5" width="12.6" height="12.6" fill="#1e83f0" stroke="#000" stroke-width="1.9"/>
<rect x="1769.5" y="1557.3" width="12.6" height="12.6" fill="#1e83f0" stroke="#000" stroke-width="1.9"/>
<rect x="1752.5" y="1561.1" width="12.6" height="12.6" fill="#1e83f0" stroke="#000" stroke-width="1.9"/>
<rect x="1752.5" y="1574.4" width="12.6" height="12.6" fill="#1e83f0" stroke="#000" stroke-width="1.9"/>
<rect x="1805.5" y="1540.2" width="12.6" height="12.6" fill="#1b7a14" stroke="#000" stroke-width="1.9"/>
<rect x="1857.8" y="1550.2" width="12.6" height="12.6" fill="#1b7a14" stroke="#000" stroke-width="1.9"/>
<rect x="1831.5" y="1555.5" width="12.6" height="12.6" fill="#1b7a14" stroke="#000" stroke-width="1.9"/>
<rect x="1831.5" y="1571.4" width="12.6" height="12.6" fill="#1b7a14" stroke="#000" stroke-width="1.9"/>
<rect x="1857.8" y="1576.5" width="12.6" height="12.6" fill="#1b7a14" stroke="#000" stroke-width="1.9"/>
<rect x="1805.5" y="1582.1" width="12.6" height="12.6" fill="#1b7a14" stroke="#000" stroke-width="1.9"/>
<rect x="1910.6" y="1486.4" width="12.6" height="12.6" fill="#1b7a14" stroke="#000" stroke-width="1.9"/>
<rect x="1910.6" y="1522.4" width="12.6" height="12.6" fill="#1b7a14" stroke="#000" stroke-width="1.9"/>
<rect x="1899.1" y="1537.4" width="12.6" height="12.6" fill="#1b7a14" stroke="#000" stroke-width="1.9"/>
<rect x="1922.1" y="1534.6" width="12.6" height="12.6" fill="#1b7a14" stroke="#000" stroke-width="1.9"/>
<rect x="1922.1" y="1555.3" width="12.6" height="12.6" fill="#1b7a14" stroke="#000" stroke-width="1.9"/>
<rect x="1899.1" y="1559.9" width="12.6" height="12.6" fill="#1b7a14" stroke="#000" stroke-width="1.9"/>
<text font-size="31.3" text-anchor="end" transform="translate(1683.3 1754.1) rotate(-45)">Basal</text>
<text font-size="31.3" text-anchor="end" transform="translate(1762.6 1754.1) rotate(-45)">kp-10</text>
<text font-size="31.3" text-anchor="end" transform="translate(1852.5 1743.0) rotate(-45)">kp-10 + DEA/NO</text>
<text font-size="31.3" text-anchor="end" transform="translate(1931.8 1744.6) rotate(-45)">kp-10 + sildenafil</text>
<path d="M1679.2 1338.3V1324H1754.4V1338.3" stroke="#000" stroke-width="2.0" fill="none" />
<path d="M1762.8 1338.3V1324H1833.8V1338.3" stroke="#000" stroke-width="2.0" fill="none" />
<path d="M1841.9 1338.3V1324H1916.7V1338.3" stroke="#000" stroke-width="2.0" fill="none" />
<text x="1706.59" y="1331.40" font-size="57.5" font-weight="bold" >*</text>
<text x="1787.49" y="1331.40" font-size="57.5" font-weight="bold" >*</text>
<text x="1872.39" y="1331.40" font-size="57.5" font-weight="bold" >*</text>
<path d="M1758 1281.4V1267.1H1916.7V1281.4" stroke="#000" stroke-width="2.0" fill="none" />
<text x="1823.76" y="1256.90" font-size="31.31" >ns</text>
<path d="M1679.2 1226.5V1212.2H1837.8V1226.5" stroke="#000" stroke-width="2.0" fill="none" />
<text x="1746.57" y="1204.10" font-size="31.2" >ns</text>
<path d="M1679.2 1171.7V1157.4H1916.7V1171.7" stroke="#000" stroke-width="2.0" fill="none" />
<text x="1781.09" y="1167.40" font-size="57.5" font-weight="bold" >*</text>
</g>
</svg>
</body></html>
